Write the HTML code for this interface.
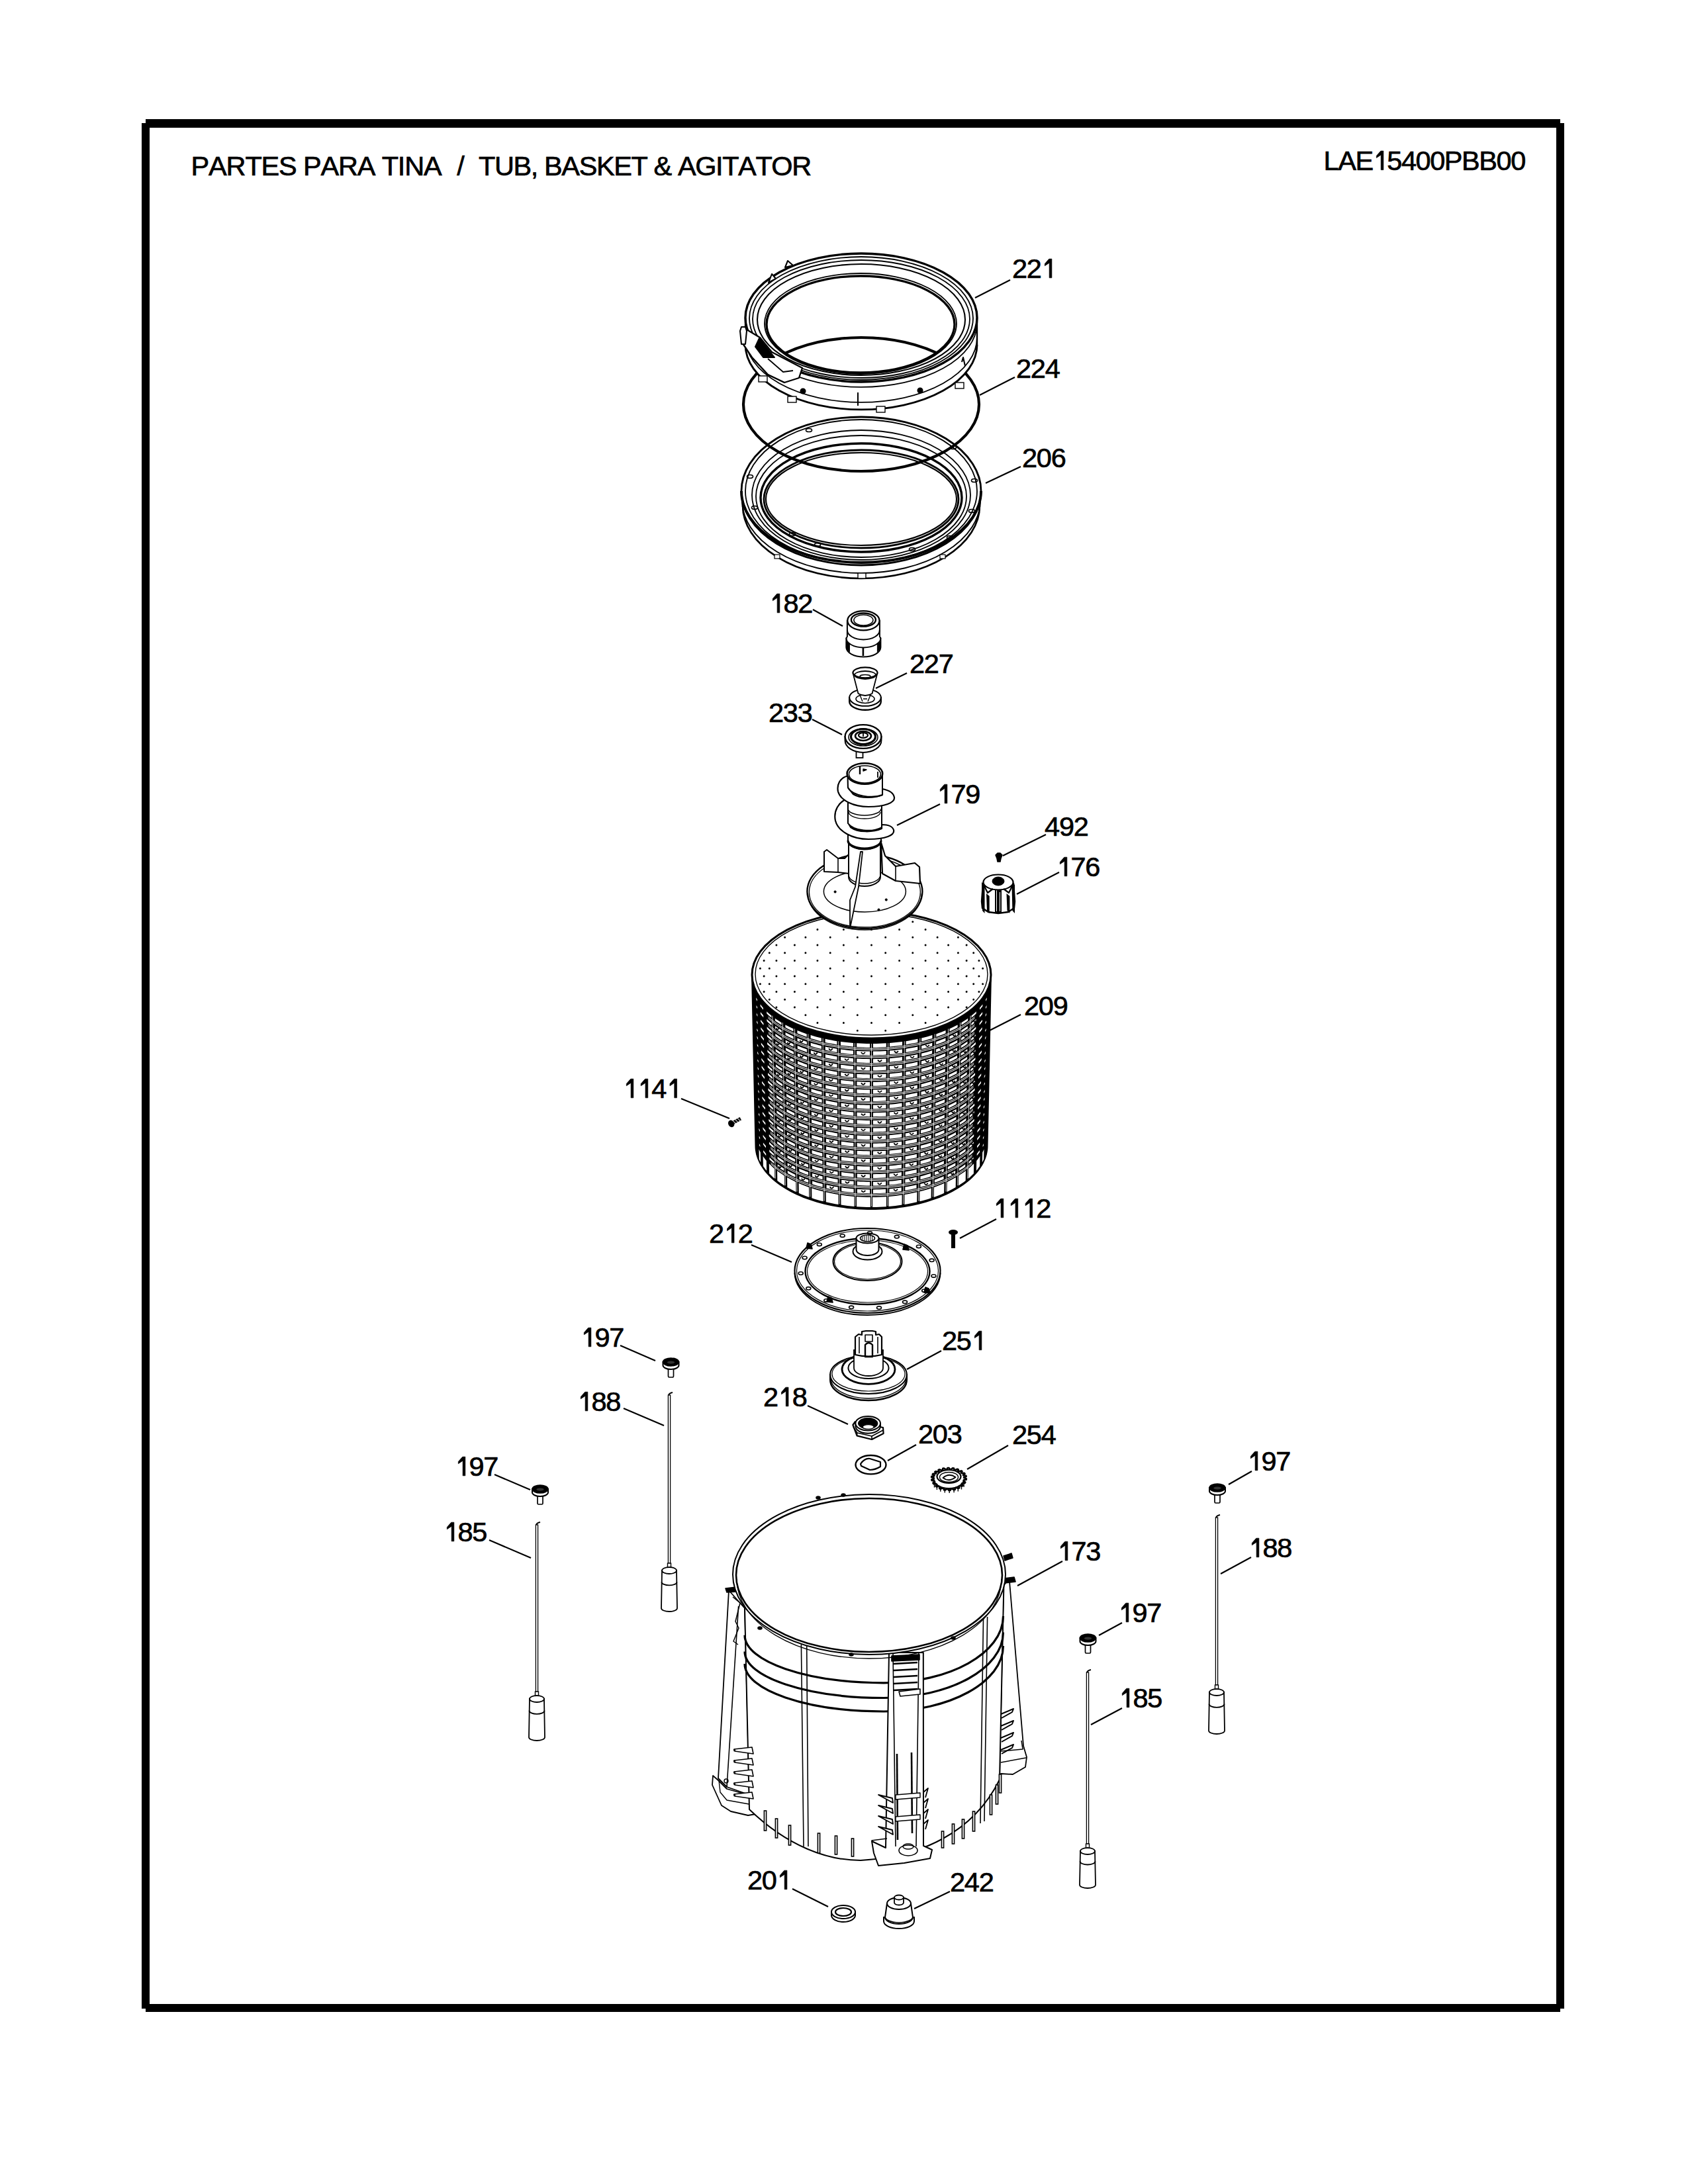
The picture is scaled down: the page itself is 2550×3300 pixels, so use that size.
<!DOCTYPE html>
<html><head><meta charset="utf-8"><style>
html,body{margin:0;padding:0;background:#fff;}
body{width:2550px;height:3300px;position:relative;overflow:hidden;}
svg{position:absolute;left:0;top:0;}
.lb{font-kerning:none;font-feature-settings:"kern" 0;font-family:"Liberation Sans",sans-serif;font-size:41.5px;letter-spacing:-1.2px;fill:#000;stroke:#000;stroke-width:0.7px;}
.tt{font-kerning:none;font-feature-settings:"kern" 0;font-family:"Liberation Sans",sans-serif;font-size:41.5px;fill:#000;stroke:#000;stroke-width:0.7px;white-space:pre;}
</style></head><body>
<svg width="2550" height="3300" viewBox="0 0 2550 3300">
<rect x="220" y="180" width="2137" height="13" fill="#000"/>
<rect x="220" y="3028" width="2137" height="12" fill="#000"/>
<rect x="214" y="186" width="12" height="2849" fill="#000"/>
<rect x="2351" y="186" width="12" height="2849" fill="#000"/>
<text x="288.6" y="264.8" class="tt" style="letter-spacing:-1.17px" xml:space="preserve">PARTES PARA TINA</text>
<text x="690.3" y="264.8" class="tt">/</text>
<text x="723.1" y="264.8" class="tt" style="letter-spacing:-1.41px" xml:space="preserve">TUB, BASKET &amp; AGITATOR</text>
<text x="1999.6" y="256.7" class="tt" style="letter-spacing:-1.45px" xml:space="preserve">LAE 5400PBB00</text>
<path d="M1120,742 A181,110 0 0 0 1482,742 L1482,764 A181,110 0 0 1 1120,764 Z" fill="#fff" stroke="none"/>
<path d="M1122.0,764.0 A179.0,110.0 0 0 0 1480.0,764.0" fill="none" stroke="#000" stroke-width="2.6"/>
<path d="M1121.0,756.0 A180.0,110.0 0 0 0 1481.0,756.0" fill="none" stroke="#000" stroke-width="1.9500000000000002"/>
<ellipse cx="1301.0" cy="742.0" rx="181.0" ry="112.0" fill="none" stroke="#000" stroke-width="2.8600000000000003" />
<ellipse cx="1301.0" cy="742.0" rx="175.0" ry="108.0" fill="none" stroke="#000" stroke-width="1.8199999999999998" />
<ellipse cx="1301.0" cy="748.0" rx="165.0" ry="98.0" fill="none" stroke="#000" stroke-width="1.8199999999999998" />
<ellipse cx="1301.0" cy="750.0" rx="159.0" ry="92.0" fill="none" stroke="#000" stroke-width="1.8199999999999998" />
<ellipse cx="1301.0" cy="752.0" rx="152.0" ry="82.0" fill="none" stroke="#000" stroke-width="3.3800000000000003" />
<ellipse cx="1301.0" cy="754.0" rx="147.0" ry="74.0" fill="none" stroke="#000" stroke-width="2.8600000000000003" />
<ellipse cx="1301.0" cy="754.0" rx="144.0" ry="70.0" fill="none" stroke="#000" stroke-width="2.08" />
<path d="M1120.0,742.0 A181.0,108.0 0 0 0 1482.0,742.0" fill="none" stroke="#000" stroke-width="3.9000000000000004"/>
<ellipse cx="1133.0" cy="720.0" rx="4.5" ry="2.5" fill="none" stroke="#000" stroke-width="1.6900000000000002" />
<ellipse cx="1140.0" cy="767.0" rx="4.5" ry="2.5" fill="none" stroke="#000" stroke-width="1.6900000000000002" />
<ellipse cx="1197.0" cy="807.0" rx="4.5" ry="2.5" fill="none" stroke="#000" stroke-width="1.6900000000000002" />
<ellipse cx="1235.0" cy="823.0" rx="4.5" ry="2.5" fill="none" stroke="#000" stroke-width="1.6900000000000002" />
<ellipse cx="1378.0" cy="830.0" rx="4.5" ry="2.5" fill="none" stroke="#000" stroke-width="1.6900000000000002" />
<ellipse cx="1435.0" cy="812.0" rx="4.5" ry="2.5" fill="none" stroke="#000" stroke-width="1.6900000000000002" />
<ellipse cx="1468.0" cy="772.0" rx="4.5" ry="2.5" fill="none" stroke="#000" stroke-width="1.6900000000000002" />
<ellipse cx="1472.0" cy="726.0" rx="4.5" ry="2.5" fill="none" stroke="#000" stroke-width="1.6900000000000002" />
<ellipse cx="1222.0" cy="650.0" rx="4.5" ry="2.5" fill="none" stroke="#000" stroke-width="1.6900000000000002" />
<ellipse cx="1440.0" cy="676.0" rx="4.5" ry="2.5" fill="none" stroke="#000" stroke-width="1.6900000000000002" />
<rect x="1296" y="866" width="12" height="8" fill="#fff" stroke="#000" stroke-width="1.4"/>
<rect x="1170" y="838" width="8" height="6" fill="#fff" stroke="#000" stroke-width="1.2"/>
<rect x="1420" y="838" width="8" height="6" fill="#fff" stroke="#000" stroke-width="1.2"/>
<ellipse cx="1301.0" cy="611.0" rx="178.0" ry="101.0" fill="none" stroke="#000" stroke-width="4.16" />
<path fill-rule="evenodd" fill="#fff" stroke="none" d="M1126,480 A175,97 0 0 1 1476,480 L1476,521 A175,98 0 0 1 1126,521 Z M1159,490 A142,73 0 0 0 1443,490 A142,73 0 0 0 1159,490 Z"/>
<path d="M1126.0,521.0 A175.0,98.0 0 0 0 1476.0,521.0" fill="none" stroke="#000" stroke-width="2.8600000000000003"/>
<path d="M1126.0,510.0 A175.0,98.0 0 0 0 1476.0,510.0" fill="none" stroke="#000" stroke-width="1.8199999999999998"/>
<path d="M1126.0,488.0 A175.0,97.0 0 0 0 1476.0,488.0" fill="none" stroke="#000" stroke-width="1.8199999999999998"/>
<line x1="1126.0" y1="480.0" x2="1126.0" y2="521.0" stroke="#000" stroke-width="2.3400000000000003"/>
<line x1="1476.0" y1="480.0" x2="1476.0" y2="521.0" stroke="#000" stroke-width="2.3400000000000003"/>
<ellipse cx="1301.0" cy="480.0" rx="175.0" ry="97.0" fill="none" stroke="#000" stroke-width="3.3800000000000003" />
<ellipse cx="1301.0" cy="481.0" rx="169.0" ry="93.0" fill="none" stroke="#000" stroke-width="1.8199999999999998" />
<ellipse cx="1301.0" cy="482.0" rx="164.0" ry="89.0" fill="none" stroke="#000" stroke-width="1.8199999999999998" />
<ellipse cx="1301.0" cy="483.0" rx="157.0" ry="84.0" fill="none" stroke="#000" stroke-width="2.08" />
<ellipse cx="1300.0" cy="489.0" rx="145.0" ry="76.0" fill="none" stroke="#000" stroke-width="1.8199999999999998" />
<ellipse cx="1300.0" cy="490.0" rx="142.0" ry="73.0" fill="none" stroke="#000" stroke-width="3.3800000000000003" />
<path d="M1120,516 L1128,498 L1148,510 L1166,532 L1212,556 L1207,571 L1185,578 L1160,566 L1136,540 Z" fill="#fff" stroke="#000" stroke-width="2.3400000000000003" stroke-linejoin="round"/>
<path d="M1147,511 L1141,524 L1153,540 L1170,540 Z" fill="#000" stroke="#000" stroke-width="1.9500000000000002" stroke-linejoin="round"/>
<path d="M1136,540 L1160,566 L1185,578 M1160,542 L1183,562 L1198,560" fill="none" stroke="#000" stroke-width="1.8199999999999998" stroke-linejoin="round"/>
<path d="M1118,500 L1120,494 L1126,494 L1128,500 L1126,520 L1120,520 Z" fill="#fff" stroke="#000" stroke-width="2.08" stroke-linejoin="round"/>
<path d="M1161,427 L1166,414 L1172,421 Z" fill="#fff" stroke="#000" stroke-width="2.08" stroke-linejoin="round"/>
<path d="M1186,404 L1190,394 L1198,401 Z" fill="#fff" stroke="#000" stroke-width="2.08" stroke-linejoin="round"/>
<rect x="1146" y="568" width="13" height="9" fill="#fff" stroke="#000" stroke-width="1.4"/>
<rect x="1190" y="599" width="13" height="9" fill="#fff" stroke="#000" stroke-width="1.4"/>
<rect x="1324" y="614" width="13" height="9" fill="#fff" stroke="#000" stroke-width="1.4"/>
<rect x="1443" y="578" width="13" height="9" fill="#fff" stroke="#000" stroke-width="1.4"/>
<ellipse cx="1213.0" cy="591.0" rx="3.5" ry="3.5" fill="#000" stroke="#000" stroke-width="2.08" />
<ellipse cx="1390.0" cy="590.0" rx="3.5" ry="3.5" fill="#000" stroke="#000" stroke-width="2.08" />
<line x1="1296.0" y1="593.0" x2="1296.0" y2="613.0" stroke="#000" stroke-width="2.08"/>
<path d="M1453,547 L1455,540 L1458,553" fill="none" stroke="#000" stroke-width="2.08" stroke-linejoin="round"/>
<path d="M1136.0,1473.0 L1136.1,1476.4 L1136.4,1479.7 L1137.0,1483.0 L1137.8,1486.4 L1138.7,1489.7 L1139.9,1493.0 L1141.4,1496.2 L1143.0,1499.5 L1144.8,1502.7 L1146.9,1505.8 L1149.1,1509.0 L1151.6,1512.0 L1154.3,1515.1 L1157.1,1518.1 L1160.2,1521.0 L1163.4,1523.9 L1166.9,1526.7 L1170.5,1529.4 L1174.3,1532.1 L1178.2,1534.7 L1182.4,1537.2 L1186.7,1539.7 L1191.1,1542.1 L1195.7,1544.3 L1200.5,1546.5 L1205.4,1548.6 L1210.4,1550.7 L1215.6,1552.6 L1220.8,1554.4 L1226.2,1556.1 L1231.8,1557.8 L1237.4,1559.3 L1243.1,1560.7 L1248.9,1562.0 L1254.8,1563.2 L1260.7,1564.3 L1266.7,1565.3 L1272.8,1566.1 L1279.0,1566.9 L1285.2,1567.5 L1291.4,1568.1 L1297.6,1568.5 L1303.9,1568.8 L1310.2,1568.9 L1316.5,1569.0 L1322.8,1568.9 L1329.1,1568.8 L1335.4,1568.5 L1341.6,1568.1 L1347.8,1567.5 L1354.0,1566.9 L1360.2,1566.1 L1366.3,1565.3 L1372.3,1564.3 L1378.2,1563.2 L1384.1,1562.0 L1389.9,1560.7 L1395.6,1559.3 L1401.2,1557.8 L1406.8,1556.1 L1412.2,1554.4 L1417.4,1552.6 L1422.6,1550.7 L1427.6,1548.6 L1432.5,1546.5 L1437.3,1544.3 L1441.9,1542.1 L1446.3,1539.7 L1450.6,1537.2 L1454.8,1534.7 L1458.7,1532.1 L1462.5,1529.4 L1466.1,1526.7 L1469.6,1523.9 L1472.8,1521.0 L1475.9,1518.1 L1478.7,1515.1 L1481.4,1512.0 L1483.9,1509.0 L1486.1,1505.8 L1488.2,1502.7 L1490.0,1499.5 L1491.6,1496.2 L1493.1,1493.0 L1494.3,1489.7 L1495.2,1486.4 L1496.0,1483.0 L1496.6,1479.7 L1496.9,1476.4 L1497.0,1473.0 L1491.5,1731.0 L1491.4,1734.4 L1491.1,1737.7 L1490.5,1741.0 L1489.8,1744.4 L1488.8,1747.7 L1487.7,1751.0 L1486.3,1754.2 L1484.7,1757.5 L1482.9,1760.7 L1480.9,1763.8 L1478.8,1767.0 L1476.4,1770.0 L1473.8,1773.1 L1471.0,1776.1 L1468.1,1779.0 L1464.9,1781.9 L1461.6,1784.7 L1458.1,1787.4 L1454.4,1790.1 L1450.6,1792.7 L1446.6,1795.2 L1442.4,1797.7 L1438.1,1800.1 L1433.6,1802.3 L1429.0,1804.5 L1424.2,1806.6 L1419.4,1808.7 L1414.4,1810.6 L1409.2,1812.4 L1404.0,1814.1 L1398.7,1815.8 L1393.2,1817.3 L1387.7,1818.7 L1382.1,1820.0 L1376.4,1821.2 L1370.6,1822.3 L1364.7,1823.3 L1358.8,1824.1 L1352.9,1824.9 L1346.9,1825.5 L1340.9,1826.1 L1334.8,1826.5 L1328.7,1826.8 L1322.6,1826.9 L1316.5,1827.0 L1310.4,1826.9 L1304.3,1826.8 L1298.2,1826.5 L1292.1,1826.1 L1286.1,1825.5 L1280.1,1824.9 L1274.2,1824.1 L1268.3,1823.3 L1262.4,1822.3 L1256.6,1821.2 L1250.9,1820.0 L1245.3,1818.7 L1239.8,1817.3 L1234.3,1815.8 L1229.0,1814.1 L1223.8,1812.4 L1218.6,1810.6 L1213.6,1808.7 L1208.8,1806.6 L1204.0,1804.5 L1199.4,1802.3 L1194.9,1800.1 L1190.6,1797.7 L1186.4,1795.2 L1182.4,1792.7 L1178.6,1790.1 L1174.9,1787.4 L1171.4,1784.7 L1168.1,1781.9 L1164.9,1779.0 L1162.0,1776.1 L1159.2,1773.1 L1156.6,1770.0 L1154.2,1767.0 L1152.1,1763.8 L1150.1,1760.7 L1148.3,1757.5 L1146.7,1754.2 L1145.3,1751.0 L1144.2,1747.7 L1143.2,1744.4 L1142.5,1741.0 L1141.9,1737.7 L1141.6,1734.4 L1141.5,1731.0 Z" fill="#000" stroke="#000" stroke-width="2"/>
<path d="M1142.3,1507.3 L1142.7,1508.0 L1143.1,1508.8 L1143.5,1509.5 L1143.9,1510.2 L1143.9,1513.0 L1143.5,1512.2 L1143.1,1511.5 L1142.7,1510.8 L1142.4,1510.1ZM1148.6,1517.4 L1149.7,1518.8 L1150.7,1520.2 L1151.8,1521.5 L1153.0,1522.9 L1153.0,1525.8 L1151.9,1524.5 L1150.8,1523.1 L1149.7,1521.8 L1148.7,1520.4ZM1158.2,1528.2 L1159.9,1529.9 L1161.6,1531.4 L1163.4,1533.0 L1165.3,1534.6 L1165.4,1537.8 L1163.5,1536.3 L1161.7,1534.7 L1159.9,1533.1 L1158.3,1531.5ZM1170.8,1538.7 L1173.2,1540.4 L1175.6,1542.0 L1178.0,1543.6 L1180.6,1545.2 L1180.6,1548.8 L1178.1,1547.2 L1175.6,1545.6 L1173.2,1543.9 L1170.9,1542.3ZM1186.3,1548.4 L1189.3,1549.9 L1192.3,1551.5 L1195.3,1553.0 L1198.5,1554.5 L1198.5,1558.5 L1195.4,1557.0 L1192.3,1555.5 L1189.3,1553.9 L1186.4,1552.3ZM1204.4,1556.9 L1207.8,1558.3 L1211.4,1559.7 L1215.0,1561.1 L1218.7,1562.4 L1218.7,1566.7 L1215.1,1565.4 L1211.4,1564.1 L1207.9,1562.7 L1204.4,1561.3ZM1224.6,1564.1 L1228.5,1565.3 L1232.6,1566.5 L1236.6,1567.6 L1240.8,1568.6 L1240.8,1573.4 L1236.7,1572.4 L1232.6,1571.3 L1228.6,1570.1 L1224.6,1568.9ZM1246.6,1569.8 L1251.0,1570.8 L1255.4,1571.6 L1259.9,1572.5 L1264.4,1573.2 L1264.4,1578.4 L1259.9,1577.6 L1255.4,1576.8 L1251.0,1575.9 L1246.6,1575.0ZM1269.9,1573.9 L1274.6,1574.5 L1279.4,1575.1 L1284.2,1575.6 L1289.0,1576.0 L1289.0,1581.5 L1284.2,1581.1 L1279.4,1580.6 L1274.7,1580.0 L1270.0,1579.4ZM1294.2,1576.3 L1299.2,1576.6 L1304.1,1576.8 L1309.1,1576.9 L1314.1,1577.0 L1314.1,1582.8 L1309.1,1582.7 L1304.1,1582.5 L1299.2,1582.3 L1294.2,1582.0ZM1318.9,1577.0 L1323.9,1576.9 L1328.9,1576.8 L1333.8,1576.6 L1338.8,1576.3 L1338.8,1582.0 L1333.8,1582.3 L1328.9,1582.5 L1323.9,1582.7 L1318.9,1582.8ZM1344.0,1576.0 L1348.8,1575.6 L1353.6,1575.1 L1358.4,1574.5 L1363.1,1573.9 L1363.0,1579.4 L1358.3,1580.0 L1353.6,1580.6 L1348.8,1581.1 L1344.0,1581.5ZM1368.6,1573.2 L1373.1,1572.5 L1377.6,1571.6 L1382.0,1570.8 L1386.4,1569.8 L1386.4,1575.0 L1382.0,1575.9 L1377.6,1576.8 L1373.1,1577.6 L1368.6,1578.4ZM1392.2,1568.6 L1396.4,1567.6 L1400.4,1566.5 L1404.5,1565.3 L1408.4,1564.1 L1408.4,1568.9 L1404.4,1570.1 L1400.4,1571.3 L1396.3,1572.4 L1392.2,1573.4ZM1414.3,1562.4 L1418.0,1561.1 L1421.6,1559.7 L1425.2,1558.3 L1428.6,1556.9 L1428.6,1561.3 L1425.1,1562.7 L1421.6,1564.1 L1417.9,1565.4 L1414.3,1566.7ZM1434.5,1554.5 L1437.7,1553.0 L1440.7,1551.5 L1443.7,1549.9 L1446.7,1548.4 L1446.6,1552.3 L1443.7,1553.9 L1440.7,1555.5 L1437.6,1557.0 L1434.5,1558.5ZM1452.4,1545.2 L1455.0,1543.6 L1457.4,1542.0 L1459.8,1540.4 L1462.2,1538.7 L1462.1,1542.3 L1459.8,1543.9 L1457.4,1545.6 L1454.9,1547.2 L1452.4,1548.8ZM1467.7,1534.6 L1469.6,1533.0 L1471.4,1531.4 L1473.1,1529.9 L1474.8,1528.2 L1474.7,1531.5 L1473.1,1533.1 L1471.3,1534.7 L1469.5,1536.3 L1467.6,1537.8ZM1480.0,1522.9 L1481.2,1521.5 L1482.3,1520.2 L1483.3,1518.8 L1484.4,1517.4 L1484.3,1520.4 L1483.3,1521.8 L1482.2,1523.1 L1481.1,1524.5 L1480.0,1525.8ZM1489.1,1510.2 L1489.5,1509.5 L1489.9,1508.8 L1490.3,1508.0 L1490.7,1507.3 L1490.6,1510.1 L1490.3,1510.8 L1489.9,1511.5 L1489.5,1512.2 L1489.1,1513.0ZM1142.6,1518.9 L1142.9,1519.6 L1143.3,1520.4 L1143.7,1521.1 L1144.1,1521.8 L1144.1,1524.5 L1143.7,1523.8 L1143.4,1523.1 L1143.0,1522.4 L1142.6,1521.7ZM1148.9,1529.0 L1149.9,1530.4 L1151.0,1531.8 L1152.1,1533.1 L1153.2,1534.5 L1153.3,1537.4 L1152.1,1536.1 L1151.0,1534.7 L1149.9,1533.4 L1148.9,1532.0ZM1158.4,1539.8 L1160.1,1541.5 L1161.8,1543.1 L1163.7,1544.6 L1165.5,1546.2 L1165.6,1549.4 L1163.7,1547.9 L1161.9,1546.3 L1160.2,1544.7 L1158.5,1543.1ZM1171.1,1550.3 L1173.4,1552.0 L1175.8,1553.6 L1178.2,1555.2 L1180.8,1556.8 L1180.8,1560.4 L1178.3,1558.8 L1175.8,1557.2 L1173.4,1555.5 L1171.1,1553.9ZM1186.5,1560.0 L1189.4,1561.6 L1192.4,1563.1 L1195.5,1564.6 L1198.6,1566.1 L1198.7,1570.0 L1195.6,1568.6 L1192.5,1567.1 L1189.5,1565.5 L1186.6,1563.9ZM1204.5,1568.5 L1208.0,1569.9 L1211.5,1571.3 L1215.1,1572.7 L1218.8,1574.0 L1218.9,1578.3 L1215.2,1577.0 L1211.6,1575.7 L1208.1,1574.3 L1204.6,1572.9ZM1224.7,1575.7 L1228.7,1576.9 L1232.7,1578.1 L1236.8,1579.2 L1240.9,1580.2 L1240.9,1585.0 L1236.8,1584.0 L1232.7,1582.9 L1228.7,1581.7 L1224.8,1580.5ZM1246.7,1581.4 L1251.0,1582.4 L1255.5,1583.2 L1259.9,1584.1 L1264.4,1584.8 L1264.5,1590.0 L1260.0,1589.2 L1255.5,1588.4 L1251.1,1587.5 L1246.7,1586.6ZM1270.0,1585.5 L1274.7,1586.1 L1279.4,1586.7 L1284.2,1587.2 L1289.0,1587.6 L1289.0,1593.1 L1284.2,1592.7 L1279.5,1592.2 L1274.7,1591.6 L1270.0,1591.0ZM1294.2,1587.9 L1299.2,1588.2 L1304.1,1588.4 L1309.1,1588.5 L1314.1,1588.6 L1314.1,1594.4 L1309.1,1594.3 L1304.2,1594.1 L1299.2,1593.9 L1294.2,1593.6ZM1318.9,1588.6 L1323.9,1588.5 L1328.9,1588.4 L1333.8,1588.2 L1338.8,1587.9 L1338.8,1593.6 L1333.8,1593.9 L1328.8,1594.1 L1323.9,1594.3 L1318.9,1594.4ZM1344.0,1587.6 L1348.8,1587.2 L1353.6,1586.7 L1358.3,1586.1 L1363.0,1585.5 L1363.0,1591.0 L1358.3,1591.6 L1353.5,1592.2 L1348.8,1592.7 L1344.0,1593.1ZM1368.6,1584.8 L1373.1,1584.1 L1377.5,1583.2 L1382.0,1582.4 L1386.3,1581.4 L1386.3,1586.6 L1381.9,1587.5 L1377.5,1588.4 L1373.0,1589.2 L1368.5,1590.0ZM1392.1,1580.2 L1396.2,1579.2 L1400.3,1578.1 L1404.3,1576.9 L1408.3,1575.7 L1408.2,1580.5 L1404.3,1581.7 L1400.3,1582.9 L1396.2,1584.0 L1392.1,1585.0ZM1414.2,1574.0 L1417.9,1572.7 L1421.5,1571.3 L1425.0,1569.9 L1428.5,1568.5 L1428.4,1572.9 L1424.9,1574.3 L1421.4,1575.7 L1417.8,1577.0 L1414.1,1578.3ZM1434.4,1566.1 L1437.5,1564.6 L1440.6,1563.1 L1443.6,1561.6 L1446.5,1560.0 L1446.4,1563.9 L1443.5,1565.5 L1440.5,1567.1 L1437.4,1568.6 L1434.3,1570.0ZM1452.2,1556.8 L1454.8,1555.2 L1457.2,1553.6 L1459.6,1552.0 L1461.9,1550.3 L1461.9,1553.9 L1459.6,1555.5 L1457.2,1557.2 L1454.7,1558.8 L1452.2,1560.4ZM1467.5,1546.2 L1469.3,1544.6 L1471.2,1543.1 L1472.9,1541.5 L1474.6,1539.8 L1474.5,1543.1 L1472.8,1544.7 L1471.1,1546.3 L1469.3,1547.9 L1467.4,1549.4ZM1479.8,1534.5 L1480.9,1533.1 L1482.0,1531.8 L1483.1,1530.4 L1484.1,1529.0 L1484.1,1532.0 L1483.1,1533.4 L1482.0,1534.7 L1480.9,1536.1 L1479.7,1537.4ZM1488.9,1521.8 L1489.3,1521.1 L1489.7,1520.4 L1490.1,1519.6 L1490.4,1518.9 L1490.4,1521.7 L1490.0,1522.4 L1489.6,1523.1 L1489.3,1523.8 L1488.9,1524.5ZM1142.8,1530.5 L1143.2,1531.2 L1143.5,1532.0 L1143.9,1532.7 L1144.3,1533.4 L1144.4,1536.1 L1144.0,1535.4 L1143.6,1534.7 L1143.2,1534.0 L1142.9,1533.3ZM1149.1,1540.7 L1150.1,1542.0 L1151.2,1543.4 L1152.3,1544.7 L1153.4,1546.1 L1153.5,1549.0 L1152.3,1547.7 L1151.2,1546.3 L1150.2,1545.0 L1149.1,1543.6ZM1158.6,1551.4 L1160.3,1553.1 L1162.1,1554.7 L1163.9,1556.2 L1165.7,1557.8 L1165.8,1561.0 L1163.9,1559.5 L1162.1,1557.9 L1160.4,1556.3 L1158.7,1554.7ZM1171.3,1561.9 L1173.6,1563.6 L1176.0,1565.2 L1178.4,1566.8 L1180.9,1568.4 L1181.0,1572.0 L1178.5,1570.4 L1176.0,1568.8 L1173.6,1567.1 L1171.3,1565.5ZM1186.7,1571.6 L1189.6,1573.2 L1192.6,1574.7 L1195.7,1576.2 L1198.8,1577.7 L1198.8,1581.6 L1195.7,1580.2 L1192.7,1578.7 L1189.7,1577.1 L1186.8,1575.5ZM1204.7,1580.1 L1208.2,1581.5 L1211.7,1582.9 L1215.3,1584.3 L1218.9,1585.6 L1219.0,1589.9 L1215.3,1588.6 L1211.7,1587.3 L1208.2,1585.9 L1204.7,1584.5ZM1224.8,1587.3 L1228.8,1588.5 L1232.8,1589.7 L1236.9,1590.8 L1241.0,1591.8 L1241.0,1596.6 L1236.9,1595.6 L1232.8,1594.5 L1228.8,1593.3 L1224.9,1592.1ZM1246.8,1593.0 L1251.1,1594.0 L1255.6,1594.8 L1260.0,1595.7 L1264.5,1596.4 L1264.5,1601.6 L1260.0,1600.8 L1255.6,1600.0 L1251.2,1599.1 L1246.8,1598.2ZM1270.1,1597.1 L1274.8,1597.7 L1279.5,1598.3 L1284.3,1598.8 L1289.0,1599.2 L1289.1,1604.7 L1284.3,1604.3 L1279.5,1603.8 L1274.8,1603.2 L1270.1,1602.6ZM1294.3,1599.5 L1299.2,1599.8 L1304.2,1600.0 L1309.1,1600.1 L1314.1,1600.2 L1314.1,1606.0 L1309.1,1605.9 L1304.2,1605.7 L1299.2,1605.5 L1294.3,1605.2ZM1318.9,1600.2 L1323.9,1600.1 L1328.8,1600.0 L1333.8,1599.8 L1338.7,1599.5 L1338.7,1605.2 L1333.8,1605.5 L1328.8,1605.7 L1323.9,1605.9 L1318.9,1606.0ZM1344.0,1599.2 L1348.7,1598.8 L1353.5,1598.3 L1358.2,1597.7 L1362.9,1597.1 L1362.9,1602.6 L1358.2,1603.2 L1353.5,1603.8 L1348.7,1604.3 L1343.9,1604.7ZM1368.5,1596.4 L1373.0,1595.7 L1377.4,1594.8 L1381.9,1594.0 L1386.2,1593.0 L1386.2,1598.2 L1381.8,1599.1 L1377.4,1600.0 L1373.0,1600.8 L1368.5,1601.6ZM1392.0,1591.8 L1396.1,1590.8 L1400.2,1589.7 L1404.2,1588.5 L1408.2,1587.3 L1408.1,1592.1 L1404.2,1593.3 L1400.2,1594.5 L1396.1,1595.6 L1392.0,1596.6ZM1414.1,1585.6 L1417.7,1584.3 L1421.3,1582.9 L1424.8,1581.5 L1428.3,1580.1 L1428.3,1584.5 L1424.8,1585.9 L1421.3,1587.3 L1417.7,1588.6 L1414.0,1589.9ZM1434.2,1577.7 L1437.3,1576.2 L1440.4,1574.7 L1443.4,1573.2 L1446.3,1571.6 L1446.2,1575.5 L1443.3,1577.1 L1440.3,1578.7 L1437.3,1580.2 L1434.2,1581.6ZM1452.1,1568.4 L1454.6,1566.8 L1457.0,1565.2 L1459.4,1563.6 L1461.7,1561.9 L1461.7,1565.5 L1459.4,1567.1 L1457.0,1568.8 L1454.5,1570.4 L1452.0,1572.0ZM1467.3,1557.8 L1469.1,1556.2 L1470.9,1554.7 L1472.7,1553.1 L1474.4,1551.4 L1474.3,1554.7 L1472.6,1556.3 L1470.9,1557.9 L1469.1,1559.5 L1467.2,1561.0ZM1479.6,1546.1 L1480.7,1544.7 L1481.8,1543.4 L1482.9,1542.0 L1483.9,1540.7 L1483.9,1543.6 L1482.8,1545.0 L1481.8,1546.3 L1480.7,1547.7 L1479.5,1549.0ZM1488.7,1533.4 L1489.1,1532.7 L1489.5,1532.0 L1489.8,1531.2 L1490.2,1530.5 L1490.1,1533.3 L1489.8,1534.0 L1489.4,1534.7 L1489.0,1535.4 L1488.6,1536.1ZM1143.0,1542.1 L1143.4,1542.8 L1143.8,1543.6 L1144.2,1544.3 L1144.6,1545.0 L1144.6,1547.7 L1144.2,1547.0 L1143.8,1546.3 L1143.5,1545.6 L1143.1,1544.9ZM1149.3,1552.3 L1150.4,1553.6 L1151.4,1555.0 L1152.5,1556.3 L1153.7,1557.7 L1153.7,1560.6 L1152.6,1559.3 L1151.5,1557.9 L1150.4,1556.6 L1149.4,1555.2ZM1158.9,1563.1 L1160.5,1564.7 L1162.3,1566.3 L1164.1,1567.8 L1165.9,1569.4 L1166.0,1572.6 L1164.1,1571.1 L1162.3,1569.5 L1160.6,1567.9 L1158.9,1566.3ZM1171.5,1573.5 L1173.8,1575.2 L1176.2,1576.8 L1178.6,1578.4 L1181.1,1580.0 L1181.2,1583.5 L1178.7,1582.0 L1176.2,1580.4 L1173.8,1578.7 L1171.5,1577.1ZM1186.9,1583.2 L1189.8,1584.8 L1192.8,1586.3 L1195.8,1587.8 L1198.9,1589.3 L1199.0,1593.2 L1195.9,1591.8 L1192.8,1590.3 L1189.9,1588.7 L1187.0,1587.1ZM1204.8,1591.7 L1208.3,1593.1 L1211.8,1594.5 L1215.4,1595.9 L1219.1,1597.2 L1219.1,1601.5 L1215.5,1600.2 L1211.9,1598.9 L1208.4,1597.5 L1204.9,1596.1ZM1225.0,1598.9 L1228.9,1600.1 L1232.9,1601.3 L1237.0,1602.4 L1241.1,1603.4 L1241.1,1608.2 L1237.0,1607.2 L1233.0,1606.1 L1229.0,1604.9 L1225.0,1603.7ZM1246.9,1604.6 L1251.2,1605.6 L1255.6,1606.4 L1260.1,1607.3 L1264.6,1608.0 L1264.6,1613.2 L1260.1,1612.4 L1255.7,1611.6 L1251.3,1610.7 L1246.9,1609.8ZM1270.1,1608.7 L1274.8,1609.3 L1279.5,1609.9 L1284.3,1610.4 L1289.1,1610.8 L1289.1,1616.3 L1284.3,1615.9 L1279.6,1615.4 L1274.9,1614.8 L1270.2,1614.2ZM1294.3,1611.1 L1299.2,1611.4 L1304.2,1611.6 L1309.1,1611.7 L1314.1,1611.8 L1314.1,1617.6 L1309.1,1617.5 L1304.2,1617.3 L1299.2,1617.1 L1294.3,1616.8ZM1318.9,1611.8 L1323.9,1611.7 L1328.8,1611.6 L1333.8,1611.4 L1338.7,1611.1 L1338.7,1616.8 L1333.8,1617.1 L1328.8,1617.3 L1323.9,1617.5 L1318.9,1617.6ZM1343.9,1610.8 L1348.7,1610.4 L1353.5,1609.9 L1358.2,1609.3 L1362.9,1608.7 L1362.8,1614.2 L1358.1,1614.8 L1353.4,1615.4 L1348.7,1615.9 L1343.9,1616.3ZM1368.4,1608.0 L1372.9,1607.3 L1377.4,1606.4 L1381.8,1605.6 L1386.1,1604.6 L1386.1,1609.8 L1381.7,1610.7 L1377.3,1611.6 L1372.9,1612.4 L1368.4,1613.2ZM1391.9,1603.4 L1396.0,1602.4 L1400.1,1601.3 L1404.1,1600.1 L1408.0,1598.9 L1408.0,1603.7 L1404.0,1604.9 L1400.0,1606.1 L1396.0,1607.2 L1391.9,1608.2ZM1413.9,1597.2 L1417.6,1595.9 L1421.2,1594.5 L1424.7,1593.1 L1428.2,1591.7 L1428.1,1596.1 L1424.6,1597.5 L1421.1,1598.9 L1417.5,1600.2 L1413.9,1601.5ZM1434.1,1589.3 L1437.2,1587.8 L1440.2,1586.3 L1443.2,1584.8 L1446.1,1583.2 L1446.0,1587.1 L1443.1,1588.7 L1440.2,1590.3 L1437.1,1591.8 L1434.0,1593.2ZM1451.9,1580.0 L1454.4,1578.4 L1456.8,1576.8 L1459.2,1575.2 L1461.5,1573.5 L1461.5,1577.1 L1459.2,1578.7 L1456.8,1580.4 L1454.3,1582.0 L1451.8,1583.5ZM1467.1,1569.4 L1468.9,1567.8 L1470.7,1566.3 L1472.5,1564.7 L1474.1,1563.1 L1474.1,1566.3 L1472.4,1567.9 L1470.7,1569.5 L1468.9,1571.1 L1467.0,1572.6ZM1479.3,1557.7 L1480.5,1556.3 L1481.6,1555.0 L1482.6,1553.6 L1483.7,1552.3 L1483.6,1555.2 L1482.6,1556.6 L1481.5,1557.9 L1480.4,1559.3 L1479.3,1560.6ZM1488.4,1545.0 L1488.8,1544.3 L1489.2,1543.6 L1489.6,1542.8 L1490.0,1542.1 L1489.9,1544.9 L1489.5,1545.6 L1489.2,1546.3 L1488.8,1547.0 L1488.4,1547.7ZM1143.3,1553.7 L1143.6,1554.5 L1144.0,1555.2 L1144.4,1555.9 L1144.8,1556.6 L1144.9,1559.3 L1144.5,1558.6 L1144.1,1557.9 L1143.7,1557.2 L1143.3,1556.5ZM1149.6,1563.9 L1150.6,1565.2 L1151.6,1566.6 L1152.7,1567.9 L1153.9,1569.3 L1153.9,1572.2 L1152.8,1570.9 L1151.7,1569.5 L1150.6,1568.2 L1149.6,1566.8ZM1159.1,1574.7 L1160.8,1576.3 L1162.5,1577.9 L1164.3,1579.4 L1166.1,1581.0 L1166.2,1584.2 L1164.3,1582.7 L1162.6,1581.1 L1160.8,1579.5 L1159.1,1577.9ZM1171.7,1585.1 L1174.0,1586.8 L1176.4,1588.4 L1178.8,1590.0 L1181.3,1591.6 L1181.4,1595.1 L1178.9,1593.6 L1176.4,1592.0 L1174.0,1590.3 L1171.7,1588.7ZM1187.1,1594.8 L1190.0,1596.4 L1193.0,1597.9 L1196.0,1599.4 L1199.1,1600.9 L1199.2,1604.8 L1196.1,1603.4 L1193.0,1601.9 L1190.0,1600.3 L1187.1,1598.7ZM1205.0,1603.3 L1208.5,1604.7 L1212.0,1606.1 L1215.6,1607.5 L1219.2,1608.8 L1219.2,1613.1 L1215.6,1611.8 L1212.0,1610.5 L1208.5,1609.1 L1205.1,1607.7ZM1225.1,1610.5 L1229.0,1611.7 L1233.0,1612.9 L1237.1,1614.0 L1241.2,1615.0 L1241.2,1619.8 L1237.1,1618.8 L1233.1,1617.7 L1229.1,1616.5 L1225.1,1615.3ZM1247.0,1616.2 L1251.3,1617.2 L1255.7,1618.0 L1260.2,1618.9 L1264.6,1619.6 L1264.7,1624.8 L1260.2,1624.0 L1255.8,1623.2 L1251.4,1622.3 L1247.0,1621.4ZM1270.2,1620.3 L1274.9,1620.9 L1279.6,1621.5 L1284.3,1622.0 L1289.1,1622.4 L1289.1,1627.9 L1284.4,1627.5 L1279.6,1627.0 L1274.9,1626.4 L1270.2,1625.8ZM1294.3,1622.7 L1299.3,1623.0 L1304.2,1623.2 L1309.1,1623.3 L1314.1,1623.4 L1314.1,1629.2 L1309.2,1629.1 L1304.2,1628.9 L1299.3,1628.7 L1294.4,1628.4ZM1318.9,1623.4 L1323.9,1623.3 L1328.8,1623.2 L1333.7,1623.0 L1338.7,1622.7 L1338.6,1628.4 L1333.7,1628.7 L1328.8,1628.9 L1323.8,1629.1 L1318.9,1629.2ZM1343.9,1622.4 L1348.7,1622.0 L1353.4,1621.5 L1358.1,1620.9 L1362.8,1620.3 L1362.8,1625.8 L1358.1,1626.4 L1353.4,1627.0 L1348.6,1627.5 L1343.9,1627.9ZM1368.4,1619.6 L1372.8,1618.9 L1377.3,1618.0 L1381.7,1617.2 L1386.0,1616.2 L1386.0,1621.4 L1381.6,1622.3 L1377.2,1623.2 L1372.8,1624.0 L1368.3,1624.8ZM1391.8,1615.0 L1395.9,1614.0 L1400.0,1612.9 L1404.0,1611.7 L1407.9,1610.5 L1407.9,1615.3 L1403.9,1616.5 L1399.9,1617.7 L1395.9,1618.8 L1391.8,1619.8ZM1413.8,1608.8 L1417.4,1607.5 L1421.0,1606.1 L1424.5,1604.7 L1428.0,1603.3 L1427.9,1607.7 L1424.5,1609.1 L1421.0,1610.5 L1417.4,1611.8 L1413.8,1613.1ZM1433.9,1600.9 L1437.0,1599.4 L1440.0,1597.9 L1443.0,1596.4 L1445.9,1594.8 L1445.9,1598.7 L1443.0,1600.3 L1440.0,1601.9 L1436.9,1603.4 L1433.8,1604.8ZM1451.7,1591.6 L1454.2,1590.0 L1456.6,1588.4 L1459.0,1586.8 L1461.3,1585.1 L1461.3,1588.7 L1459.0,1590.3 L1456.6,1592.0 L1454.1,1593.6 L1451.6,1595.1ZM1466.9,1581.0 L1468.7,1579.4 L1470.5,1577.9 L1472.2,1576.3 L1473.9,1574.7 L1473.9,1577.9 L1472.2,1579.5 L1470.4,1581.1 L1468.7,1582.7 L1466.8,1584.2ZM1479.1,1569.3 L1480.3,1567.9 L1481.4,1566.6 L1482.4,1565.2 L1483.4,1563.9 L1483.4,1566.8 L1482.4,1568.2 L1481.3,1569.5 L1480.2,1570.9 L1479.1,1572.2ZM1488.2,1556.6 L1488.6,1555.9 L1489.0,1555.2 L1489.4,1554.5 L1489.7,1553.7 L1489.7,1556.5 L1489.3,1557.2 L1488.9,1557.9 L1488.5,1558.6 L1488.1,1559.3ZM1143.5,1565.4 L1143.9,1566.1 L1144.3,1566.8 L1144.6,1567.5 L1145.0,1568.2 L1145.1,1570.9 L1144.7,1570.2 L1144.3,1569.5 L1143.9,1568.8 L1143.6,1568.1ZM1149.8,1575.5 L1150.8,1576.8 L1151.9,1578.2 L1153.0,1579.5 L1154.1,1580.9 L1154.2,1583.8 L1153.0,1582.5 L1151.9,1581.1 L1150.9,1579.8 L1149.9,1578.4ZM1159.3,1586.3 L1161.0,1587.9 L1162.7,1589.5 L1164.5,1591.0 L1166.3,1592.6 L1166.4,1595.8 L1164.5,1594.3 L1162.8,1592.7 L1161.0,1591.1 L1159.4,1589.5ZM1171.9,1596.7 L1174.2,1598.4 L1176.6,1600.0 L1179.0,1601.6 L1181.5,1603.2 L1181.5,1606.7 L1179.0,1605.2 L1176.6,1603.6 L1174.2,1601.9 L1171.9,1600.3ZM1187.3,1606.4 L1190.2,1608.0 L1193.1,1609.5 L1196.2,1611.0 L1199.3,1612.5 L1199.3,1616.4 L1196.2,1615.0 L1193.2,1613.5 L1190.2,1611.9 L1187.3,1610.3ZM1205.2,1614.9 L1208.6,1616.3 L1212.1,1617.7 L1215.7,1619.1 L1219.3,1620.4 L1219.4,1624.7 L1215.7,1623.4 L1212.2,1622.1 L1208.7,1620.7 L1205.2,1619.3ZM1225.2,1622.1 L1229.2,1623.3 L1233.1,1624.5 L1237.2,1625.6 L1241.3,1626.6 L1241.3,1631.4 L1237.2,1630.4 L1233.2,1629.3 L1229.2,1628.1 L1225.3,1626.9ZM1247.1,1627.8 L1251.4,1628.8 L1255.8,1629.6 L1260.2,1630.5 L1264.7,1631.2 L1264.7,1636.4 L1260.3,1635.6 L1255.8,1634.8 L1251.5,1633.9 L1247.1,1633.0ZM1270.3,1631.9 L1274.9,1632.5 L1279.6,1633.1 L1284.4,1633.6 L1289.1,1634.0 L1289.2,1639.5 L1284.4,1639.1 L1279.7,1638.6 L1275.0,1638.0 L1270.3,1637.4ZM1294.4,1634.3 L1299.3,1634.6 L1304.2,1634.8 L1309.2,1634.9 L1314.1,1635.0 L1314.1,1640.8 L1309.2,1640.7 L1304.2,1640.5 L1299.3,1640.3 L1294.4,1640.0ZM1318.9,1635.0 L1323.8,1634.9 L1328.8,1634.8 L1333.7,1634.6 L1338.6,1634.3 L1338.6,1640.0 L1333.7,1640.3 L1328.8,1640.5 L1323.8,1640.7 L1318.9,1640.8ZM1343.9,1634.0 L1348.6,1633.6 L1353.4,1633.1 L1358.1,1632.5 L1362.7,1631.9 L1362.7,1637.4 L1358.0,1638.0 L1353.3,1638.6 L1348.6,1639.1 L1343.8,1639.5ZM1368.3,1631.2 L1372.8,1630.5 L1377.2,1629.6 L1381.6,1628.8 L1385.9,1627.8 L1385.9,1633.0 L1381.5,1633.9 L1377.2,1634.8 L1372.7,1635.6 L1368.3,1636.4ZM1391.7,1626.6 L1395.8,1625.6 L1399.9,1624.5 L1403.8,1623.3 L1407.8,1622.1 L1407.7,1626.9 L1403.8,1628.1 L1399.8,1629.3 L1395.8,1630.4 L1391.7,1631.4ZM1413.7,1620.4 L1417.3,1619.1 L1420.9,1617.7 L1424.4,1616.3 L1427.8,1614.9 L1427.8,1619.3 L1424.3,1620.7 L1420.8,1622.1 L1417.3,1623.4 L1413.6,1624.7ZM1433.7,1612.5 L1436.8,1611.0 L1439.9,1609.5 L1442.8,1608.0 L1445.7,1606.4 L1445.7,1610.3 L1442.8,1611.9 L1439.8,1613.5 L1436.8,1615.0 L1433.7,1616.4ZM1451.5,1603.2 L1454.0,1601.6 L1456.4,1600.0 L1458.8,1598.4 L1461.1,1596.7 L1461.1,1600.3 L1458.8,1601.9 L1456.4,1603.6 L1454.0,1605.2 L1451.5,1606.7ZM1466.7,1592.6 L1468.5,1591.0 L1470.3,1589.5 L1472.0,1587.9 L1473.7,1586.3 L1473.6,1589.5 L1472.0,1591.1 L1470.2,1592.7 L1468.5,1594.3 L1466.6,1595.8ZM1478.9,1580.9 L1480.0,1579.5 L1481.1,1578.2 L1482.2,1576.8 L1483.2,1575.5 L1483.1,1578.4 L1482.1,1579.8 L1481.1,1581.1 L1480.0,1582.5 L1478.8,1583.8ZM1488.0,1568.2 L1488.4,1567.5 L1488.7,1566.8 L1489.1,1566.1 L1489.5,1565.4 L1489.4,1568.1 L1489.1,1568.8 L1488.7,1569.5 L1488.3,1570.2 L1487.9,1570.9ZM1143.8,1577.0 L1144.1,1577.7 L1144.5,1578.4 L1144.9,1579.1 L1145.3,1579.8 L1145.3,1582.5 L1144.9,1581.8 L1144.6,1581.1 L1144.2,1580.4 L1143.8,1579.7ZM1150.0,1587.1 L1151.0,1588.4 L1152.1,1589.8 L1153.2,1591.1 L1154.3,1592.5 L1154.4,1595.4 L1153.3,1594.1 L1152.2,1592.7 L1151.1,1591.4 L1150.1,1590.0ZM1159.5,1597.9 L1161.2,1599.5 L1162.9,1601.1 L1164.7,1602.6 L1166.5,1604.2 L1166.6,1607.4 L1164.8,1605.9 L1163.0,1604.3 L1161.3,1602.7 L1159.6,1601.1ZM1172.1,1608.3 L1174.4,1610.0 L1176.7,1611.6 L1179.2,1613.2 L1181.7,1614.8 L1181.7,1618.3 L1179.2,1616.8 L1176.8,1615.2 L1174.4,1613.5 L1172.1,1611.9ZM1187.4,1618.0 L1190.3,1619.6 L1193.3,1621.1 L1196.3,1622.6 L1199.4,1624.1 L1199.5,1628.0 L1196.4,1626.6 L1193.4,1625.1 L1190.4,1623.5 L1187.5,1621.9ZM1205.3,1626.5 L1208.8,1627.9 L1212.3,1629.3 L1215.8,1630.7 L1219.5,1632.0 L1219.5,1636.3 L1215.9,1635.0 L1212.3,1633.7 L1208.8,1632.3 L1205.4,1630.9ZM1225.4,1633.7 L1229.3,1634.9 L1233.3,1636.1 L1237.3,1637.2 L1241.4,1638.2 L1241.4,1643.0 L1237.3,1642.0 L1233.3,1640.9 L1229.3,1639.7 L1225.4,1638.5ZM1247.2,1639.4 L1251.5,1640.4 L1255.9,1641.2 L1260.3,1642.1 L1264.8,1642.8 L1264.8,1648.0 L1260.3,1647.2 L1255.9,1646.4 L1251.5,1645.5 L1247.2,1644.6ZM1270.3,1643.5 L1275.0,1644.1 L1279.7,1644.7 L1284.4,1645.2 L1289.2,1645.6 L1289.2,1651.1 L1284.4,1650.7 L1279.7,1650.2 L1275.0,1649.6 L1270.4,1649.0ZM1294.4,1645.9 L1299.3,1646.2 L1304.2,1646.4 L1309.2,1646.5 L1314.1,1646.6 L1314.1,1652.4 L1309.2,1652.3 L1304.2,1652.1 L1299.3,1651.9 L1294.4,1651.6ZM1318.9,1646.6 L1323.8,1646.5 L1328.8,1646.4 L1333.7,1646.2 L1338.6,1645.9 L1338.6,1651.6 L1333.7,1651.9 L1328.8,1652.1 L1323.8,1652.3 L1318.9,1652.4ZM1343.8,1645.6 L1348.6,1645.2 L1353.3,1644.7 L1358.0,1644.1 L1362.7,1643.5 L1362.6,1649.0 L1358.0,1649.6 L1353.3,1650.2 L1348.6,1650.7 L1343.8,1651.1ZM1368.2,1642.8 L1372.7,1642.1 L1377.1,1641.2 L1381.5,1640.4 L1385.8,1639.4 L1385.8,1644.6 L1381.5,1645.5 L1377.1,1646.4 L1372.7,1647.2 L1368.2,1648.0ZM1391.6,1638.2 L1395.7,1637.2 L1399.7,1636.1 L1403.7,1634.9 L1407.6,1633.7 L1407.6,1638.5 L1403.7,1639.7 L1399.7,1640.9 L1395.7,1642.0 L1391.6,1643.0ZM1413.5,1632.0 L1417.2,1630.7 L1420.7,1629.3 L1424.2,1627.9 L1427.7,1626.5 L1427.6,1630.9 L1424.2,1632.3 L1420.7,1633.7 L1417.1,1635.0 L1413.5,1636.3ZM1433.6,1624.1 L1436.7,1622.6 L1439.7,1621.1 L1442.7,1619.6 L1445.6,1618.0 L1445.5,1621.9 L1442.6,1623.5 L1439.6,1625.1 L1436.6,1626.6 L1433.5,1628.0ZM1451.3,1614.8 L1453.8,1613.2 L1456.3,1611.6 L1458.6,1610.0 L1460.9,1608.3 L1460.9,1611.9 L1458.6,1613.5 L1456.2,1615.2 L1453.8,1616.8 L1451.3,1618.3ZM1466.5,1604.2 L1468.3,1602.6 L1470.1,1601.1 L1471.8,1599.5 L1473.5,1597.9 L1473.4,1601.1 L1471.7,1602.7 L1470.0,1604.3 L1468.2,1605.9 L1466.4,1607.4ZM1478.7,1592.5 L1479.8,1591.1 L1480.9,1589.8 L1482.0,1588.4 L1483.0,1587.1 L1482.9,1590.0 L1481.9,1591.4 L1480.8,1592.7 L1479.7,1594.1 L1478.6,1595.4ZM1487.7,1579.8 L1488.1,1579.1 L1488.5,1578.4 L1488.9,1577.7 L1489.2,1577.0 L1489.2,1579.7 L1488.8,1580.4 L1488.4,1581.1 L1488.1,1581.8 L1487.7,1582.5ZM1144.0,1588.6 L1144.4,1589.3 L1144.7,1590.0 L1145.1,1590.7 L1145.5,1591.4 L1145.6,1594.1 L1145.2,1593.4 L1144.8,1592.7 L1144.4,1592.0 L1144.1,1591.3ZM1150.3,1598.7 L1151.3,1600.0 L1152.3,1601.4 L1153.4,1602.7 L1154.5,1604.1 L1154.6,1607.0 L1153.5,1605.7 L1152.4,1604.3 L1151.3,1603.0 L1150.3,1601.6ZM1159.7,1609.5 L1161.4,1611.1 L1163.1,1612.7 L1164.9,1614.2 L1166.7,1615.8 L1166.8,1619.0 L1165.0,1617.5 L1163.2,1615.9 L1161.5,1614.3 L1159.8,1612.7ZM1172.3,1619.9 L1174.6,1621.6 L1176.9,1623.2 L1179.4,1624.8 L1181.9,1626.4 L1181.9,1629.9 L1179.4,1628.4 L1177.0,1626.8 L1174.6,1625.2 L1172.3,1623.5ZM1187.6,1629.6 L1190.5,1631.2 L1193.5,1632.7 L1196.5,1634.2 L1199.6,1635.7 L1199.6,1639.6 L1196.6,1638.2 L1193.5,1636.7 L1190.6,1635.1 L1187.7,1633.5ZM1205.5,1638.1 L1208.9,1639.5 L1212.4,1640.9 L1216.0,1642.3 L1219.6,1643.6 L1219.6,1647.9 L1216.0,1646.6 L1212.5,1645.3 L1209.0,1643.9 L1205.5,1642.5ZM1225.5,1645.3 L1229.4,1646.5 L1233.4,1647.7 L1237.4,1648.8 L1241.5,1649.8 L1241.5,1654.6 L1237.5,1653.6 L1233.4,1652.5 L1229.5,1651.3 L1225.5,1650.1ZM1247.3,1651.0 L1251.6,1652.0 L1256.0,1652.8 L1260.4,1653.7 L1264.8,1654.4 L1264.9,1659.6 L1260.4,1658.8 L1256.0,1658.0 L1251.6,1657.1 L1247.3,1656.2ZM1270.4,1655.1 L1275.1,1655.7 L1279.8,1656.3 L1284.5,1656.8 L1289.2,1657.2 L1289.2,1662.7 L1284.5,1662.3 L1279.8,1661.8 L1275.1,1661.2 L1270.4,1660.6ZM1294.4,1657.5 L1299.3,1657.8 L1304.3,1658.0 L1309.2,1658.1 L1314.1,1658.2 L1314.1,1664.0 L1309.2,1663.9 L1304.3,1663.7 L1299.3,1663.5 L1294.5,1663.2ZM1318.9,1658.2 L1323.8,1658.1 L1328.7,1658.0 L1333.7,1657.8 L1338.6,1657.5 L1338.5,1663.2 L1333.7,1663.5 L1328.7,1663.7 L1323.8,1663.9 L1318.9,1664.0ZM1343.8,1657.2 L1348.5,1656.8 L1353.2,1656.3 L1357.9,1655.7 L1362.6,1655.1 L1362.6,1660.6 L1357.9,1661.2 L1353.2,1661.8 L1348.5,1662.3 L1343.8,1662.7ZM1368.2,1654.4 L1372.6,1653.7 L1377.0,1652.8 L1381.4,1652.0 L1385.7,1651.0 L1385.7,1656.2 L1381.4,1657.1 L1377.0,1658.0 L1372.6,1658.8 L1368.1,1659.6ZM1391.5,1649.8 L1395.6,1648.8 L1399.6,1647.7 L1403.6,1646.5 L1407.5,1645.3 L1407.5,1650.1 L1403.5,1651.3 L1399.6,1652.5 L1395.5,1653.6 L1391.5,1654.6ZM1413.4,1643.6 L1417.0,1642.3 L1420.6,1640.9 L1424.1,1639.5 L1427.5,1638.1 L1427.5,1642.5 L1424.0,1643.9 L1420.5,1645.3 L1417.0,1646.6 L1413.4,1647.9ZM1433.4,1635.7 L1436.5,1634.2 L1439.5,1632.7 L1442.5,1631.2 L1445.4,1629.6 L1445.3,1633.5 L1442.4,1635.1 L1439.5,1636.7 L1436.4,1638.2 L1433.4,1639.6ZM1451.1,1626.4 L1453.6,1624.8 L1456.1,1623.2 L1458.4,1621.6 L1460.7,1619.9 L1460.7,1623.5 L1458.4,1625.2 L1456.0,1626.8 L1453.6,1628.4 L1451.1,1629.9ZM1466.3,1615.8 L1468.1,1614.2 L1469.9,1612.7 L1471.6,1611.1 L1473.3,1609.5 L1473.2,1612.7 L1471.5,1614.3 L1469.8,1615.9 L1468.0,1617.5 L1466.2,1619.0ZM1478.5,1604.1 L1479.6,1602.7 L1480.7,1601.4 L1481.7,1600.0 L1482.7,1598.7 L1482.7,1601.6 L1481.7,1603.0 L1480.6,1604.3 L1479.5,1605.7 L1478.4,1607.0ZM1487.5,1591.4 L1487.9,1590.7 L1488.3,1590.0 L1488.6,1589.3 L1489.0,1588.6 L1488.9,1591.3 L1488.6,1592.0 L1488.2,1592.7 L1487.8,1593.4 L1487.4,1594.1ZM1144.3,1600.2 L1144.6,1600.9 L1145.0,1601.6 L1145.4,1602.3 L1145.7,1603.0 L1145.8,1605.7 L1145.4,1605.0 L1145.0,1604.3 L1144.7,1603.6 L1144.3,1602.9ZM1150.5,1610.3 L1151.5,1611.6 L1152.6,1613.0 L1153.6,1614.3 L1154.8,1615.7 L1154.8,1618.6 L1153.7,1617.3 L1152.6,1615.9 L1151.6,1614.6 L1150.6,1613.2ZM1160.0,1621.1 L1161.6,1622.7 L1163.3,1624.3 L1165.1,1625.8 L1166.9,1627.4 L1167.0,1630.6 L1165.2,1629.1 L1163.4,1627.5 L1161.7,1625.9 L1160.0,1624.3ZM1172.5,1631.5 L1174.8,1633.2 L1177.1,1634.8 L1179.6,1636.4 L1182.0,1638.0 L1182.1,1641.5 L1179.6,1640.0 L1177.2,1638.4 L1174.8,1636.8 L1172.6,1635.1ZM1187.8,1641.2 L1190.7,1642.8 L1193.6,1644.3 L1196.7,1645.8 L1199.7,1647.3 L1199.8,1651.2 L1196.7,1649.8 L1193.7,1648.3 L1190.8,1646.7 L1187.9,1645.1ZM1205.6,1649.7 L1209.1,1651.1 L1212.6,1652.5 L1216.1,1653.9 L1219.7,1655.2 L1219.8,1659.5 L1216.2,1658.2 L1212.6,1656.9 L1209.1,1655.5 L1205.7,1654.1ZM1225.6,1656.9 L1229.5,1658.1 L1233.5,1659.3 L1237.5,1660.4 L1241.6,1661.4 L1241.6,1666.2 L1237.6,1665.2 L1233.5,1664.1 L1229.6,1662.9 L1225.7,1661.7ZM1247.4,1662.6 L1251.7,1663.6 L1256.1,1664.4 L1260.5,1665.3 L1264.9,1666.0 L1264.9,1671.2 L1260.5,1670.4 L1256.1,1669.6 L1251.7,1668.7 L1247.4,1667.8ZM1270.5,1666.7 L1275.1,1667.3 L1279.8,1667.9 L1284.5,1668.4 L1289.2,1668.8 L1289.3,1674.3 L1284.5,1673.9 L1279.8,1673.4 L1275.2,1672.8 L1270.5,1672.2ZM1294.5,1669.1 L1299.4,1669.4 L1304.3,1669.6 L1309.2,1669.7 L1314.1,1669.8 L1314.1,1675.6 L1309.2,1675.5 L1304.3,1675.3 L1299.4,1675.1 L1294.5,1674.8ZM1318.9,1669.8 L1323.8,1669.7 L1328.7,1669.6 L1333.6,1669.4 L1338.5,1669.1 L1338.5,1674.8 L1333.6,1675.1 L1328.7,1675.3 L1323.8,1675.5 L1318.9,1675.6ZM1343.8,1668.8 L1348.5,1668.4 L1353.2,1667.9 L1357.9,1667.3 L1362.5,1666.7 L1362.5,1672.2 L1357.8,1672.8 L1353.2,1673.4 L1348.5,1673.9 L1343.7,1674.3ZM1368.1,1666.0 L1372.5,1665.3 L1376.9,1664.4 L1381.3,1663.6 L1385.6,1662.6 L1385.6,1667.8 L1381.3,1668.7 L1376.9,1669.6 L1372.5,1670.4 L1368.1,1671.2ZM1391.4,1661.4 L1395.5,1660.4 L1399.5,1659.3 L1403.5,1658.1 L1407.4,1656.9 L1407.3,1661.7 L1403.4,1662.9 L1399.5,1664.1 L1395.4,1665.2 L1391.4,1666.2ZM1413.3,1655.2 L1416.9,1653.9 L1420.4,1652.5 L1423.9,1651.1 L1427.4,1649.7 L1427.3,1654.1 L1423.9,1655.5 L1420.4,1656.9 L1416.8,1658.2 L1413.2,1659.5ZM1433.3,1647.3 L1436.3,1645.8 L1439.4,1644.3 L1442.3,1642.8 L1445.2,1641.2 L1445.1,1645.1 L1442.2,1646.7 L1439.3,1648.3 L1436.3,1649.8 L1433.2,1651.2ZM1451.0,1638.0 L1453.4,1636.4 L1455.9,1634.8 L1458.2,1633.2 L1460.5,1631.5 L1460.4,1635.1 L1458.2,1636.8 L1455.8,1638.4 L1453.4,1640.0 L1450.9,1641.5ZM1466.1,1627.4 L1467.9,1625.8 L1469.7,1624.3 L1471.4,1622.7 L1473.0,1621.1 L1473.0,1624.3 L1471.3,1625.9 L1469.6,1627.5 L1467.8,1629.1 L1466.0,1630.6ZM1478.2,1615.7 L1479.4,1614.3 L1480.4,1613.0 L1481.5,1611.6 L1482.5,1610.3 L1482.4,1613.2 L1481.4,1614.6 L1480.4,1615.9 L1479.3,1617.3 L1478.2,1618.6ZM1487.3,1603.0 L1487.6,1602.3 L1488.0,1601.6 L1488.4,1600.9 L1488.7,1600.2 L1488.7,1602.9 L1488.3,1603.6 L1488.0,1604.3 L1487.6,1605.0 L1487.2,1605.7ZM1144.5,1611.8 L1144.9,1612.5 L1145.2,1613.2 L1145.6,1613.9 L1146.0,1614.6 L1146.0,1617.3 L1145.6,1616.6 L1145.3,1615.9 L1144.9,1615.2 L1144.6,1614.5ZM1150.7,1621.9 L1151.7,1623.3 L1152.8,1624.6 L1153.9,1625.9 L1155.0,1627.3 L1155.0,1630.2 L1153.9,1628.9 L1152.8,1627.5 L1151.8,1626.2 L1150.8,1624.8ZM1160.2,1632.7 L1161.9,1634.3 L1163.6,1635.9 L1165.3,1637.4 L1167.2,1639.0 L1167.2,1642.2 L1165.4,1640.7 L1163.6,1639.1 L1161.9,1637.5 L1160.3,1635.9ZM1172.7,1643.1 L1175.0,1644.8 L1177.3,1646.4 L1179.7,1648.0 L1182.2,1649.6 L1182.3,1653.1 L1179.8,1651.6 L1177.4,1650.0 L1175.0,1648.4 L1172.8,1646.7ZM1188.0,1652.8 L1190.9,1654.4 L1193.8,1655.9 L1196.8,1657.4 L1199.9,1658.9 L1200.0,1662.8 L1196.9,1661.4 L1193.9,1659.9 L1190.9,1658.3 L1188.1,1656.7ZM1205.8,1661.3 L1209.2,1662.7 L1212.7,1664.1 L1216.2,1665.5 L1219.9,1666.8 L1219.9,1671.1 L1216.3,1669.8 L1212.8,1668.5 L1209.3,1667.1 L1205.9,1665.7ZM1225.8,1668.5 L1229.7,1669.7 L1233.6,1670.9 L1237.6,1672.0 L1241.7,1673.0 L1241.7,1677.8 L1237.7,1676.8 L1233.7,1675.7 L1229.7,1674.5 L1225.8,1673.3ZM1247.5,1674.2 L1251.8,1675.2 L1256.1,1676.0 L1260.5,1676.9 L1265.0,1677.6 L1265.0,1682.8 L1260.6,1682.0 L1256.2,1681.2 L1251.8,1680.3 L1247.5,1679.4ZM1270.5,1678.3 L1275.2,1678.9 L1279.9,1679.5 L1284.6,1680.0 L1289.3,1680.4 L1289.3,1685.9 L1284.6,1685.5 L1279.9,1685.0 L1275.2,1684.4 L1270.6,1683.8ZM1294.5,1680.7 L1299.4,1681.0 L1304.3,1681.2 L1309.2,1681.3 L1314.1,1681.4 L1314.1,1687.2 L1309.2,1687.1 L1304.3,1686.9 L1299.4,1686.7 L1294.5,1686.4ZM1318.9,1681.4 L1323.8,1681.3 L1328.7,1681.2 L1333.6,1681.0 L1338.5,1680.7 L1338.5,1686.4 L1333.6,1686.7 L1328.7,1686.9 L1323.8,1687.1 L1318.9,1687.2ZM1343.7,1680.4 L1348.4,1680.0 L1353.1,1679.5 L1357.8,1678.9 L1362.5,1678.3 L1362.4,1683.8 L1357.8,1684.4 L1353.1,1685.0 L1348.4,1685.5 L1343.7,1685.9ZM1368.0,1677.6 L1372.5,1676.9 L1376.9,1676.0 L1381.2,1675.2 L1385.5,1674.2 L1385.5,1679.4 L1381.2,1680.3 L1376.8,1681.2 L1372.4,1682.0 L1368.0,1682.8ZM1391.3,1673.0 L1395.4,1672.0 L1399.4,1670.9 L1403.3,1669.7 L1407.2,1668.5 L1407.2,1673.3 L1403.3,1674.5 L1399.3,1675.7 L1395.3,1676.8 L1391.3,1677.8ZM1413.1,1666.8 L1416.8,1665.5 L1420.3,1664.1 L1423.8,1662.7 L1427.2,1661.3 L1427.1,1665.7 L1423.7,1667.1 L1420.2,1668.5 L1416.7,1669.8 L1413.1,1671.1ZM1433.1,1658.9 L1436.2,1657.4 L1439.2,1655.9 L1442.1,1654.4 L1445.0,1652.8 L1444.9,1656.7 L1442.1,1658.3 L1439.1,1659.9 L1436.1,1661.4 L1433.0,1662.8ZM1450.8,1649.6 L1453.3,1648.0 L1455.7,1646.4 L1458.0,1644.8 L1460.3,1643.1 L1460.2,1646.7 L1458.0,1648.4 L1455.6,1650.0 L1453.2,1651.6 L1450.7,1653.1ZM1465.8,1639.0 L1467.7,1637.4 L1469.4,1635.9 L1471.1,1634.3 L1472.8,1632.7 L1472.7,1635.9 L1471.1,1637.5 L1469.4,1639.1 L1467.6,1640.7 L1465.8,1642.2ZM1478.0,1627.3 L1479.1,1625.9 L1480.2,1624.6 L1481.3,1623.3 L1482.3,1621.9 L1482.2,1624.8 L1481.2,1626.2 L1480.2,1627.5 L1479.1,1628.9 L1478.0,1630.2ZM1487.0,1614.6 L1487.4,1613.9 L1487.8,1613.2 L1488.1,1612.5 L1488.5,1611.8 L1488.4,1614.5 L1488.1,1615.2 L1487.7,1615.9 L1487.4,1616.6 L1487.0,1617.3ZM1144.7,1623.4 L1145.1,1624.1 L1145.5,1624.8 L1145.8,1625.5 L1146.2,1626.2 L1146.3,1628.9 L1145.9,1628.2 L1145.5,1627.5 L1145.2,1626.8 L1144.8,1626.1ZM1151.0,1633.5 L1152.0,1634.9 L1153.0,1636.2 L1154.1,1637.5 L1155.2,1638.9 L1155.3,1641.8 L1154.2,1640.5 L1153.1,1639.1 L1152.0,1637.8 L1151.0,1636.5ZM1160.4,1644.3 L1162.1,1645.9 L1163.8,1647.5 L1165.5,1649.0 L1167.4,1650.6 L1167.4,1653.8 L1165.6,1652.3 L1163.8,1650.7 L1162.1,1649.1 L1160.5,1647.5ZM1172.9,1654.7 L1175.2,1656.4 L1177.5,1658.0 L1179.9,1659.6 L1182.4,1661.2 L1182.5,1664.7 L1180.0,1663.2 L1177.6,1661.6 L1175.2,1660.0 L1173.0,1658.3ZM1188.2,1664.4 L1191.0,1666.0 L1194.0,1667.5 L1197.0,1669.0 L1200.1,1670.5 L1200.1,1674.4 L1197.0,1673.0 L1194.0,1671.5 L1191.1,1669.9 L1188.2,1668.3ZM1206.0,1672.9 L1209.4,1674.3 L1212.8,1675.7 L1216.4,1677.1 L1220.0,1678.4 L1220.0,1682.7 L1216.4,1681.4 L1212.9,1680.1 L1209.4,1678.7 L1206.0,1677.3ZM1225.9,1680.1 L1229.8,1681.3 L1233.7,1682.5 L1237.7,1683.6 L1241.8,1684.6 L1241.8,1689.4 L1237.8,1688.4 L1233.8,1687.3 L1229.8,1686.1 L1225.9,1684.9ZM1247.6,1685.8 L1251.9,1686.8 L1256.2,1687.6 L1260.6,1688.5 L1265.0,1689.2 L1265.1,1694.4 L1260.7,1693.6 L1256.3,1692.8 L1251.9,1691.9 L1247.6,1691.0ZM1270.6,1689.9 L1275.2,1690.5 L1279.9,1691.1 L1284.6,1691.6 L1289.3,1692.0 L1289.3,1697.5 L1284.6,1697.1 L1279.9,1696.6 L1275.3,1696.0 L1270.6,1695.4ZM1294.5,1692.3 L1299.4,1692.6 L1304.3,1692.8 L1309.2,1692.9 L1314.1,1693.0 L1314.1,1698.8 L1309.2,1698.7 L1304.3,1698.5 L1299.4,1698.3 L1294.6,1698.0ZM1318.9,1693.0 L1323.8,1692.9 L1328.7,1692.8 L1333.6,1692.6 L1338.5,1692.3 L1338.4,1698.0 L1333.6,1698.3 L1328.7,1698.5 L1323.8,1698.7 L1318.9,1698.8ZM1343.7,1692.0 L1348.4,1691.6 L1353.1,1691.1 L1357.8,1690.5 L1362.4,1689.9 L1362.4,1695.4 L1357.7,1696.0 L1353.1,1696.6 L1348.4,1697.1 L1343.7,1697.5ZM1368.0,1689.2 L1372.4,1688.5 L1376.8,1687.6 L1381.1,1686.8 L1385.4,1685.8 L1385.4,1691.0 L1381.1,1691.9 L1376.7,1692.8 L1372.3,1693.6 L1367.9,1694.4ZM1391.2,1684.6 L1395.3,1683.6 L1399.3,1682.5 L1403.2,1681.3 L1407.1,1680.1 L1407.1,1684.9 L1403.2,1686.1 L1399.2,1687.3 L1395.2,1688.4 L1391.2,1689.4ZM1413.0,1678.4 L1416.6,1677.1 L1420.2,1675.7 L1423.6,1674.3 L1427.0,1672.9 L1427.0,1677.3 L1423.6,1678.7 L1420.1,1680.1 L1416.6,1681.4 L1413.0,1682.7ZM1432.9,1670.5 L1436.0,1669.0 L1439.0,1667.5 L1442.0,1666.0 L1444.8,1664.4 L1444.8,1668.3 L1441.9,1669.9 L1439.0,1671.5 L1436.0,1673.0 L1432.9,1674.4ZM1450.6,1661.2 L1453.1,1659.6 L1455.5,1658.0 L1457.8,1656.4 L1460.1,1654.7 L1460.0,1658.3 L1457.8,1660.0 L1455.4,1661.6 L1453.0,1663.2 L1450.5,1664.7ZM1465.6,1650.6 L1467.5,1649.0 L1469.2,1647.5 L1470.9,1645.9 L1472.6,1644.3 L1472.5,1647.5 L1470.9,1649.1 L1469.2,1650.7 L1467.4,1652.3 L1465.6,1653.8ZM1477.8,1638.9 L1478.9,1637.5 L1480.0,1636.2 L1481.0,1634.9 L1482.0,1633.5 L1482.0,1636.5 L1481.0,1637.8 L1479.9,1639.1 L1478.8,1640.5 L1477.7,1641.8ZM1486.8,1626.2 L1487.2,1625.5 L1487.5,1624.8 L1487.9,1624.1 L1488.3,1623.4 L1488.2,1626.1 L1487.8,1626.8 L1487.5,1627.5 L1487.1,1628.2 L1486.7,1628.9ZM1145.0,1635.0 L1145.3,1635.7 L1145.7,1636.4 L1146.1,1637.1 L1146.4,1637.8 L1146.5,1640.5 L1146.1,1639.8 L1145.8,1639.1 L1145.4,1638.5 L1145.0,1637.8ZM1151.2,1645.1 L1152.2,1646.5 L1153.2,1647.8 L1154.3,1649.1 L1155.4,1650.5 L1155.5,1653.4 L1154.4,1652.1 L1153.3,1650.8 L1152.3,1649.4 L1151.3,1648.1ZM1160.6,1655.9 L1162.3,1657.5 L1164.0,1659.1 L1165.7,1660.6 L1167.6,1662.2 L1167.6,1665.4 L1165.8,1663.9 L1164.0,1662.3 L1162.3,1660.7 L1160.7,1659.1ZM1173.1,1666.3 L1175.4,1668.0 L1177.7,1669.6 L1180.1,1671.2 L1182.6,1672.8 L1182.6,1676.3 L1180.2,1674.8 L1177.8,1673.2 L1175.4,1671.6 L1173.2,1669.9ZM1188.4,1676.0 L1191.2,1677.6 L1194.2,1679.1 L1197.2,1680.6 L1200.2,1682.1 L1200.3,1686.0 L1197.2,1684.6 L1194.2,1683.1 L1191.3,1681.5 L1188.4,1679.9ZM1206.1,1684.5 L1209.5,1685.9 L1213.0,1687.3 L1216.5,1688.7 L1220.1,1690.0 L1220.2,1694.3 L1216.6,1693.0 L1213.0,1691.7 L1209.6,1690.3 L1206.2,1688.9ZM1226.0,1691.7 L1229.9,1692.9 L1233.8,1694.1 L1237.8,1695.2 L1241.9,1696.2 L1241.9,1701.0 L1237.9,1700.0 L1233.9,1698.9 L1230.0,1697.7 L1226.1,1696.5ZM1247.7,1697.4 L1252.0,1698.4 L1256.3,1699.2 L1260.7,1700.1 L1265.1,1700.8 L1265.1,1706.0 L1260.7,1705.2 L1256.4,1704.4 L1252.0,1703.5 L1247.7,1702.6ZM1270.7,1701.5 L1275.3,1702.1 L1280.0,1702.7 L1284.6,1703.2 L1289.3,1703.6 L1289.4,1709.1 L1284.7,1708.7 L1280.0,1708.2 L1275.3,1707.6 L1270.7,1707.0ZM1294.6,1703.9 L1299.4,1704.2 L1304.3,1704.4 L1309.2,1704.5 L1314.1,1704.6 L1314.1,1710.4 L1309.2,1710.3 L1304.3,1710.1 L1299.5,1709.9 L1294.6,1709.6ZM1318.9,1704.6 L1323.8,1704.5 L1328.7,1704.4 L1333.6,1704.2 L1338.4,1703.9 L1338.4,1709.6 L1333.5,1709.9 L1328.7,1710.1 L1323.8,1710.3 L1318.9,1710.4ZM1343.7,1703.6 L1348.4,1703.2 L1353.0,1702.7 L1357.7,1702.1 L1362.3,1701.5 L1362.3,1707.0 L1357.7,1707.6 L1353.0,1708.2 L1348.3,1708.7 L1343.6,1709.1ZM1367.9,1700.8 L1372.3,1700.1 L1376.7,1699.2 L1381.0,1698.4 L1385.3,1697.4 L1385.3,1702.6 L1381.0,1703.5 L1376.6,1704.4 L1372.3,1705.2 L1367.9,1706.0ZM1391.1,1696.2 L1395.2,1695.2 L1399.2,1694.1 L1403.1,1692.9 L1407.0,1691.7 L1406.9,1696.5 L1403.0,1697.7 L1399.1,1698.9 L1395.1,1700.0 L1391.1,1701.0ZM1412.9,1690.0 L1416.5,1688.7 L1420.0,1687.3 L1423.5,1685.9 L1426.9,1684.5 L1426.8,1688.9 L1423.4,1690.3 L1420.0,1691.7 L1416.4,1693.0 L1412.8,1694.3ZM1432.8,1682.1 L1435.8,1680.6 L1438.8,1679.1 L1441.8,1677.6 L1444.6,1676.0 L1444.6,1679.9 L1441.7,1681.5 L1438.8,1683.1 L1435.8,1684.6 L1432.7,1686.0ZM1450.4,1672.8 L1452.9,1671.2 L1455.3,1669.6 L1457.6,1668.0 L1459.9,1666.3 L1459.8,1669.9 L1457.6,1671.6 L1455.2,1673.2 L1452.8,1674.8 L1450.4,1676.3ZM1465.4,1662.2 L1467.3,1660.6 L1469.0,1659.1 L1470.7,1657.5 L1472.4,1655.9 L1472.3,1659.1 L1470.7,1660.7 L1469.0,1662.3 L1467.2,1663.9 L1465.4,1665.4ZM1477.6,1650.5 L1478.7,1649.1 L1479.8,1647.8 L1480.8,1646.5 L1481.8,1645.1 L1481.7,1648.1 L1480.7,1649.4 L1479.7,1650.8 L1478.6,1652.1 L1477.5,1653.4ZM1486.6,1637.8 L1486.9,1637.1 L1487.3,1636.4 L1487.7,1635.7 L1488.0,1635.0 L1488.0,1637.8 L1487.6,1638.5 L1487.2,1639.1 L1486.9,1639.8 L1486.5,1640.5ZM1145.2,1646.6 L1145.6,1647.3 L1145.9,1648.0 L1146.3,1648.7 L1146.7,1649.4 L1146.7,1652.1 L1146.4,1651.4 L1146.0,1650.7 L1145.6,1650.1 L1145.3,1649.4ZM1151.4,1656.7 L1152.4,1658.1 L1153.5,1659.4 L1154.5,1660.7 L1155.7,1662.1 L1155.7,1665.0 L1154.6,1663.7 L1153.5,1662.4 L1152.5,1661.0 L1151.5,1659.7ZM1160.9,1667.5 L1162.5,1669.1 L1164.2,1670.7 L1166.0,1672.2 L1167.8,1673.8 L1167.8,1677.0 L1166.0,1675.5 L1164.3,1673.9 L1162.6,1672.3 L1160.9,1670.7ZM1173.3,1678.0 L1175.6,1679.6 L1177.9,1681.2 L1180.3,1682.8 L1182.8,1684.4 L1182.8,1687.9 L1180.4,1686.4 L1178.0,1684.8 L1175.6,1683.2 L1173.4,1681.5ZM1188.5,1687.6 L1191.4,1689.2 L1194.3,1690.7 L1197.3,1692.2 L1200.4,1693.7 L1200.4,1697.6 L1197.4,1696.2 L1194.4,1694.7 L1191.5,1693.1 L1188.6,1691.5ZM1206.3,1696.1 L1209.7,1697.5 L1213.1,1698.9 L1216.7,1700.3 L1220.2,1701.5 L1220.3,1705.9 L1216.7,1704.6 L1213.2,1703.3 L1209.7,1701.9 L1206.3,1700.5ZM1226.1,1703.3 L1230.0,1704.5 L1234.0,1705.7 L1238.0,1706.8 L1242.0,1707.8 L1242.0,1712.6 L1238.0,1711.6 L1234.0,1710.5 L1230.1,1709.3 L1226.2,1708.1ZM1247.8,1709.0 L1252.1,1710.0 L1256.4,1710.8 L1260.8,1711.7 L1265.2,1712.4 L1265.2,1717.6 L1260.8,1716.8 L1256.4,1716.0 L1252.1,1715.1 L1247.8,1714.2ZM1270.7,1713.1 L1275.4,1713.7 L1280.0,1714.3 L1284.7,1714.8 L1289.4,1715.2 L1289.4,1720.7 L1284.7,1720.3 L1280.0,1719.8 L1275.4,1719.2 L1270.8,1718.6ZM1294.6,1715.5 L1299.5,1715.8 L1304.3,1716.0 L1309.2,1716.1 L1314.1,1716.2 L1314.1,1722.0 L1309.2,1721.9 L1304.3,1721.7 L1299.5,1721.5 L1294.6,1721.2ZM1318.9,1716.2 L1323.8,1716.1 L1328.7,1716.0 L1333.5,1715.8 L1338.4,1715.5 L1338.4,1721.2 L1333.5,1721.5 L1328.7,1721.7 L1323.8,1721.9 L1318.9,1722.0ZM1343.6,1715.2 L1348.3,1714.8 L1353.0,1714.3 L1357.6,1713.7 L1362.3,1713.1 L1362.2,1718.6 L1357.6,1719.2 L1353.0,1719.8 L1348.3,1720.3 L1343.6,1720.7ZM1367.8,1712.4 L1372.2,1711.7 L1376.6,1710.8 L1380.9,1710.0 L1385.2,1709.0 L1385.2,1714.2 L1380.9,1715.1 L1376.6,1716.0 L1372.2,1716.8 L1367.8,1717.6ZM1391.0,1707.8 L1395.0,1706.8 L1399.0,1705.7 L1403.0,1704.5 L1406.9,1703.3 L1406.8,1708.1 L1402.9,1709.3 L1399.0,1710.5 L1395.0,1711.6 L1391.0,1712.6ZM1412.8,1701.5 L1416.3,1700.3 L1419.9,1698.9 L1423.3,1697.5 L1426.7,1696.1 L1426.7,1700.5 L1423.3,1701.9 L1419.8,1703.3 L1416.3,1704.6 L1412.7,1705.9ZM1432.6,1693.7 L1435.7,1692.2 L1438.7,1690.7 L1441.6,1689.2 L1444.5,1687.6 L1444.4,1691.5 L1441.5,1693.1 L1438.6,1694.7 L1435.6,1696.2 L1432.6,1697.6ZM1450.2,1684.4 L1452.7,1682.8 L1455.1,1681.2 L1457.4,1679.6 L1459.7,1678.0 L1459.6,1681.5 L1457.4,1683.2 L1455.0,1684.8 L1452.6,1686.4 L1450.2,1687.9ZM1465.2,1673.8 L1467.0,1672.2 L1468.8,1670.7 L1470.5,1669.1 L1472.1,1667.5 L1472.1,1670.7 L1470.4,1672.3 L1468.7,1673.9 L1467.0,1675.5 L1465.2,1677.0ZM1477.3,1662.1 L1478.5,1660.7 L1479.5,1659.4 L1480.6,1658.1 L1481.6,1656.7 L1481.5,1659.7 L1480.5,1661.0 L1479.5,1662.4 L1478.4,1663.7 L1477.3,1665.0ZM1486.3,1649.4 L1486.7,1648.7 L1487.1,1648.0 L1487.4,1647.3 L1487.8,1646.6 L1487.7,1649.4 L1487.4,1650.1 L1487.0,1650.7 L1486.6,1651.4 L1486.3,1652.1ZM1145.5,1658.2 L1145.8,1658.9 L1146.2,1659.6 L1146.5,1660.3 L1146.9,1661.0 L1147.0,1663.7 L1146.6,1663.0 L1146.2,1662.3 L1145.9,1661.7 L1145.5,1661.0ZM1151.7,1668.3 L1152.7,1669.7 L1153.7,1671.0 L1154.8,1672.3 L1155.9,1673.6 L1155.9,1676.6 L1154.8,1675.3 L1153.8,1674.0 L1152.7,1672.6 L1151.7,1671.3ZM1161.1,1679.1 L1162.7,1680.7 L1164.4,1682.3 L1166.2,1683.8 L1168.0,1685.4 L1168.0,1688.6 L1166.2,1687.1 L1164.5,1685.5 L1162.8,1683.9 L1161.1,1682.3ZM1173.5,1689.6 L1175.8,1691.2 L1178.1,1692.8 L1180.5,1694.4 L1183.0,1696.0 L1183.0,1699.5 L1180.6,1698.0 L1178.2,1696.4 L1175.8,1694.8 L1173.6,1693.1ZM1188.7,1699.2 L1191.6,1700.8 L1194.5,1702.3 L1197.5,1703.8 L1200.5,1705.3 L1200.6,1709.2 L1197.5,1707.8 L1194.6,1706.3 L1191.6,1704.7 L1188.8,1703.1ZM1206.4,1707.7 L1209.8,1709.1 L1213.3,1710.5 L1216.8,1711.9 L1220.4,1713.1 L1220.4,1717.5 L1216.9,1716.2 L1213.3,1714.9 L1209.9,1713.5 L1206.5,1712.1ZM1226.3,1714.9 L1230.1,1716.1 L1234.1,1717.3 L1238.1,1718.4 L1242.1,1719.4 L1242.1,1724.2 L1238.1,1723.2 L1234.1,1722.1 L1230.2,1720.9 L1226.3,1719.7ZM1247.9,1720.6 L1252.2,1721.6 L1256.5,1722.4 L1260.8,1723.3 L1265.3,1724.0 L1265.3,1729.2 L1260.9,1728.4 L1256.5,1727.6 L1252.2,1726.7 L1247.9,1725.8ZM1270.8,1724.7 L1275.4,1725.3 L1280.1,1725.9 L1284.7,1726.4 L1289.4,1726.8 L1289.4,1732.3 L1284.7,1731.9 L1280.1,1731.4 L1275.5,1730.8 L1270.8,1730.2ZM1294.6,1727.1 L1299.5,1727.4 L1304.4,1727.6 L1309.2,1727.7 L1314.1,1727.8 L1314.1,1733.6 L1309.2,1733.5 L1304.4,1733.3 L1299.5,1733.1 L1294.7,1732.8ZM1318.9,1727.8 L1323.8,1727.7 L1328.6,1727.6 L1333.5,1727.4 L1338.4,1727.1 L1338.3,1732.8 L1333.5,1733.1 L1328.6,1733.3 L1323.8,1733.5 L1318.9,1733.6ZM1343.6,1726.8 L1348.3,1726.4 L1352.9,1725.9 L1357.6,1725.3 L1362.2,1724.7 L1362.2,1730.2 L1357.5,1730.8 L1352.9,1731.4 L1348.3,1731.9 L1343.6,1732.3ZM1367.7,1724.0 L1372.2,1723.3 L1376.5,1722.4 L1380.8,1721.6 L1385.1,1720.6 L1385.1,1725.8 L1380.8,1726.7 L1376.5,1727.6 L1372.1,1728.4 L1367.7,1729.2ZM1390.9,1719.4 L1394.9,1718.4 L1398.9,1717.3 L1402.9,1716.1 L1406.7,1714.9 L1406.7,1719.7 L1402.8,1720.9 L1398.9,1722.1 L1394.9,1723.2 L1390.9,1724.2ZM1412.6,1713.1 L1416.2,1711.9 L1419.7,1710.5 L1423.2,1709.1 L1426.6,1707.7 L1426.5,1712.1 L1423.1,1713.5 L1419.7,1714.9 L1416.1,1716.2 L1412.6,1717.5ZM1432.5,1705.3 L1435.5,1703.8 L1438.5,1702.3 L1441.4,1700.8 L1444.3,1699.2 L1444.2,1703.1 L1441.4,1704.7 L1438.4,1706.3 L1435.5,1707.8 L1432.4,1709.2ZM1450.0,1696.0 L1452.5,1694.4 L1454.9,1692.8 L1457.2,1691.2 L1459.5,1689.6 L1459.4,1693.1 L1457.2,1694.8 L1454.8,1696.4 L1452.4,1698.0 L1450.0,1699.5ZM1465.0,1685.4 L1466.8,1683.8 L1468.6,1682.3 L1470.3,1680.7 L1471.9,1679.1 L1471.9,1682.3 L1470.2,1683.9 L1468.5,1685.5 L1466.8,1687.1 L1465.0,1688.6ZM1477.1,1673.6 L1478.2,1672.3 L1479.3,1671.0 L1480.3,1669.7 L1481.3,1668.3 L1481.3,1671.3 L1480.3,1672.6 L1479.2,1674.0 L1478.2,1675.3 L1477.1,1676.6ZM1486.1,1661.0 L1486.5,1660.3 L1486.8,1659.6 L1487.2,1658.9 L1487.5,1658.2 L1487.5,1661.0 L1487.1,1661.7 L1486.8,1662.3 L1486.4,1663.0 L1486.0,1663.7ZM1145.7,1669.8 L1146.1,1670.5 L1146.4,1671.2 L1146.8,1671.9 L1147.2,1672.6 L1147.2,1675.3 L1146.8,1674.6 L1146.5,1674.0 L1146.1,1673.3 L1145.8,1672.6ZM1151.9,1679.9 L1152.9,1681.3 L1153.9,1682.6 L1155.0,1683.9 L1156.1,1685.2 L1156.2,1688.2 L1155.1,1686.9 L1154.0,1685.6 L1153.0,1684.2 L1152.0,1682.9ZM1161.3,1690.7 L1162.9,1692.3 L1164.6,1693.9 L1166.4,1695.4 L1168.2,1697.0 L1168.2,1700.2 L1166.4,1698.7 L1164.7,1697.1 L1163.0,1695.5 L1161.4,1693.9ZM1173.7,1701.2 L1176.0,1702.8 L1178.3,1704.4 L1180.7,1706.0 L1183.1,1707.6 L1183.2,1711.1 L1180.7,1709.6 L1178.4,1708.0 L1176.0,1706.4 L1173.8,1704.7ZM1188.9,1710.8 L1191.8,1712.4 L1194.7,1713.9 L1197.7,1715.4 L1200.7,1716.9 L1200.8,1720.8 L1197.7,1719.4 L1194.7,1717.9 L1191.8,1716.3 L1189.0,1714.8ZM1206.6,1719.3 L1210.0,1720.8 L1213.4,1722.1 L1216.9,1723.5 L1220.5,1724.7 L1220.6,1729.1 L1217.0,1727.8 L1213.5,1726.5 L1210.0,1725.1 L1206.6,1723.7ZM1226.4,1726.5 L1230.3,1727.7 L1234.2,1728.9 L1238.2,1730.0 L1242.2,1731.0 L1242.2,1735.8 L1238.2,1734.8 L1234.2,1733.7 L1230.3,1732.5 L1226.5,1731.3ZM1248.0,1732.2 L1252.3,1733.2 L1256.6,1734.0 L1260.9,1734.9 L1265.3,1735.6 L1265.4,1740.8 L1261.0,1740.0 L1256.6,1739.2 L1252.3,1738.3 L1248.0,1737.4ZM1270.9,1736.3 L1275.5,1736.9 L1280.1,1737.5 L1284.8,1738.0 L1289.4,1738.4 L1289.5,1743.9 L1284.8,1743.5 L1280.1,1743.0 L1275.5,1742.4 L1270.9,1741.8ZM1294.7,1738.7 L1299.5,1739.0 L1304.4,1739.2 L1309.2,1739.3 L1314.1,1739.4 L1314.1,1745.2 L1309.2,1745.1 L1304.4,1744.9 L1299.5,1744.7 L1294.7,1744.4ZM1318.9,1739.4 L1323.8,1739.3 L1328.6,1739.2 L1333.5,1739.0 L1338.3,1738.7 L1338.3,1744.4 L1333.5,1744.7 L1328.6,1744.9 L1323.8,1745.1 L1318.9,1745.2ZM1343.6,1738.4 L1348.2,1738.0 L1352.9,1737.5 L1357.5,1736.9 L1362.1,1736.3 L1362.1,1741.8 L1357.5,1742.4 L1352.9,1743.0 L1348.2,1743.5 L1343.5,1743.9ZM1367.7,1735.6 L1372.1,1734.9 L1376.4,1734.0 L1380.7,1733.2 L1385.0,1732.2 L1385.0,1737.4 L1380.7,1738.3 L1376.4,1739.2 L1372.0,1740.0 L1367.6,1740.8ZM1390.8,1731.0 L1394.8,1730.0 L1398.8,1728.9 L1402.7,1727.7 L1406.6,1726.5 L1406.5,1731.3 L1402.7,1732.5 L1398.8,1733.7 L1394.8,1734.8 L1390.8,1735.8ZM1412.5,1724.7 L1416.1,1723.5 L1419.6,1722.1 L1423.0,1720.8 L1426.4,1719.3 L1426.4,1723.7 L1423.0,1725.1 L1419.5,1726.5 L1416.0,1727.8 L1412.4,1729.1ZM1432.3,1716.9 L1435.3,1715.4 L1438.3,1713.9 L1441.2,1712.4 L1444.1,1710.8 L1444.0,1714.8 L1441.2,1716.3 L1438.3,1717.9 L1435.3,1719.4 L1432.2,1720.8ZM1449.9,1707.6 L1452.3,1706.0 L1454.7,1704.4 L1457.0,1702.8 L1459.3,1701.2 L1459.2,1704.7 L1457.0,1706.4 L1454.6,1708.0 L1452.3,1709.6 L1449.8,1711.1ZM1464.8,1697.0 L1466.6,1695.4 L1468.4,1693.9 L1470.1,1692.3 L1471.7,1690.7 L1471.6,1693.9 L1470.0,1695.5 L1468.3,1697.1 L1466.6,1698.7 L1464.8,1700.2ZM1476.9,1685.2 L1478.0,1683.9 L1479.1,1682.6 L1480.1,1681.3 L1481.1,1679.9 L1481.0,1682.9 L1480.0,1684.2 L1479.0,1685.6 L1477.9,1686.9 L1476.8,1688.2ZM1485.8,1672.6 L1486.2,1671.9 L1486.6,1671.2 L1486.9,1670.5 L1487.3,1669.8 L1487.2,1672.6 L1486.9,1673.3 L1486.5,1674.0 L1486.2,1674.6 L1485.8,1675.3ZM1146.0,1681.4 L1146.3,1682.1 L1146.7,1682.8 L1147.0,1683.5 L1147.4,1684.2 L1147.4,1686.9 L1147.1,1686.2 L1146.7,1685.6 L1146.4,1684.9 L1146.0,1684.2ZM1152.1,1691.5 L1153.1,1692.9 L1154.2,1694.2 L1155.2,1695.5 L1156.3,1696.8 L1156.4,1699.8 L1155.3,1698.5 L1154.2,1697.2 L1153.2,1695.8 L1152.2,1694.5ZM1161.5,1702.3 L1163.2,1703.9 L1164.8,1705.5 L1166.6,1707.0 L1168.4,1708.6 L1168.4,1711.8 L1166.6,1710.3 L1164.9,1708.7 L1163.2,1707.1 L1161.6,1705.5ZM1173.9,1712.8 L1176.2,1714.4 L1178.5,1716.0 L1180.9,1717.6 L1183.3,1719.2 L1183.4,1722.7 L1180.9,1721.2 L1178.6,1719.6 L1176.2,1718.0 L1174.0,1716.3ZM1189.1,1722.4 L1191.9,1724.0 L1194.8,1725.5 L1197.8,1727.0 L1200.9,1728.5 L1200.9,1732.4 L1197.9,1731.0 L1194.9,1729.5 L1192.0,1727.9 L1189.2,1726.4ZM1206.7,1730.9 L1210.1,1732.4 L1213.6,1733.7 L1217.1,1735.1 L1220.6,1736.3 L1220.7,1740.7 L1217.1,1739.4 L1213.6,1738.1 L1210.2,1736.7 L1206.8,1735.3ZM1226.5,1738.1 L1230.4,1739.3 L1234.3,1740.5 L1238.3,1741.6 L1242.3,1742.6 L1242.3,1747.4 L1238.3,1746.4 L1234.4,1745.3 L1230.4,1744.1 L1226.6,1742.9ZM1248.1,1743.8 L1252.3,1744.8 L1256.7,1745.6 L1261.0,1746.5 L1265.4,1747.2 L1265.4,1752.4 L1261.0,1751.6 L1256.7,1750.8 L1252.4,1749.9 L1248.1,1749.0ZM1271.0,1747.9 L1275.5,1748.5 L1280.2,1749.1 L1284.8,1749.6 L1289.5,1750.0 L1289.5,1755.5 L1284.8,1755.1 L1280.2,1754.6 L1275.6,1754.0 L1271.0,1753.4ZM1294.7,1750.3 L1299.5,1750.6 L1304.4,1750.8 L1309.2,1750.9 L1314.1,1751.0 L1314.1,1756.8 L1309.2,1756.7 L1304.4,1756.5 L1299.6,1756.3 L1294.7,1756.0ZM1318.9,1751.0 L1323.8,1750.9 L1328.6,1750.8 L1333.5,1750.6 L1338.3,1750.3 L1338.3,1756.0 L1333.4,1756.3 L1328.6,1756.5 L1323.8,1756.7 L1318.9,1756.8ZM1343.5,1750.0 L1348.2,1749.6 L1352.8,1749.1 L1357.5,1748.5 L1362.0,1747.9 L1362.0,1753.4 L1357.4,1754.0 L1352.8,1754.6 L1348.2,1755.1 L1343.5,1755.5ZM1367.6,1747.2 L1372.0,1746.5 L1376.3,1745.6 L1380.7,1744.8 L1384.9,1743.8 L1384.9,1749.0 L1380.6,1749.9 L1376.3,1750.8 L1372.0,1751.6 L1367.6,1752.4ZM1390.7,1742.6 L1394.7,1741.6 L1398.7,1740.5 L1402.6,1739.3 L1406.5,1738.1 L1406.4,1742.9 L1402.6,1744.1 L1398.6,1745.3 L1394.7,1746.4 L1390.7,1747.4ZM1412.4,1736.3 L1415.9,1735.1 L1419.4,1733.7 L1422.9,1732.4 L1426.3,1730.9 L1426.2,1735.3 L1422.8,1736.7 L1419.4,1738.1 L1415.9,1739.4 L1412.3,1740.7ZM1432.1,1728.5 L1435.2,1727.0 L1438.2,1725.5 L1441.1,1724.0 L1443.9,1722.4 L1443.8,1726.4 L1441.0,1727.9 L1438.1,1729.5 L1435.1,1731.0 L1432.1,1732.4ZM1449.7,1719.2 L1452.1,1717.6 L1454.5,1716.0 L1456.8,1714.4 L1459.1,1712.8 L1459.0,1716.3 L1456.8,1718.0 L1454.4,1719.6 L1452.1,1721.2 L1449.6,1722.7ZM1464.6,1708.6 L1466.4,1707.0 L1468.2,1705.5 L1469.8,1703.9 L1471.5,1702.3 L1471.4,1705.5 L1469.8,1707.1 L1468.1,1708.7 L1466.4,1710.3 L1464.6,1711.8ZM1476.7,1696.8 L1477.8,1695.5 L1478.8,1694.2 L1479.9,1692.9 L1480.9,1691.5 L1480.8,1694.5 L1479.8,1695.8 L1478.8,1697.2 L1477.7,1698.5 L1476.6,1699.8ZM1485.6,1684.2 L1486.0,1683.5 L1486.3,1682.8 L1486.7,1682.1 L1487.0,1681.4 L1487.0,1684.2 L1486.6,1684.9 L1486.3,1685.6 L1485.9,1686.2 L1485.6,1686.9ZM1146.2,1693.1 L1146.5,1693.7 L1146.9,1694.4 L1147.3,1695.1 L1147.6,1695.8 L1147.7,1698.5 L1147.3,1697.8 L1147.0,1697.2 L1146.6,1696.5 L1146.3,1695.8ZM1152.4,1703.1 L1153.4,1704.5 L1154.4,1705.8 L1155.5,1707.1 L1156.5,1708.4 L1156.6,1711.4 L1155.5,1710.1 L1154.5,1708.8 L1153.4,1707.4 L1152.4,1706.1ZM1161.8,1713.9 L1163.4,1715.5 L1165.1,1717.1 L1166.8,1718.6 L1168.6,1720.2 L1168.6,1723.4 L1166.9,1721.9 L1165.1,1720.3 L1163.4,1718.7 L1161.8,1717.1ZM1174.1,1724.4 L1176.4,1726.0 L1178.7,1727.6 L1181.1,1729.2 L1183.5,1730.8 L1183.6,1734.3 L1181.1,1732.8 L1178.8,1731.2 L1176.4,1729.6 L1174.2,1727.9ZM1189.3,1734.0 L1192.1,1735.6 L1195.0,1737.1 L1198.0,1738.6 L1201.0,1740.1 L1201.1,1744.0 L1198.0,1742.6 L1195.1,1741.1 L1192.2,1739.5 L1189.3,1738.0ZM1206.9,1742.5 L1210.3,1744.0 L1213.7,1745.3 L1217.2,1746.7 L1220.8,1747.9 L1220.8,1752.3 L1217.3,1751.0 L1213.8,1749.7 L1210.3,1748.3 L1207.0,1746.9ZM1226.7,1749.7 L1230.5,1750.9 L1234.4,1752.1 L1238.4,1753.2 L1242.4,1754.2 L1242.4,1759.0 L1238.4,1758.0 L1234.5,1756.9 L1230.6,1755.7 L1226.7,1754.5ZM1248.2,1755.4 L1252.4,1756.4 L1256.7,1757.2 L1261.1,1758.1 L1265.5,1758.8 L1265.5,1764.0 L1261.1,1763.2 L1256.8,1762.4 L1252.5,1761.5 L1248.2,1760.6ZM1271.0,1759.5 L1275.6,1760.1 L1280.2,1760.7 L1284.9,1761.2 L1289.5,1761.6 L1289.5,1767.1 L1284.9,1766.7 L1280.2,1766.2 L1275.6,1765.6 L1271.1,1765.0ZM1294.7,1761.9 L1299.6,1762.2 L1304.4,1762.4 L1309.3,1762.5 L1314.1,1762.6 L1314.1,1768.4 L1309.3,1768.3 L1304.4,1768.1 L1299.6,1767.9 L1294.8,1767.6ZM1318.9,1762.6 L1323.7,1762.5 L1328.6,1762.4 L1333.4,1762.2 L1338.3,1761.9 L1338.2,1767.6 L1333.4,1767.9 L1328.6,1768.1 L1323.7,1768.3 L1318.9,1768.4ZM1343.5,1761.6 L1348.1,1761.2 L1352.8,1760.7 L1357.4,1760.1 L1362.0,1759.5 L1361.9,1765.0 L1357.4,1765.6 L1352.8,1766.2 L1348.1,1766.7 L1343.5,1767.1ZM1367.5,1758.8 L1371.9,1758.1 L1376.3,1757.2 L1380.6,1756.4 L1384.8,1755.4 L1384.8,1760.6 L1380.5,1761.5 L1376.2,1762.4 L1371.9,1763.2 L1367.5,1764.0ZM1390.6,1754.2 L1394.6,1753.2 L1398.6,1752.1 L1402.5,1750.9 L1406.3,1749.7 L1406.3,1754.5 L1402.4,1755.7 L1398.5,1756.9 L1394.6,1758.0 L1390.6,1759.0ZM1412.2,1747.9 L1415.8,1746.7 L1419.3,1745.3 L1422.7,1744.0 L1426.1,1742.5 L1426.0,1746.9 L1422.7,1748.3 L1419.2,1749.7 L1415.7,1751.0 L1412.2,1752.3ZM1432.0,1740.1 L1435.0,1738.6 L1438.0,1737.1 L1440.9,1735.6 L1443.7,1734.0 L1443.7,1738.0 L1440.8,1739.5 L1437.9,1741.1 L1435.0,1742.6 L1431.9,1744.0ZM1449.5,1730.8 L1451.9,1729.2 L1454.3,1727.6 L1456.6,1726.0 L1458.9,1724.4 L1458.8,1727.9 L1456.6,1729.6 L1454.2,1731.2 L1451.9,1732.8 L1449.4,1734.3ZM1464.4,1720.2 L1466.2,1718.6 L1467.9,1717.1 L1469.6,1715.5 L1471.2,1713.9 L1471.2,1717.1 L1469.6,1718.7 L1467.9,1720.3 L1466.1,1721.9 L1464.4,1723.4ZM1476.5,1708.4 L1477.5,1707.1 L1478.6,1705.8 L1479.6,1704.5 L1480.6,1703.1 L1480.6,1706.1 L1479.6,1707.4 L1478.5,1708.8 L1477.5,1710.1 L1476.4,1711.4ZM1485.4,1695.8 L1485.7,1695.1 L1486.1,1694.4 L1486.5,1693.7 L1486.8,1693.1 L1486.7,1695.8 L1486.4,1696.5 L1486.0,1697.2 L1485.7,1697.8 L1485.3,1698.5ZM1146.5,1704.7 L1146.8,1705.3 L1147.1,1706.0 L1147.5,1706.7 L1147.9,1707.4 L1147.9,1710.1 L1147.5,1709.4 L1147.2,1708.8 L1146.8,1708.1 L1146.5,1707.4ZM1152.6,1714.8 L1153.6,1716.1 L1154.6,1717.4 L1155.7,1718.7 L1156.8,1720.0 L1156.8,1723.0 L1155.7,1721.7 L1154.7,1720.4 L1153.7,1719.0 L1152.7,1717.7ZM1162.0,1725.5 L1163.6,1727.1 L1165.3,1728.7 L1167.0,1730.2 L1168.8,1731.8 L1168.9,1735.0 L1167.1,1733.5 L1165.3,1731.9 L1163.7,1730.3 L1162.0,1728.8ZM1174.3,1736.0 L1176.6,1737.6 L1178.9,1739.2 L1181.3,1740.8 L1183.7,1742.4 L1183.7,1745.9 L1181.3,1744.4 L1178.9,1742.8 L1176.6,1741.2 L1174.4,1739.5ZM1189.5,1745.6 L1192.3,1747.2 L1195.2,1748.7 L1198.2,1750.2 L1201.2,1751.7 L1201.2,1755.6 L1198.2,1754.2 L1195.2,1752.7 L1192.4,1751.1 L1189.5,1749.6ZM1207.1,1754.1 L1210.4,1755.6 L1213.9,1756.9 L1217.4,1758.3 L1220.9,1759.5 L1221.0,1763.9 L1217.4,1762.6 L1213.9,1761.3 L1210.5,1759.9 L1207.1,1758.5ZM1226.8,1761.3 L1230.6,1762.5 L1234.5,1763.7 L1238.5,1764.8 L1242.5,1765.8 L1242.5,1770.6 L1238.5,1769.6 L1234.6,1768.5 L1230.7,1767.3 L1226.9,1766.1ZM1248.3,1767.0 L1252.5,1768.0 L1256.8,1768.8 L1261.2,1769.7 L1265.5,1770.4 L1265.6,1775.6 L1261.2,1774.8 L1256.9,1774.0 L1252.6,1773.1 L1248.3,1772.2ZM1271.1,1771.1 L1275.7,1771.7 L1280.3,1772.3 L1284.9,1772.8 L1289.5,1773.2 L1289.6,1778.7 L1284.9,1778.3 L1280.3,1777.8 L1275.7,1777.2 L1271.1,1776.6ZM1294.8,1773.5 L1299.6,1773.8 L1304.4,1774.0 L1309.3,1774.1 L1314.1,1774.2 L1314.1,1780.0 L1309.3,1779.9 L1304.4,1779.7 L1299.6,1779.5 L1294.8,1779.2ZM1318.9,1774.2 L1323.7,1774.1 L1328.6,1774.0 L1333.4,1773.8 L1338.2,1773.5 L1338.2,1779.2 L1333.4,1779.5 L1328.6,1779.7 L1323.7,1779.9 L1318.9,1780.0ZM1343.5,1773.2 L1348.1,1772.8 L1352.7,1772.3 L1357.3,1771.7 L1361.9,1771.1 L1361.9,1776.6 L1357.3,1777.2 L1352.7,1777.8 L1348.1,1778.3 L1343.4,1778.7ZM1367.5,1770.4 L1371.8,1769.7 L1376.2,1768.8 L1380.5,1768.0 L1384.7,1767.0 L1384.7,1772.2 L1380.4,1773.1 L1376.1,1774.0 L1371.8,1774.8 L1367.4,1775.6ZM1390.5,1765.8 L1394.5,1764.8 L1398.5,1763.7 L1402.4,1762.5 L1406.2,1761.3 L1406.1,1766.1 L1402.3,1767.3 L1398.4,1768.5 L1394.5,1769.6 L1390.5,1770.6ZM1412.1,1759.5 L1415.6,1758.3 L1419.1,1756.9 L1422.6,1755.6 L1425.9,1754.1 L1425.9,1758.5 L1422.5,1759.9 L1419.1,1761.3 L1415.6,1762.6 L1412.0,1763.9ZM1431.8,1751.7 L1434.8,1750.2 L1437.8,1748.7 L1440.7,1747.2 L1443.5,1745.6 L1443.5,1749.6 L1440.6,1751.1 L1437.8,1752.7 L1434.8,1754.2 L1431.8,1755.6ZM1449.3,1742.4 L1451.7,1740.8 L1454.1,1739.2 L1456.4,1737.6 L1458.7,1736.0 L1458.6,1739.5 L1456.4,1741.2 L1454.1,1742.8 L1451.7,1744.4 L1449.3,1745.9ZM1464.2,1731.8 L1466.0,1730.2 L1467.7,1728.7 L1469.4,1727.1 L1471.0,1725.5 L1471.0,1728.8 L1469.3,1730.3 L1467.7,1731.9 L1465.9,1733.5 L1464.1,1735.0ZM1476.2,1720.0 L1477.3,1718.7 L1478.4,1717.4 L1479.4,1716.1 L1480.4,1714.8 L1480.3,1717.7 L1479.3,1719.0 L1478.3,1720.4 L1477.3,1721.7 L1476.2,1723.0ZM1485.1,1707.4 L1485.5,1706.7 L1485.9,1706.0 L1486.2,1705.3 L1486.5,1704.7 L1486.5,1707.4 L1486.2,1708.1 L1485.8,1708.8 L1485.5,1709.4 L1485.1,1710.1ZM1146.7,1716.3 L1147.0,1716.9 L1147.4,1717.6 L1147.7,1718.3 L1148.1,1718.9 L1148.1,1721.7 L1147.8,1721.0 L1147.4,1720.4 L1147.1,1719.7 L1146.8,1719.0ZM1152.9,1726.4 L1153.8,1727.7 L1154.9,1729.0 L1155.9,1730.3 L1157.0,1731.6 L1157.0,1734.6 L1156.0,1733.3 L1154.9,1732.0 L1153.9,1730.6 L1152.9,1729.3ZM1162.2,1737.1 L1163.8,1738.7 L1165.5,1740.3 L1167.2,1741.8 L1169.0,1743.4 L1169.1,1746.6 L1167.3,1745.1 L1165.5,1743.5 L1163.9,1741.9 L1162.3,1740.4ZM1174.5,1747.6 L1176.8,1749.2 L1179.1,1750.8 L1181.4,1752.4 L1183.9,1754.0 L1183.9,1757.5 L1181.5,1756.0 L1179.1,1754.4 L1176.8,1752.8 L1174.6,1751.1ZM1189.6,1757.2 L1192.5,1758.8 L1195.4,1760.3 L1198.3,1761.8 L1201.3,1763.3 L1201.4,1767.2 L1198.4,1765.8 L1195.4,1764.3 L1192.5,1762.7 L1189.7,1761.2ZM1207.2,1765.7 L1210.6,1767.2 L1214.0,1768.5 L1217.5,1769.9 L1221.0,1771.1 L1221.1,1775.5 L1217.5,1774.2 L1214.1,1772.9 L1210.6,1771.5 L1207.3,1770.1ZM1226.9,1772.9 L1230.8,1774.1 L1234.7,1775.3 L1238.6,1776.4 L1242.6,1777.4 L1242.6,1782.2 L1238.6,1781.2 L1234.7,1780.1 L1230.8,1778.9 L1227.0,1777.7ZM1248.4,1778.6 L1252.6,1779.6 L1256.9,1780.4 L1261.2,1781.3 L1265.6,1782.0 L1265.6,1787.2 L1261.3,1786.4 L1256.9,1785.6 L1252.7,1784.7 L1248.4,1783.8ZM1271.2,1782.7 L1275.7,1783.3 L1280.3,1783.9 L1284.9,1784.4 L1289.6,1784.8 L1289.6,1790.3 L1285.0,1789.9 L1280.3,1789.4 L1275.7,1788.8 L1271.2,1788.2ZM1294.8,1785.1 L1299.6,1785.4 L1304.4,1785.6 L1309.3,1785.7 L1314.1,1785.8 L1314.1,1791.6 L1309.3,1791.5 L1304.4,1791.3 L1299.6,1791.1 L1294.8,1790.8ZM1318.9,1785.8 L1323.7,1785.7 L1328.6,1785.6 L1333.4,1785.4 L1338.2,1785.1 L1338.2,1790.8 L1333.4,1791.1 L1328.6,1791.3 L1323.7,1791.5 L1318.9,1791.6ZM1343.4,1784.8 L1348.1,1784.4 L1352.7,1783.9 L1357.3,1783.3 L1361.8,1782.7 L1361.8,1788.2 L1357.3,1788.8 L1352.7,1789.4 L1348.0,1789.9 L1343.4,1790.3ZM1367.4,1782.0 L1371.8,1781.3 L1376.1,1780.4 L1380.4,1779.6 L1384.6,1778.6 L1384.6,1783.8 L1380.3,1784.7 L1376.1,1785.6 L1371.7,1786.4 L1367.4,1787.2ZM1390.4,1777.4 L1394.4,1776.4 L1398.3,1775.3 L1402.2,1774.1 L1406.1,1772.9 L1406.0,1777.7 L1402.2,1778.9 L1398.3,1780.1 L1394.4,1781.2 L1390.4,1782.2ZM1412.0,1771.1 L1415.5,1769.9 L1419.0,1768.5 L1422.4,1767.2 L1425.8,1765.7 L1425.7,1770.1 L1422.4,1771.5 L1418.9,1772.9 L1415.5,1774.2 L1411.9,1775.5ZM1431.7,1763.3 L1434.7,1761.8 L1437.6,1760.3 L1440.5,1758.8 L1443.4,1757.2 L1443.3,1761.2 L1440.5,1762.7 L1437.6,1764.3 L1434.6,1765.8 L1431.6,1767.2ZM1449.1,1754.0 L1451.6,1752.4 L1453.9,1750.8 L1456.2,1749.2 L1458.5,1747.6 L1458.4,1751.1 L1456.2,1752.8 L1453.9,1754.4 L1451.5,1756.0 L1449.1,1757.5ZM1464.0,1743.4 L1465.8,1741.8 L1467.5,1740.3 L1469.2,1738.7 L1470.8,1737.1 L1470.7,1740.4 L1469.1,1741.9 L1467.5,1743.5 L1465.7,1745.1 L1463.9,1746.6ZM1476.0,1731.6 L1477.1,1730.3 L1478.1,1729.0 L1479.2,1727.7 L1480.1,1726.4 L1480.1,1729.3 L1479.1,1730.6 L1478.1,1732.0 L1477.0,1733.3 L1476.0,1734.6ZM1484.9,1718.9 L1485.3,1718.3 L1485.6,1717.6 L1486.0,1716.9 L1486.3,1716.3 L1486.2,1719.0 L1485.9,1719.7 L1485.6,1720.4 L1485.2,1721.0 L1484.9,1721.7ZM1146.9,1727.9 L1147.3,1728.6 L1147.6,1729.2 L1148.0,1729.9 L1148.3,1730.5 L1148.4,1733.3 L1148.0,1732.6 L1147.7,1732.0 L1147.3,1731.3 L1147.0,1730.6ZM1153.1,1738.0 L1154.1,1739.3 L1155.1,1740.6 L1156.1,1741.9 L1157.2,1743.2 L1157.3,1746.2 L1156.2,1744.9 L1155.1,1743.6 L1154.1,1742.2 L1153.1,1740.9ZM1162.4,1748.7 L1164.0,1750.3 L1165.7,1751.9 L1167.4,1753.4 L1169.2,1755.0 L1169.3,1758.2 L1167.5,1756.7 L1165.8,1755.1 L1164.1,1753.5 L1162.5,1752.0ZM1174.7,1759.2 L1177.0,1760.8 L1179.3,1762.4 L1181.6,1764.0 L1184.1,1765.6 L1184.1,1769.1 L1181.7,1767.6 L1179.3,1766.0 L1177.0,1764.4 L1174.8,1762.7ZM1189.8,1768.8 L1192.6,1770.4 L1195.5,1771.9 L1198.5,1773.4 L1201.5,1774.9 L1201.5,1778.8 L1198.5,1777.4 L1195.6,1775.9 L1192.7,1774.3 L1189.9,1772.8ZM1207.4,1777.3 L1210.7,1778.8 L1214.2,1780.1 L1217.6,1781.5 L1221.2,1782.7 L1221.2,1787.1 L1217.7,1785.8 L1214.2,1784.5 L1210.8,1783.1 L1207.4,1781.7ZM1227.1,1784.5 L1230.9,1785.7 L1234.8,1786.9 L1238.7,1788.0 L1242.7,1789.0 L1242.7,1793.8 L1238.8,1792.8 L1234.8,1791.7 L1230.9,1790.5 L1227.1,1789.3ZM1248.5,1790.2 L1252.7,1791.2 L1257.0,1792.0 L1261.3,1792.9 L1265.7,1793.6 L1265.7,1798.8 L1261.3,1798.0 L1257.0,1797.2 L1252.8,1796.3 L1248.5,1795.4ZM1271.2,1794.3 L1275.8,1794.9 L1280.4,1795.5 L1285.0,1796.0 L1289.6,1796.4 L1289.6,1801.9 L1285.0,1801.5 L1280.4,1801.0 L1275.8,1800.4 L1271.3,1799.8ZM1294.9,1796.7 L1299.6,1797.0 L1304.5,1797.2 L1309.3,1797.3 L1314.1,1797.4 L1314.1,1803.2 L1309.3,1803.1 L1304.5,1802.9 L1299.7,1802.7 L1294.9,1802.4ZM1318.9,1797.4 L1323.7,1797.3 L1328.5,1797.2 L1333.4,1797.0 L1338.1,1796.7 L1338.1,1802.4 L1333.3,1802.7 L1328.5,1802.9 L1323.7,1803.1 L1318.9,1803.2ZM1343.4,1796.4 L1348.0,1796.0 L1352.6,1795.5 L1357.2,1794.9 L1361.8,1794.3 L1361.7,1799.8 L1357.2,1800.4 L1352.6,1801.0 L1348.0,1801.5 L1343.4,1801.9ZM1367.3,1793.6 L1371.7,1792.9 L1376.0,1792.0 L1380.3,1791.2 L1384.5,1790.2 L1384.5,1795.4 L1380.2,1796.3 L1376.0,1797.2 L1371.7,1798.0 L1367.3,1798.8ZM1390.3,1789.0 L1394.3,1788.0 L1398.2,1786.9 L1402.1,1785.7 L1405.9,1784.5 L1405.9,1789.3 L1402.1,1790.5 L1398.2,1791.7 L1394.2,1792.8 L1390.3,1793.8ZM1411.8,1782.7 L1415.4,1781.5 L1418.8,1780.1 L1422.3,1778.8 L1425.6,1777.3 L1425.6,1781.7 L1422.2,1783.1 L1418.8,1784.5 L1415.3,1785.8 L1411.8,1787.1ZM1431.5,1774.9 L1434.5,1773.4 L1437.5,1771.9 L1440.4,1770.4 L1443.2,1768.8 L1443.1,1772.8 L1440.3,1774.3 L1437.4,1775.9 L1434.5,1777.4 L1431.5,1778.8ZM1448.9,1765.6 L1451.4,1764.0 L1453.7,1762.4 L1456.0,1760.8 L1458.3,1759.2 L1458.2,1762.7 L1456.0,1764.4 L1453.7,1766.0 L1451.3,1767.6 L1448.9,1769.1ZM1463.8,1755.0 L1465.6,1753.4 L1467.3,1751.9 L1469.0,1750.3 L1470.6,1748.7 L1470.5,1752.0 L1468.9,1753.5 L1467.2,1755.1 L1465.5,1756.7 L1463.7,1758.2ZM1475.8,1743.2 L1476.9,1741.9 L1477.9,1740.6 L1478.9,1739.3 L1479.9,1738.0 L1479.9,1740.9 L1478.9,1742.2 L1477.9,1743.6 L1476.8,1744.9 L1475.7,1746.2ZM1484.7,1730.5 L1485.0,1729.9 L1485.4,1729.2 L1485.7,1728.6 L1486.1,1727.9 L1486.0,1730.6 L1485.7,1731.3 L1485.3,1732.0 L1485.0,1732.6 L1484.6,1733.3Z" fill="#fff" stroke="none"/>
<path d="M1160.5,1536.3 A180.2,96 0 0 0 1472.5,1536.3M1160.5,1538.4 A180.1,96 0 0 0 1472.5,1538.4M1160.7,1547.9 A179.9,96 0 0 0 1472.3,1547.9M1160.7,1550.0 A179.9,96 0 0 0 1472.3,1550.0M1160.9,1559.5 A179.7,96 0 0 0 1472.1,1559.5M1160.9,1561.6 A179.6,96 0 0 0 1472.1,1561.6M1161.1,1571.1 A179.4,96 0 0 0 1471.9,1571.1M1161.2,1573.2 A179.4,96 0 0 0 1471.8,1573.2M1161.3,1582.7 A179.2,96 0 0 0 1471.7,1582.7M1161.4,1584.8 A179.1,96 0 0 0 1471.6,1584.8M1161.5,1594.3 A178.9,96 0 0 0 1471.5,1594.3M1161.6,1596.4 A178.9,96 0 0 0 1471.4,1596.4M1161.8,1605.9 A178.7,96 0 0 0 1471.2,1605.9M1161.8,1608.0 A178.6,96 0 0 0 1471.2,1608.0M1162.0,1617.5 A178.4,96 0 0 0 1471.0,1617.5M1162.0,1619.6 A178.4,96 0 0 0 1471.0,1619.6M1162.2,1629.1 A178.2,96 0 0 0 1470.8,1629.1M1162.2,1631.2 A178.2,96 0 0 0 1470.8,1631.2M1162.4,1640.7 A177.9,96 0 0 0 1470.6,1640.7M1162.4,1642.8 A177.9,96 0 0 0 1470.6,1642.8M1162.6,1652.3 A177.7,96 0 0 0 1470.4,1652.3M1162.6,1654.4 A177.7,96 0 0 0 1470.4,1654.4M1162.8,1663.9 A177.5,96 0 0 0 1470.2,1663.9M1162.9,1666.0 A177.4,96 0 0 0 1470.1,1666.0M1163.0,1675.5 A177.2,96 0 0 0 1470.0,1675.5M1163.1,1677.6 A177.2,96 0 0 0 1469.9,1677.6M1163.3,1687.1 A177.0,96 0 0 0 1469.7,1687.1M1163.3,1689.2 A176.9,96 0 0 0 1469.7,1689.2M1163.5,1698.7 A176.7,96 0 0 0 1469.5,1698.7M1163.5,1700.8 A176.7,96 0 0 0 1469.5,1700.8M1163.7,1710.3 A176.5,96 0 0 0 1469.3,1710.3M1163.7,1712.4 A176.4,96 0 0 0 1469.3,1712.4M1163.9,1721.9 A176.2,96 0 0 0 1469.1,1721.9M1163.9,1724.0 A176.2,96 0 0 0 1469.1,1724.0M1164.1,1733.5 A176.0,96 0 0 0 1468.9,1733.5M1164.1,1735.6 A175.9,96 0 0 0 1468.9,1735.6M1164.3,1745.1 A175.7,96 0 0 0 1468.7,1745.1M1164.4,1747.2 A175.7,96 0 0 0 1468.6,1747.2M1164.5,1756.7 A175.5,96 0 0 0 1468.5,1756.7M1164.6,1758.8 A175.4,96 0 0 0 1468.4,1758.8" fill="none" stroke="#fff" stroke-width="1.0"/>
<path d="M1166.9,1534.7 L1171.4,1780.7M1182.4,1545.2 L1186.4,1791.2M1200.5,1554.5 L1204.0,1800.5M1220.8,1562.4 L1223.8,1808.4M1243.1,1568.7 L1245.3,1814.7M1266.7,1573.3 L1268.3,1819.3M1291.4,1576.1 L1292.1,1822.1M1316.5,1577.0 L1316.5,1823.0M1341.6,1576.1 L1340.9,1822.1M1366.3,1573.3 L1364.7,1819.3M1389.9,1568.7 L1387.7,1814.7M1412.2,1562.4 L1409.2,1808.4M1432.5,1554.5 L1429.0,1800.5M1450.6,1545.2 L1446.6,1791.2M1466.1,1534.7 L1461.6,1780.7" fill="none" stroke="#fff" stroke-width="0.8"/>
<path d="M1172.8,1553.2 Q1174.6,1558.2 1176.5,1553.2M1208.3,1571.8 Q1210.7,1576.8 1213.1,1571.8M1252.1,1584.3 Q1254.9,1589.3 1257.7,1584.3M1300.9,1589.9 Q1303.9,1594.9 1306.9,1589.9M1351.0,1588.0 Q1353.9,1593.0 1356.9,1588.0M1398.4,1578.9 Q1401.0,1583.9 1403.7,1578.9M1439.4,1563.2 Q1441.6,1568.2 1443.7,1563.2M1470.9,1542.1 Q1472.4,1547.1 1473.9,1542.1M1189.5,1574.8 Q1191.6,1579.8 1193.8,1574.8M1229.4,1590.5 Q1232.1,1595.5 1234.7,1590.5M1276.2,1599.6 Q1279.1,1604.6 1282.1,1599.6M1326.0,1601.5 Q1329.0,1606.5 1332.0,1601.5M1375.2,1595.9 Q1378.0,1600.9 1380.8,1595.9M1419.7,1583.4 Q1422.2,1588.4 1424.6,1583.4M1456.3,1564.8 Q1458.2,1569.8 1460.0,1564.8M1173.2,1576.4 Q1175.0,1581.4 1176.9,1576.4M1208.5,1595.0 Q1211.0,1600.0 1213.4,1595.0M1252.3,1607.5 Q1255.1,1612.5 1257.9,1607.5M1301.0,1613.1 Q1304.0,1618.1 1307.0,1613.1M1350.9,1611.2 Q1353.8,1616.2 1356.8,1611.2M1398.1,1602.1 Q1400.8,1607.1 1403.4,1602.1M1439.1,1586.4 Q1441.2,1591.4 1443.4,1586.4M1470.5,1565.3 Q1472.0,1570.3 1473.5,1565.3M1189.8,1598.0 Q1192.0,1603.0 1194.1,1598.0M1229.7,1613.7 Q1232.3,1618.7 1235.0,1613.7M1276.3,1622.8 Q1279.2,1627.8 1282.2,1622.8M1326.0,1624.7 Q1329.0,1629.7 1332.0,1624.7M1375.0,1619.1 Q1377.8,1624.1 1380.6,1619.1M1419.5,1606.6 Q1421.9,1611.6 1424.3,1606.6M1455.9,1588.0 Q1457.8,1593.0 1459.6,1588.0M1173.6,1599.6 Q1175.4,1604.6 1177.3,1599.6M1208.8,1618.2 Q1211.3,1623.2 1213.7,1618.2M1252.4,1630.7 Q1255.3,1635.7 1258.1,1630.7M1301.0,1636.3 Q1304.0,1641.3 1307.0,1636.3M1350.8,1634.4 Q1353.7,1639.4 1356.7,1634.4M1397.9,1625.3 Q1400.6,1630.3 1403.2,1625.3M1438.7,1609.6 Q1440.9,1614.6 1443.0,1609.6M1470.1,1588.5 Q1471.6,1593.5 1473.1,1588.5M1190.1,1621.2 Q1192.3,1626.2 1194.5,1621.2M1229.9,1636.9 Q1232.6,1641.9 1235.2,1636.9M1276.4,1646.0 Q1279.3,1651.0 1282.3,1646.0M1326.0,1647.9 Q1329.0,1652.9 1332.0,1647.9M1374.8,1642.3 Q1377.7,1647.3 1380.5,1642.3M1419.2,1629.8 Q1421.6,1634.8 1424.0,1629.8M1455.5,1611.2 Q1457.4,1616.2 1459.2,1611.2M1174.0,1622.8 Q1175.8,1627.8 1177.7,1622.8M1209.1,1641.4 Q1211.6,1646.4 1214.0,1641.4M1252.6,1653.9 Q1255.4,1658.9 1258.3,1653.9M1301.1,1659.5 Q1304.0,1664.5 1307.0,1659.5M1350.7,1657.6 Q1353.6,1662.6 1356.6,1657.6M1397.7,1648.5 Q1400.3,1653.5 1403.0,1648.5M1438.4,1632.8 Q1440.5,1637.8 1442.7,1632.8M1469.6,1611.7 Q1471.1,1616.7 1472.6,1611.7M1190.5,1644.4 Q1192.6,1649.4 1194.8,1644.4M1230.1,1660.1 Q1232.8,1665.1 1235.4,1660.1M1276.5,1669.2 Q1279.4,1674.2 1282.4,1669.2M1325.9,1671.1 Q1328.9,1676.1 1331.9,1671.1M1374.7,1665.5 Q1377.5,1670.5 1380.3,1665.5M1418.9,1653.0 Q1421.3,1658.0 1423.7,1653.0M1455.2,1634.4 Q1457.0,1639.4 1458.8,1634.4M1174.3,1646.0 Q1176.2,1651.0 1178.0,1646.0M1209.4,1664.6 Q1211.8,1669.6 1214.3,1664.6M1252.8,1677.1 Q1255.6,1682.1 1258.4,1677.1M1301.1,1682.7 Q1304.1,1687.7 1307.1,1682.7M1350.6,1680.8 Q1353.5,1685.8 1356.5,1680.8M1397.4,1671.7 Q1400.1,1676.7 1402.7,1671.7M1438.0,1656.0 Q1440.2,1661.0 1442.3,1656.0M1469.2,1634.9 Q1470.7,1639.9 1472.2,1634.9M1190.8,1667.6 Q1193.0,1672.6 1195.1,1667.6M1230.4,1683.3 Q1233.0,1688.3 1235.7,1683.3M1276.6,1692.4 Q1279.5,1697.4 1282.5,1692.4M1325.9,1694.3 Q1328.9,1699.3 1331.9,1694.3M1374.5,1688.7 Q1377.3,1693.7 1380.1,1688.7M1418.6,1676.2 Q1421.0,1681.2 1423.4,1676.2M1454.8,1657.6 Q1456.6,1662.6 1458.5,1657.6M1174.7,1669.2 Q1176.6,1674.2 1178.4,1669.2M1209.7,1687.8 Q1212.1,1692.8 1214.6,1687.8M1253.0,1700.3 Q1255.8,1705.3 1258.6,1700.3M1301.1,1705.9 Q1304.1,1710.9 1307.1,1705.9M1350.5,1704.0 Q1353.4,1709.0 1356.4,1704.0M1397.2,1694.9 Q1399.9,1699.9 1402.5,1694.9M1437.7,1679.2 Q1439.8,1684.2 1442.0,1679.2M1468.8,1658.1 Q1470.3,1663.1 1471.8,1658.1M1191.2,1690.8 Q1193.3,1695.8 1195.5,1690.8M1230.6,1706.5 Q1233.3,1711.5 1235.9,1706.5M1276.7,1715.6 Q1279.6,1720.6 1282.6,1715.6M1325.9,1717.5 Q1328.9,1722.5 1331.9,1717.5M1374.3,1711.9 Q1377.1,1716.9 1380.0,1711.9M1418.3,1699.4 Q1420.7,1704.4 1423.1,1699.4M1454.4,1680.8 Q1456.2,1685.8 1458.1,1680.8M1175.1,1692.4 Q1177.0,1697.4 1178.8,1692.4M1210.0,1711.0 Q1212.4,1716.0 1214.9,1711.0M1253.1,1723.5 Q1255.9,1728.5 1258.8,1723.5M1301.2,1729.1 Q1304.1,1734.1 1307.1,1729.1M1350.4,1727.2 Q1353.3,1732.2 1356.2,1727.2M1397.0,1718.1 Q1399.6,1723.1 1402.3,1718.1M1437.3,1702.4 Q1439.5,1707.4 1441.7,1702.4M1468.3,1681.3 Q1469.8,1686.3 1471.3,1681.3M1191.5,1714.0 Q1193.7,1719.0 1195.8,1714.0M1230.8,1729.7 Q1233.5,1734.7 1236.1,1729.7M1276.8,1738.8 Q1279.7,1743.8 1282.7,1738.8M1325.8,1740.7 Q1328.8,1745.7 1331.8,1740.7M1374.2,1735.1 Q1377.0,1740.1 1379.8,1735.1M1418.0,1722.6 Q1420.4,1727.6 1422.9,1722.6M1454.0,1704.0 Q1455.8,1709.0 1457.7,1704.0M1175.5,1715.6 Q1177.4,1720.6 1179.2,1715.6M1210.3,1734.2 Q1212.7,1739.2 1215.1,1734.2M1253.3,1746.7 Q1256.1,1751.7 1258.9,1746.7M1301.2,1752.3 Q1304.2,1757.3 1307.2,1752.3M1350.3,1750.4 Q1353.2,1755.4 1356.1,1750.4M1396.7,1741.3 Q1399.4,1746.3 1402.0,1741.3M1437.0,1725.6 Q1439.2,1730.6 1441.3,1725.6M1467.9,1704.5 Q1469.4,1709.5 1470.9,1704.5M1191.9,1737.2 Q1194.0,1742.2 1196.2,1737.2M1231.1,1752.9 Q1233.7,1757.9 1236.4,1752.9M1276.9,1762.0 Q1279.8,1767.0 1282.8,1762.0M1325.8,1763.9 Q1328.8,1768.9 1331.8,1763.9M1374.0,1758.3 Q1376.8,1763.3 1379.6,1758.3M1417.7,1745.8 Q1420.1,1750.8 1422.6,1745.8M1453.6,1727.2 Q1455.4,1732.2 1457.3,1727.2M1175.9,1738.8 Q1177.8,1743.8 1179.6,1738.8M1210.6,1757.4 Q1213.0,1762.4 1215.4,1757.4M1253.5,1769.9 Q1256.3,1774.9 1259.1,1769.9M1301.2,1775.5 Q1304.2,1780.5 1307.2,1775.5M1350.2,1773.6 Q1353.1,1778.6 1356.0,1773.6M1396.5,1764.5 Q1399.2,1769.5 1401.8,1764.5M1436.7,1748.8 Q1438.8,1753.8 1441.0,1748.8M1467.5,1727.7 Q1469.0,1732.7 1470.5,1727.7M1192.2,1760.4 Q1194.4,1765.4 1196.5,1760.4M1231.3,1776.1 Q1234.0,1781.1 1236.6,1776.1M1277.0,1785.2 Q1279.9,1790.2 1282.9,1785.2M1325.8,1787.1 Q1328.8,1792.1 1331.8,1787.1M1373.8,1781.5 Q1376.6,1786.5 1379.5,1781.5M1417.4,1769.0 Q1419.8,1774.0 1422.3,1769.0M1453.2,1750.4 Q1455.1,1755.4 1456.9,1750.4M1176.3,1762.0 Q1178.1,1767.0 1180.0,1762.0M1210.9,1780.6 Q1213.3,1785.6 1215.7,1780.6M1253.6,1793.1 Q1256.4,1798.1 1259.3,1793.1M1301.3,1798.7 Q1304.3,1803.7 1307.2,1798.7M1350.1,1796.8 Q1353.0,1801.8 1355.9,1796.8M1396.3,1787.7 Q1398.9,1792.7 1401.6,1787.7M1436.3,1772.0 Q1438.5,1777.0 1440.6,1772.0M1467.1,1750.9 Q1468.6,1755.9 1470.1,1750.9" fill="none" stroke="#000" stroke-width="1.8"/>
<path d="M1146.5,1736.6 L1147.1,1737.8 L1147.6,1738.9 L1148.2,1740.1 L1148.8,1741.2 L1149.2,1756.2 L1148.5,1755.1 L1147.9,1753.9 L1147.4,1752.8 L1146.8,1751.6ZM1152.6,1747.1 L1153.8,1748.8 L1155.1,1750.5 L1156.4,1752.2 L1157.8,1753.9 L1158.1,1768.9 L1156.7,1767.2 L1155.4,1765.5 L1154.1,1763.8 L1152.9,1762.1ZM1161.8,1758.2 L1163.7,1760.1 L1165.7,1762.0 L1167.8,1763.9 L1169.9,1765.7 L1170.2,1780.7 L1168.0,1778.9 L1166.0,1777.0 L1164.0,1775.1 L1162.1,1773.2ZM1174.1,1769.0 L1176.6,1770.9 L1179.3,1772.8 L1182.0,1774.6 L1184.8,1776.4 L1185.1,1791.4 L1182.2,1789.6 L1179.5,1787.8 L1176.9,1785.9 L1174.3,1784.0ZM1189.1,1779.0 L1192.3,1780.8 L1195.5,1782.5 L1198.9,1784.2 L1202.3,1785.9 L1202.5,1800.9 L1199.1,1799.2 L1195.8,1797.5 L1192.5,1795.8 L1189.3,1794.0ZM1206.6,1787.8 L1210.3,1789.4 L1214.2,1791.0 L1218.0,1792.4 L1222.0,1793.9 L1222.2,1808.9 L1218.2,1807.4 L1214.3,1806.0 L1210.5,1804.4 L1206.8,1802.8ZM1226.2,1795.3 L1230.5,1796.7 L1234.8,1797.9 L1239.1,1799.2 L1243.6,1800.3 L1243.7,1815.3 L1239.3,1814.2 L1234.9,1812.9 L1230.6,1811.7 L1226.4,1810.3ZM1247.6,1801.3 L1252.3,1802.3 L1257.0,1803.3 L1261.7,1804.2 L1266.5,1805.0 L1266.6,1820.0 L1261.8,1819.2 L1257.1,1818.3 L1252.4,1817.3 L1247.8,1816.3ZM1270.4,1805.6 L1275.4,1806.3 L1280.4,1806.9 L1285.4,1807.5 L1290.5,1807.9 L1290.5,1822.9 L1285.4,1822.5 L1280.4,1821.9 L1275.4,1821.3 L1270.5,1820.6ZM1294.0,1808.2 L1299.2,1808.5 L1304.4,1808.8 L1309.7,1808.9 L1314.9,1809.0 L1314.9,1824.0 L1309.7,1823.9 L1304.5,1823.8 L1299.3,1823.5 L1294.1,1823.2ZM1318.1,1809.0 L1323.3,1808.9 L1328.6,1808.8 L1333.8,1808.5 L1339.0,1808.2 L1338.9,1823.2 L1333.7,1823.5 L1328.5,1823.8 L1323.3,1823.9 L1318.1,1824.0ZM1342.5,1807.9 L1347.6,1807.5 L1352.6,1806.9 L1357.6,1806.3 L1362.6,1805.6 L1362.5,1820.6 L1357.6,1821.3 L1352.6,1821.9 L1347.6,1822.5 L1342.5,1822.9ZM1366.5,1805.0 L1371.3,1804.2 L1376.0,1803.3 L1380.7,1802.3 L1385.4,1801.3 L1385.2,1816.3 L1380.6,1817.3 L1375.9,1818.3 L1371.2,1819.2 L1366.4,1820.0ZM1389.4,1800.3 L1393.9,1799.2 L1398.2,1797.9 L1402.5,1796.7 L1406.8,1795.3 L1406.6,1810.3 L1402.4,1811.7 L1398.1,1812.9 L1393.7,1814.2 L1389.3,1815.3ZM1411.0,1793.9 L1415.0,1792.4 L1418.8,1791.0 L1422.7,1789.4 L1426.4,1787.8 L1426.2,1802.8 L1422.5,1804.4 L1418.7,1806.0 L1414.8,1807.4 L1410.8,1808.9ZM1430.7,1785.9 L1434.1,1784.2 L1437.5,1782.5 L1440.7,1780.8 L1443.9,1779.0 L1443.7,1794.0 L1440.5,1795.8 L1437.2,1797.5 L1433.9,1799.2 L1430.5,1800.9ZM1448.2,1776.4 L1451.0,1774.6 L1453.7,1772.8 L1456.4,1770.9 L1458.9,1769.0 L1458.7,1784.0 L1456.1,1785.9 L1453.5,1787.8 L1450.8,1789.6 L1447.9,1791.4ZM1463.1,1765.7 L1465.2,1763.9 L1467.3,1762.0 L1469.3,1760.1 L1471.2,1758.2 L1470.9,1773.2 L1469.0,1775.1 L1467.0,1777.0 L1465.0,1778.9 L1462.8,1780.7ZM1475.2,1753.9 L1476.6,1752.2 L1477.9,1750.5 L1479.2,1748.8 L1480.4,1747.1 L1480.1,1762.1 L1478.9,1763.8 L1477.6,1765.5 L1476.3,1767.2 L1474.9,1768.9ZM1484.2,1741.2 L1484.8,1740.1 L1485.4,1738.9 L1485.9,1737.8 L1486.5,1736.6 L1486.2,1751.6 L1485.6,1752.8 L1485.1,1753.9 L1484.5,1755.1 L1483.8,1756.2Z" fill="#fff" stroke="none"/>
<ellipse cx="1316.5" cy="1473.0" rx="180.5" ry="96.0" fill="#fff" stroke="#000" stroke-width="3" />
<ellipse cx="1316.5" cy="1472.0" rx="175.5" ry="92.0" fill="none" stroke="#000" stroke-width="1.4" />
<path d="M1146.9,1463.2a1.5,1.5 0 1,0 3,0a1.5,1.5 0 1,0 -3,0M1146.9,1486.8a1.5,1.5 0 1,0 3,0a1.5,1.5 0 1,0 -3,0M1152.6,1451.5a1.5,1.5 0 1,0 3,0a1.5,1.5 0 1,0 -3,0M1152.6,1475.0a1.5,1.5 0 1,0 3,0a1.5,1.5 0 1,0 -3,0M1152.6,1498.5a1.5,1.5 0 1,0 3,0a1.5,1.5 0 1,0 -3,0M1160.8,1439.8a1.5,1.5 0 1,0 3,0a1.5,1.5 0 1,0 -3,0M1160.8,1463.2a1.5,1.5 0 1,0 3,0a1.5,1.5 0 1,0 -3,0M1160.8,1486.8a1.5,1.5 0 1,0 3,0a1.5,1.5 0 1,0 -3,0M1160.8,1510.2a1.5,1.5 0 1,0 3,0a1.5,1.5 0 1,0 -3,0M1171.4,1428.0a1.5,1.5 0 1,0 3,0a1.5,1.5 0 1,0 -3,0M1171.4,1451.5a1.5,1.5 0 1,0 3,0a1.5,1.5 0 1,0 -3,0M1171.4,1475.0a1.5,1.5 0 1,0 3,0a1.5,1.5 0 1,0 -3,0M1171.4,1498.5a1.5,1.5 0 1,0 3,0a1.5,1.5 0 1,0 -3,0M1171.4,1522.0a1.5,1.5 0 1,0 3,0a1.5,1.5 0 1,0 -3,0M1184.1,1416.2a1.5,1.5 0 1,0 3,0a1.5,1.5 0 1,0 -3,0M1184.1,1439.8a1.5,1.5 0 1,0 3,0a1.5,1.5 0 1,0 -3,0M1184.1,1463.2a1.5,1.5 0 1,0 3,0a1.5,1.5 0 1,0 -3,0M1184.1,1486.8a1.5,1.5 0 1,0 3,0a1.5,1.5 0 1,0 -3,0M1184.1,1510.2a1.5,1.5 0 1,0 3,0a1.5,1.5 0 1,0 -3,0M1198.9,1428.0a1.5,1.5 0 1,0 3,0a1.5,1.5 0 1,0 -3,0M1198.9,1451.5a1.5,1.5 0 1,0 3,0a1.5,1.5 0 1,0 -3,0M1198.9,1475.0a1.5,1.5 0 1,0 3,0a1.5,1.5 0 1,0 -3,0M1198.9,1498.5a1.5,1.5 0 1,0 3,0a1.5,1.5 0 1,0 -3,0M1198.9,1522.0a1.5,1.5 0 1,0 3,0a1.5,1.5 0 1,0 -3,0M1215.4,1416.2a1.5,1.5 0 1,0 3,0a1.5,1.5 0 1,0 -3,0M1215.4,1439.8a1.5,1.5 0 1,0 3,0a1.5,1.5 0 1,0 -3,0M1215.4,1463.2a1.5,1.5 0 1,0 3,0a1.5,1.5 0 1,0 -3,0M1215.4,1486.8a1.5,1.5 0 1,0 3,0a1.5,1.5 0 1,0 -3,0M1215.4,1510.2a1.5,1.5 0 1,0 3,0a1.5,1.5 0 1,0 -3,0M1215.4,1533.8a1.5,1.5 0 1,0 3,0a1.5,1.5 0 1,0 -3,0M1233.4,1404.5a1.5,1.5 0 1,0 3,0a1.5,1.5 0 1,0 -3,0M1233.4,1428.0a1.5,1.5 0 1,0 3,0a1.5,1.5 0 1,0 -3,0M1233.4,1451.5a1.5,1.5 0 1,0 3,0a1.5,1.5 0 1,0 -3,0M1233.4,1475.0a1.5,1.5 0 1,0 3,0a1.5,1.5 0 1,0 -3,0M1233.4,1498.5a1.5,1.5 0 1,0 3,0a1.5,1.5 0 1,0 -3,0M1233.4,1522.0a1.5,1.5 0 1,0 3,0a1.5,1.5 0 1,0 -3,0M1233.4,1545.5a1.5,1.5 0 1,0 3,0a1.5,1.5 0 1,0 -3,0M1252.7,1392.8a1.5,1.5 0 1,0 3,0a1.5,1.5 0 1,0 -3,0M1252.7,1416.2a1.5,1.5 0 1,0 3,0a1.5,1.5 0 1,0 -3,0M1252.7,1439.8a1.5,1.5 0 1,0 3,0a1.5,1.5 0 1,0 -3,0M1252.7,1463.2a1.5,1.5 0 1,0 3,0a1.5,1.5 0 1,0 -3,0M1252.7,1486.8a1.5,1.5 0 1,0 3,0a1.5,1.5 0 1,0 -3,0M1252.7,1510.2a1.5,1.5 0 1,0 3,0a1.5,1.5 0 1,0 -3,0M1252.7,1533.8a1.5,1.5 0 1,0 3,0a1.5,1.5 0 1,0 -3,0M1272.9,1404.5a1.5,1.5 0 1,0 3,0a1.5,1.5 0 1,0 -3,0M1272.9,1428.0a1.5,1.5 0 1,0 3,0a1.5,1.5 0 1,0 -3,0M1272.9,1451.5a1.5,1.5 0 1,0 3,0a1.5,1.5 0 1,0 -3,0M1272.9,1475.0a1.5,1.5 0 1,0 3,0a1.5,1.5 0 1,0 -3,0M1272.9,1498.5a1.5,1.5 0 1,0 3,0a1.5,1.5 0 1,0 -3,0M1272.9,1522.0a1.5,1.5 0 1,0 3,0a1.5,1.5 0 1,0 -3,0M1272.9,1545.5a1.5,1.5 0 1,0 3,0a1.5,1.5 0 1,0 -3,0M1293.8,1392.8a1.5,1.5 0 1,0 3,0a1.5,1.5 0 1,0 -3,0M1293.8,1416.2a1.5,1.5 0 1,0 3,0a1.5,1.5 0 1,0 -3,0M1293.8,1439.8a1.5,1.5 0 1,0 3,0a1.5,1.5 0 1,0 -3,0M1293.8,1463.2a1.5,1.5 0 1,0 3,0a1.5,1.5 0 1,0 -3,0M1293.8,1486.8a1.5,1.5 0 1,0 3,0a1.5,1.5 0 1,0 -3,0M1293.8,1510.2a1.5,1.5 0 1,0 3,0a1.5,1.5 0 1,0 -3,0M1293.8,1533.8a1.5,1.5 0 1,0 3,0a1.5,1.5 0 1,0 -3,0M1293.8,1557.2a1.5,1.5 0 1,0 3,0a1.5,1.5 0 1,0 -3,0M1315.0,1404.5a1.5,1.5 0 1,0 3,0a1.5,1.5 0 1,0 -3,0M1315.0,1428.0a1.5,1.5 0 1,0 3,0a1.5,1.5 0 1,0 -3,0M1315.0,1451.5a1.5,1.5 0 1,0 3,0a1.5,1.5 0 1,0 -3,0M1315.0,1475.0a1.5,1.5 0 1,0 3,0a1.5,1.5 0 1,0 -3,0M1315.0,1498.5a1.5,1.5 0 1,0 3,0a1.5,1.5 0 1,0 -3,0M1315.0,1522.0a1.5,1.5 0 1,0 3,0a1.5,1.5 0 1,0 -3,0M1315.0,1545.5a1.5,1.5 0 1,0 3,0a1.5,1.5 0 1,0 -3,0M1336.2,1392.8a1.5,1.5 0 1,0 3,0a1.5,1.5 0 1,0 -3,0M1336.2,1416.2a1.5,1.5 0 1,0 3,0a1.5,1.5 0 1,0 -3,0M1336.2,1439.8a1.5,1.5 0 1,0 3,0a1.5,1.5 0 1,0 -3,0M1336.2,1463.2a1.5,1.5 0 1,0 3,0a1.5,1.5 0 1,0 -3,0M1336.2,1486.8a1.5,1.5 0 1,0 3,0a1.5,1.5 0 1,0 -3,0M1336.2,1510.2a1.5,1.5 0 1,0 3,0a1.5,1.5 0 1,0 -3,0M1336.2,1533.8a1.5,1.5 0 1,0 3,0a1.5,1.5 0 1,0 -3,0M1336.2,1557.2a1.5,1.5 0 1,0 3,0a1.5,1.5 0 1,0 -3,0M1357.1,1404.5a1.5,1.5 0 1,0 3,0a1.5,1.5 0 1,0 -3,0M1357.1,1428.0a1.5,1.5 0 1,0 3,0a1.5,1.5 0 1,0 -3,0M1357.1,1451.5a1.5,1.5 0 1,0 3,0a1.5,1.5 0 1,0 -3,0M1357.1,1475.0a1.5,1.5 0 1,0 3,0a1.5,1.5 0 1,0 -3,0M1357.1,1498.5a1.5,1.5 0 1,0 3,0a1.5,1.5 0 1,0 -3,0M1357.1,1522.0a1.5,1.5 0 1,0 3,0a1.5,1.5 0 1,0 -3,0M1357.1,1545.5a1.5,1.5 0 1,0 3,0a1.5,1.5 0 1,0 -3,0M1377.3,1392.8a1.5,1.5 0 1,0 3,0a1.5,1.5 0 1,0 -3,0M1377.3,1416.2a1.5,1.5 0 1,0 3,0a1.5,1.5 0 1,0 -3,0M1377.3,1439.8a1.5,1.5 0 1,0 3,0a1.5,1.5 0 1,0 -3,0M1377.3,1463.2a1.5,1.5 0 1,0 3,0a1.5,1.5 0 1,0 -3,0M1377.3,1486.8a1.5,1.5 0 1,0 3,0a1.5,1.5 0 1,0 -3,0M1377.3,1510.2a1.5,1.5 0 1,0 3,0a1.5,1.5 0 1,0 -3,0M1377.3,1533.8a1.5,1.5 0 1,0 3,0a1.5,1.5 0 1,0 -3,0M1396.6,1404.5a1.5,1.5 0 1,0 3,0a1.5,1.5 0 1,0 -3,0M1396.6,1428.0a1.5,1.5 0 1,0 3,0a1.5,1.5 0 1,0 -3,0M1396.6,1451.5a1.5,1.5 0 1,0 3,0a1.5,1.5 0 1,0 -3,0M1396.6,1475.0a1.5,1.5 0 1,0 3,0a1.5,1.5 0 1,0 -3,0M1396.6,1498.5a1.5,1.5 0 1,0 3,0a1.5,1.5 0 1,0 -3,0M1396.6,1522.0a1.5,1.5 0 1,0 3,0a1.5,1.5 0 1,0 -3,0M1396.6,1545.5a1.5,1.5 0 1,0 3,0a1.5,1.5 0 1,0 -3,0M1414.6,1416.2a1.5,1.5 0 1,0 3,0a1.5,1.5 0 1,0 -3,0M1414.6,1439.8a1.5,1.5 0 1,0 3,0a1.5,1.5 0 1,0 -3,0M1414.6,1463.2a1.5,1.5 0 1,0 3,0a1.5,1.5 0 1,0 -3,0M1414.6,1486.8a1.5,1.5 0 1,0 3,0a1.5,1.5 0 1,0 -3,0M1414.6,1510.2a1.5,1.5 0 1,0 3,0a1.5,1.5 0 1,0 -3,0M1414.6,1533.8a1.5,1.5 0 1,0 3,0a1.5,1.5 0 1,0 -3,0M1431.1,1428.0a1.5,1.5 0 1,0 3,0a1.5,1.5 0 1,0 -3,0M1431.1,1451.5a1.5,1.5 0 1,0 3,0a1.5,1.5 0 1,0 -3,0M1431.1,1475.0a1.5,1.5 0 1,0 3,0a1.5,1.5 0 1,0 -3,0M1431.1,1498.5a1.5,1.5 0 1,0 3,0a1.5,1.5 0 1,0 -3,0M1431.1,1522.0a1.5,1.5 0 1,0 3,0a1.5,1.5 0 1,0 -3,0M1445.9,1416.2a1.5,1.5 0 1,0 3,0a1.5,1.5 0 1,0 -3,0M1445.9,1439.8a1.5,1.5 0 1,0 3,0a1.5,1.5 0 1,0 -3,0M1445.9,1463.2a1.5,1.5 0 1,0 3,0a1.5,1.5 0 1,0 -3,0M1445.9,1486.8a1.5,1.5 0 1,0 3,0a1.5,1.5 0 1,0 -3,0M1445.9,1510.2a1.5,1.5 0 1,0 3,0a1.5,1.5 0 1,0 -3,0M1458.6,1428.0a1.5,1.5 0 1,0 3,0a1.5,1.5 0 1,0 -3,0M1458.6,1451.5a1.5,1.5 0 1,0 3,0a1.5,1.5 0 1,0 -3,0M1458.6,1475.0a1.5,1.5 0 1,0 3,0a1.5,1.5 0 1,0 -3,0M1458.6,1498.5a1.5,1.5 0 1,0 3,0a1.5,1.5 0 1,0 -3,0M1458.6,1522.0a1.5,1.5 0 1,0 3,0a1.5,1.5 0 1,0 -3,0M1469.2,1439.8a1.5,1.5 0 1,0 3,0a1.5,1.5 0 1,0 -3,0M1469.2,1463.2a1.5,1.5 0 1,0 3,0a1.5,1.5 0 1,0 -3,0M1469.2,1486.8a1.5,1.5 0 1,0 3,0a1.5,1.5 0 1,0 -3,0M1469.2,1510.2a1.5,1.5 0 1,0 3,0a1.5,1.5 0 1,0 -3,0M1477.4,1451.5a1.5,1.5 0 1,0 3,0a1.5,1.5 0 1,0 -3,0M1477.4,1475.0a1.5,1.5 0 1,0 3,0a1.5,1.5 0 1,0 -3,0M1477.4,1498.5a1.5,1.5 0 1,0 3,0a1.5,1.5 0 1,0 -3,0M1483.1,1463.2a1.5,1.5 0 1,0 3,0a1.5,1.5 0 1,0 -3,0M1483.1,1486.8a1.5,1.5 0 1,0 3,0a1.5,1.5 0 1,0 -3,0" fill="#000"/>
<path d="M1279.9,938 L1279.9,962 L1278.4,964 L1278.4,978 A26,14.5 0 0 0 1330.4,978 L1330.4,964 L1328.9,962 L1328.9,938 Z" fill="#fff" stroke="#000" stroke-width="2"/>
<ellipse cx="1304.4" cy="937.8" rx="24.1" ry="14.6" fill="#fff" stroke="#000" stroke-width="2.2" />
<ellipse cx="1304.4" cy="936.5" rx="18.5" ry="10.0" fill="none" stroke="#000" stroke-width="2.4" />
<ellipse cx="1304.4" cy="937.0" rx="14.5" ry="8.0" fill="none" stroke="#000" stroke-width="1.6" />
<path d="M1279.9,952.0 A24.5,14.5 0 0 0 1328.9,952.0" fill="none" stroke="#000" stroke-width="2"/>
<path d="M1278.4,964.0 A26.0,14.5 0 0 0 1330.4,964.0" fill="none" stroke="#000" stroke-width="1.8"/>
<path d="M1278.4,970 L1278.4,980 L1283.4,985 L1283.4,972 Z" fill="#000" stroke="#000" stroke-width="1" stroke-linejoin="round"/>
<path d="M1330.4,970 L1330.4,980 L1325.4,985 L1325.4,972 Z" fill="#000" stroke="#000" stroke-width="1" stroke-linejoin="round"/>
<line x1="1303.9" y1="979.0" x2="1303.9" y2="991.0" stroke="#000" stroke-width="2.6"/>
<path d="M1283.2,1054 L1283.2,1060 A23.8,12.8 0 0 0 1330.8,1060 L1330.8,1054 Z" fill="#fff" stroke="#000" stroke-width="2.4"/>
<ellipse cx="1307.0" cy="1054.0" rx="23.8" ry="12.8" fill="#fff" stroke="#000" stroke-width="2" />
<ellipse cx="1307.0" cy="1056.0" rx="14.0" ry="6.5" fill="none" stroke="#000" stroke-width="1.6" />
<path d="M1288.5,1017 L1296.5,1048 Q1307,1054 1317.5,1048 L1325.5,1017 Z" fill="#fff" stroke="#000" stroke-width="1.8" stroke-linejoin="round"/>
<ellipse cx="1307.0" cy="1016.3" rx="18.5" ry="8.0" fill="#fff" stroke="#000" stroke-width="2.2" />
<ellipse cx="1307.0" cy="1020.0" rx="16.0" ry="6.0" fill="none" stroke="#000" stroke-width="1.8" />
<ellipse cx="1307.0" cy="1022.0" rx="8.0" ry="2.5" fill="none" stroke="#000" stroke-width="1.4" />
<path d="M1299,1050 L1303,1060 M1315,1050 L1311,1060 M1304,1056 L1310,1056" fill="none" stroke="#000" stroke-width="1.4" stroke-linejoin="round"/>
<rect x="1293.5" y="1131" width="10" height="14" fill="#fff" stroke="#000" stroke-width="1.8"/>
<path d="M1276.6,1113 L1276.6,1119 A27.4,17.9 0 0 0 1331.4,1119 L1331.4,1113 Z" fill="#fff" stroke="#000" stroke-width="2"/>
<ellipse cx="1304.0" cy="1113.0" rx="27.4" ry="17.9" fill="#fff" stroke="#000" stroke-width="2.4" />
<ellipse cx="1304.0" cy="1114.0" rx="22.0" ry="13.0" fill="none" stroke="#000" stroke-width="1.6" />
<ellipse cx="1304.0" cy="1113.0" rx="18.5" ry="11.5" fill="none" stroke="#000" stroke-width="3.2" />
<ellipse cx="1304.0" cy="1112.0" rx="12.0" ry="7.0" fill="none" stroke="#000" stroke-width="2.6" />
<ellipse cx="1304.0" cy="1111.0" rx="7.0" ry="3.8" fill="none" stroke="#000" stroke-width="2.2" />
<line x1="1304.0" y1="1106.0" x2="1304.0" y2="1113.0" stroke="#000" stroke-width="1.8"/>
<path d="M1219.4,1347 A87,56 0 0 0 1393.4,1347 L1393.4,1345 A87,56 0 0 0 1219.4,1345 Z" fill="#fff" stroke="none"/>
<ellipse cx="1306.4" cy="1347.0" rx="87.0" ry="56.0" fill="#fff" stroke="#000" stroke-width="2.4" />
<ellipse cx="1306.4" cy="1348.0" rx="84.0" ry="53.0" fill="none" stroke="#000" stroke-width="1.4" />
<path d="M1220.4,1350.0 A86.0,55.0 0 0 0 1392.4,1350.0" fill="none" stroke="#000" stroke-width="1.5"/>
<ellipse cx="1306.4" cy="1347.0" rx="62.0" ry="31.0" fill="none" stroke="#000" stroke-width="1.5" />
<ellipse cx="1261.6" cy="1347.5" rx="1.6" ry="1.6" fill="#000" stroke="#000" stroke-width="1" />
<ellipse cx="1338.8" cy="1359.5" rx="1.6" ry="1.6" fill="#000" stroke="#000" stroke-width="1" />
<ellipse cx="1327.5" cy="1374.6" rx="1.6" ry="1.6" fill="#000" stroke="#000" stroke-width="1" />
<path d="M1245,1317 L1245,1287 L1249,1284 L1266,1297 L1276,1297 L1283,1290 L1283,1320 L1266,1318 Z" fill="#fff" stroke="#000" stroke-width="2" stroke-linejoin="round"/>
<line x1="1266.0" y1="1297.0" x2="1266.0" y2="1318.0" stroke="#000" stroke-width="1.6"/>
<path d="M1331,1273 L1337,1293 L1353,1309 L1382,1304 L1389,1310 L1390,1335 L1353,1331 L1333,1320 Z" fill="#fff" stroke="#000" stroke-width="2.2" stroke-linejoin="round"/>
<line x1="1353.0" y1="1309.0" x2="1353.0" y2="1331.0" stroke="#000" stroke-width="1.6"/>
<path d="M1282,1273 L1282,1325 A24,14 0 0 0 1330,1325 L1330,1273 Z" fill="#fff" stroke="#000" stroke-width="2"/>
<path d="M1282.0,1322.0 A24.0,13.0 0 0 0 1330.0,1322.0" fill="none" stroke="#000" stroke-width="1.5"/>
<path d="M1282.0,1271.0 A24.0,12.0 0 0 0 1330.0,1271.0" fill="none" stroke="#000" stroke-width="3"/>
<path d="M1300,1287 L1303,1287 L1297,1340 L1285,1398 L1284,1398 L1284,1360 L1292,1340 Z" fill="#fff" stroke="#000" stroke-width="1.8" stroke-linejoin="round"/>
<path d="M1281,1255 L1281,1271 A25,12 0 0 0 1331,1271 L1331,1255 Z" fill="#fff" stroke="#000" stroke-width="2"/>
<path d="M1281.0,1270.0 A25.0,12.0 0 0 0 1331.0,1270.0" fill="none" stroke="#000" stroke-width="3.2"/>
<path d="M1281,1206 C1266,1212 1259,1226 1262,1240 C1266,1256 1287,1268 1312,1268 C1338,1268 1352,1262 1350,1254 C1348,1248 1340,1246 1332,1246 L1332,1252 C1318,1258 1296,1258 1285,1250 L1281,1243 Z" fill="#fff" stroke="#000" stroke-width="2.2" stroke-linejoin="round"/>
<path d="M1281,1213 L1281,1244 C1290,1256 1318,1258 1332,1250 L1332,1213 Z" fill="#fff" stroke="#000" stroke-width="2"/>
<path d="M1281.0,1222.0 A25.0,10.0 0 0 0 1331.0,1222.0" fill="none" stroke="#000" stroke-width="1.6"/>
<path d="M1282.0,1227.0 A24.0,10.0 0 0 0 1330.0,1227.0" fill="none" stroke="#000" stroke-width="1.4"/>
<path d="M1281,1172 C1268,1176 1264,1186 1266,1196 C1270,1210 1290,1219 1312,1219 C1336,1219 1352,1213 1351,1205 C1350,1198 1343,1194 1333,1192 L1333,1201 C1322,1206 1300,1207 1289,1200 L1281,1190 Z" fill="#fff" stroke="#000" stroke-width="2.2" stroke-linejoin="round"/>
<path d="M1280.5,1169 L1281,1190 C1288,1203 1318,1207 1333,1201 L1333,1169 Z" fill="#fff" stroke="#000" stroke-width="2"/>
<ellipse cx="1306.4" cy="1169.0" rx="26.8" ry="15.8" fill="#fff" stroke="#000" stroke-width="2.6" />
<ellipse cx="1306.4" cy="1170.0" rx="24.0" ry="13.0" fill="none" stroke="#000" stroke-width="1.6" />
<line x1="1299.0" y1="1157.0" x2="1299.0" y2="1170.0" stroke="#000" stroke-width="2.4"/>
<path d="M1304,1162 L1309,1163 L1304,1165 Z" fill="#000" stroke="#000" stroke-width="1.4" stroke-linejoin="round"/>
<line x1="1326.0" y1="1166.0" x2="1326.0" y2="1175.0" stroke="#000" stroke-width="1.8"/>
<path d="M1504,1292 L1507,1289 L1511,1289 L1514,1292 L1512,1297 L1511,1302 L1507,1302 L1506,1297 Z" fill="#000" stroke="#000" stroke-width="1.5" stroke-linejoin="round"/>
<path d="M1485,1335 L1483,1362 L1484,1372 L1493,1378 L1508,1380 L1523,1378 L1532,1372 L1533,1362 L1531,1335 Z" fill="#fff" stroke="#000" stroke-width="2.4"/>
<path d="M1483,1333 L1487.5,1337 L1487.5,1380 L1484,1376 Z" fill="#000"/>
<path d="M1490,1350 L1494.7,1354 L1494.7,1380 L1491,1376 Z" fill="#000"/>
<path d="M1520.5,1350 L1525.4,1354 L1525.4,1380 L1521.5,1376 Z" fill="#000"/>
<path d="M1528.4,1333 L1533,1337 L1533,1380 L1529.4,1376 Z" fill="#000"/>
<rect x="1503" y="1341" width="10" height="39" fill="#000"/>
<path d="M1505.5,1343 L1505.5,1377 M1510.5,1348 L1510.5,1377" stroke="#fff" stroke-width="1"/>
<ellipse cx="1508.0" cy="1333.0" rx="22.5" ry="11.5" fill="#fff" stroke="#000" stroke-width="2.2" />
<ellipse cx="1508.0" cy="1331.5" rx="9.0" ry="6.5" fill="#000" stroke="#000" stroke-width="1" />
<path d="M1486,1337 L1492,1349 L1500,1343 M1530,1337 L1524,1349 L1516,1343" fill="none" stroke="#000" stroke-width="2.2" stroke-linejoin="round"/>
<g transform="rotate(-28 1110 1695)"><ellipse cx="1104" cy="1695" rx="4.5" ry="5.5" fill="#000"/><rect x="1104" y="1692.5" width="16" height="5" fill="#000"/><path d="M1108,1692 L1110,1698 M1112,1692 L1114,1698 M1116,1692 L1118,1698" stroke="#fff" stroke-width="0.9"/></g>
<ellipse cx="1440.0" cy="1862.0" rx="6.0" ry="3.0" fill="#000" stroke="#000" stroke-width="2" />
<rect x="1437" y="1864" width="6" height="22" fill="#000"/>
<line x1="1437.0" y1="1867.0" x2="1443.0" y2="1869.0" stroke="#000" stroke-width="1"/>
<line x1="1437.0" y1="1871.0" x2="1443.0" y2="1873.0" stroke="#000" stroke-width="1"/>
<line x1="1437.0" y1="1875.0" x2="1443.0" y2="1877.0" stroke="#000" stroke-width="1"/>
<line x1="1437.0" y1="1879.0" x2="1443.0" y2="1881.0" stroke="#000" stroke-width="1"/>
<line x1="1437.0" y1="1883.0" x2="1443.0" y2="1885.0" stroke="#000" stroke-width="1"/>
<path d="M1200.5,1920 A110,64 0 0 0 1420.5,1920 L1420.5,1923 A110,64 0 0 1 1200.5,1923Z" fill="#fff"/>
<path d="M1200.5,1923.0 A110.0,64.0 0 0 0 1420.5,1923.0" fill="none" stroke="#000" stroke-width="2"/>
<ellipse cx="1310.5" cy="1920.0" rx="110.0" ry="64.0" fill="#fff" stroke="#000" stroke-width="2.2" />
<ellipse cx="1310.5" cy="1920.0" rx="107.0" ry="61.0" fill="none" stroke="#000" stroke-width="1.2" />
<ellipse cx="1310.5" cy="1921.0" rx="94.0" ry="50.0" fill="none" stroke="#000" stroke-width="2.4" />
<ellipse cx="1310.5" cy="1921.0" rx="91.0" ry="47.0" fill="none" stroke="#000" stroke-width="1.2" />
<ellipse cx="1310.5" cy="1906.0" rx="52.0" ry="29.0" fill="none" stroke="#000" stroke-width="2" />
<ellipse cx="1310.5" cy="1906.0" rx="50.0" ry="27.0" fill="none" stroke="#000" stroke-width="1.2" />
<ellipse cx="1310.5" cy="1891.0" rx="22.0" ry="12.5" fill="#fff" stroke="#000" stroke-width="2" />
<path d="M1293.5,1871 L1293.5,1888 A17,9 0 0 0 1327.5,1888 L1327.5,1871 Z" fill="#fff" stroke="#000" stroke-width="2"/>
<ellipse cx="1310.5" cy="1871.0" rx="17.0" ry="7.5" fill="#fff" stroke="#000" stroke-width="2" />
<ellipse cx="1310.5" cy="1871.0" rx="11.0" ry="5.0" fill="none" stroke="#000" stroke-width="1.6" />
<line x1="1302.5" y1="1867.0" x2="1302.5" y2="1875.0" stroke="#000" stroke-width="1"/>
<line x1="1305.5" y1="1867.0" x2="1305.5" y2="1875.0" stroke="#000" stroke-width="1"/>
<line x1="1308.5" y1="1867.0" x2="1308.5" y2="1875.0" stroke="#000" stroke-width="1"/>
<line x1="1311.5" y1="1867.0" x2="1311.5" y2="1875.0" stroke="#000" stroke-width="1"/>
<line x1="1314.5" y1="1867.0" x2="1314.5" y2="1875.0" stroke="#000" stroke-width="1"/>
<line x1="1317.5" y1="1867.0" x2="1317.5" y2="1875.0" stroke="#000" stroke-width="1"/>
<ellipse cx="1410.5" cy="1927.9" rx="3.5" ry="2.2" fill="none" stroke="#000" stroke-width="1.6" />
<ellipse cx="1396.2" cy="1950.2" rx="3.5" ry="2.2" fill="none" stroke="#000" stroke-width="1.6" />
<ellipse cx="1367.0" cy="1967.3" rx="3.5" ry="2.2" fill="none" stroke="#000" stroke-width="1.6" />
<ellipse cx="1328.0" cy="1976.1" rx="3.5" ry="2.2" fill="none" stroke="#000" stroke-width="1.6" />
<ellipse cx="1286.1" cy="1975.3" rx="3.5" ry="2.2" fill="none" stroke="#000" stroke-width="1.6" />
<ellipse cx="1248.3" cy="1964.9" rx="3.5" ry="2.2" fill="none" stroke="#000" stroke-width="1.6" />
<ellipse cx="1221.3" cy="1946.8" rx="3.5" ry="2.2" fill="none" stroke="#000" stroke-width="1.6" />
<ellipse cx="1209.7" cy="1924.0" rx="3.5" ry="2.2" fill="none" stroke="#000" stroke-width="1.6" />
<ellipse cx="1215.6" cy="1900.5" rx="3.5" ry="2.2" fill="none" stroke="#000" stroke-width="1.6" />
<ellipse cx="1237.8" cy="1880.4" rx="3.5" ry="2.2" fill="none" stroke="#000" stroke-width="1.6" />
<ellipse cx="1272.7" cy="1867.2" rx="3.5" ry="2.2" fill="none" stroke="#000" stroke-width="1.6" />
<ellipse cx="1314.0" cy="1863.0" rx="3.5" ry="2.2" fill="none" stroke="#000" stroke-width="1.6" />
<ellipse cx="1354.8" cy="1868.8" rx="3.5" ry="2.2" fill="none" stroke="#000" stroke-width="1.6" />
<ellipse cx="1387.9" cy="1883.4" rx="3.5" ry="2.2" fill="none" stroke="#000" stroke-width="1.6" />
<ellipse cx="1407.6" cy="1904.3" rx="3.5" ry="2.2" fill="none" stroke="#000" stroke-width="1.6" />
<path d="M1218,1886 L1220,1878 L1225,1880 L1227,1887 Z" fill="#000" stroke="#000" stroke-width="1.6" stroke-linejoin="round"/>
<path d="M1364,1888 L1366,1880 L1371,1882 L1373,1889 Z" fill="#000" stroke="#000" stroke-width="1.6" stroke-linejoin="round"/>
<path d="M1396,1953 L1398,1945 L1403,1947 L1405,1954 Z" fill="#000" stroke="#000" stroke-width="1.6" stroke-linejoin="round"/>
<path d="M1249,1967 L1251,1959 L1256,1961 L1258,1968 Z" fill="#000" stroke="#000" stroke-width="1.6" stroke-linejoin="round"/>
<path d="M1254.2,2077 L1254.2,2085 A57.8,31 0 0 0 1369.8,2085 L1369.8,2077 Z" fill="#fff" stroke="#000" stroke-width="2.4"/>
<path d="M1255.0,2082.0 A57.0,31.0 0 0 0 1369.0,2082.0" fill="none" stroke="#000" stroke-width="1.4"/>
<ellipse cx="1312.0" cy="2077.0" rx="57.8" ry="29.0" fill="#fff" stroke="#000" stroke-width="2" />
<ellipse cx="1312.0" cy="2076.0" rx="55.0" ry="26.0" fill="none" stroke="#000" stroke-width="1.2" />
<ellipse cx="1312.0" cy="2069.0" rx="40.0" ry="22.3" fill="none" stroke="#000" stroke-width="2.8" />
<ellipse cx="1312.0" cy="2067.0" rx="30.6" ry="16.0" fill="none" stroke="#000" stroke-width="2" />
<path d="M1290,2040 L1290,2067 A22,12 0 0 0 1334,2067 L1334,2040 Z" fill="#fff" stroke="#000" stroke-width="1.8"/>
<path d="M1292,2047 L1292,2020 L1297,2016 L1302,2017 L1302,2012 L1308,2011 L1318,2011 L1323,2012 L1323,2017 L1328,2016 L1332,2020 L1332,2047 Q1312,2052 1292,2047 Z" fill="#fff" stroke="#000" stroke-width="2.2" stroke-linejoin="round"/>
<path d="M1307,2050 L1307,2032 Q1312,2026 1318,2032 L1318,2050 Z" fill="none" stroke="#000" stroke-width="2.4" stroke-linejoin="round"/>
<path d="M1307,2017 L1318,2017 L1318,2027 L1307,2027 Z" fill="none" stroke="#000" stroke-width="1.6" stroke-linejoin="round"/>
<line x1="1298.0" y1="2020.0" x2="1298.0" y2="2045.0" stroke="#000" stroke-width="1.6"/>
<line x1="1326.0" y1="2020.0" x2="1326.0" y2="2045.0" stroke="#000" stroke-width="1.6"/>
<path d="M1288.4,2153 L1292,2148 L1334,2157 L1334.6,2166 L1317,2175 L1294.6,2169.4 Z" fill="#fff" stroke="#000" stroke-width="2.2" stroke-linejoin="round"/>
<path d="M1289,2156 L1295,2165 L1317,2170 L1334,2161" fill="none" stroke="#000" stroke-width="1.6" stroke-linejoin="round"/>
<line x1="1317.0" y1="2170.0" x2="1317.0" y2="2175.0" stroke="#000" stroke-width="1.6"/>
<line x1="1295.0" y1="2165.0" x2="1294.6" y2="2169.0" stroke="#000" stroke-width="1.4"/>
<path d="M1292.4,2150.7 L1292.4,2155 A18.8,10.7 0 0 0 1330,2155 L1330,2150.7 Z" fill="#fff" stroke="#000" stroke-width="2"/>
<ellipse cx="1311.2" cy="2150.7" rx="18.8" ry="10.7" fill="#fff" stroke="#000" stroke-width="2" />
<ellipse cx="1311.2" cy="2150.8" rx="14.8" ry="8.4" fill="#000" stroke="#000" stroke-width="1" />
<ellipse cx="1311.7" cy="2156.0" rx="8.5" ry="3.4" fill="#fff" stroke="#000" stroke-width="1.2" />
<ellipse cx="1315.5" cy="2213.2" rx="23.0" ry="14.2" fill="#fff" stroke="#000" stroke-width="2.4" />
<path d="M1300,2212 Q1306,2203 1314,2204 L1330,2209 L1330,2216 Q1322,2221 1314,2221 L1301,2215 Z" fill="none" stroke="#000" stroke-width="2.2" stroke-linejoin="round"/>
<path d="M1456.3,2233.0 L1459.9,2234.4 L1459.7,2235.7 L1455.8,2236.6 L1455.4,2237.8 L1458.3,2239.6 L1457.6,2240.9 L1453.5,2241.1 L1452.7,2242.1 L1454.7,2244.4 L1453.5,2245.4 L1449.6,2245.0 L1448.4,2245.8 L1449.4,2248.2 L1447.8,2249.0 L1444.4,2247.8 L1443.0,2248.4 L1442.8,2250.8 L1441.0,2251.2 L1438.3,2249.5 L1436.7,2249.7 L1435.4,2252.0 L1433.5,2252.0 L1431.9,2249.9 L1430.3,2249.7 L1427.9,2251.6 L1426.0,2251.2 L1425.5,2248.8 L1424.0,2248.4 L1420.8,2249.7 L1419.2,2249.0 L1419.8,2246.5 L1418.6,2245.8 L1414.8,2246.4 L1413.5,2245.4 L1415.3,2243.1 L1414.3,2242.1 L1410.2,2242.1 L1409.4,2240.9 L1412.1,2238.9 L1411.6,2237.8 L1407.6,2237.0 L1407.3,2235.7 L1410.8,2234.2 L1410.7,2233.0 L1407.1,2231.9 L1407.3,2230.9 L1411.2,2230.3 L1411.6,2229.4 L1408.7,2227.8 L1409.4,2226.8 L1413.5,2226.8 L1414.3,2226.0 L1412.3,2224.0 L1413.5,2223.2 L1417.4,2223.9 L1418.6,2223.3 L1417.6,2221.0 L1419.2,2220.4 L1422.6,2221.7 L1424.0,2221.3 L1424.2,2218.9 L1426.0,2218.6 L1428.7,2220.4 L1430.3,2220.2 L1431.6,2218.0 L1433.5,2218.0 L1435.1,2220.1 L1436.7,2220.2 L1439.1,2218.3 L1441.0,2218.6 L1441.5,2220.9 L1443.0,2221.3 L1446.2,2219.8 L1447.8,2220.4 L1447.2,2222.7 L1448.4,2223.3 L1452.2,2222.4 L1453.5,2223.2 L1451.7,2225.3 L1452.7,2226.0 L1456.8,2225.8 L1457.6,2226.8 L1454.9,2228.5 L1455.4,2229.4 L1459.4,2229.8 L1459.7,2230.9 L1456.2,2232.1Z" fill="#fff" stroke="#000" stroke-width="2.6" stroke-linejoin="round"/>
<path d="M1410.5,2235.0 A23.0,14.0 0 0 0 1456.5,2235.0" fill="none" stroke="#000" stroke-width="2.2"/>
<line x1="1456.1" y1="2240.8" x2="1456.1" y2="2246.8" stroke="#000" stroke-width="1.4"/>
<line x1="1452.5" y1="2244.5" x2="1452.5" y2="2250.5" stroke="#000" stroke-width="1.4"/>
<line x1="1447.3" y1="2247.4" x2="1447.3" y2="2253.4" stroke="#000" stroke-width="1.4"/>
<line x1="1441.1" y1="2249.3" x2="1441.1" y2="2255.3" stroke="#000" stroke-width="1.4"/>
<line x1="1434.2" y1="2250.0" x2="1434.2" y2="2256.0" stroke="#000" stroke-width="1.4"/>
<line x1="1427.3" y1="2249.5" x2="1427.3" y2="2255.5" stroke="#000" stroke-width="1.4"/>
<line x1="1420.8" y1="2247.8" x2="1420.8" y2="2253.8" stroke="#000" stroke-width="1.4"/>
<line x1="1415.4" y1="2245.1" x2="1415.4" y2="2251.1" stroke="#000" stroke-width="1.4"/>
<line x1="1411.5" y1="2241.6" x2="1411.5" y2="2247.6" stroke="#000" stroke-width="1.4"/>
<ellipse cx="1433.5" cy="2231.0" rx="18.0" ry="10.0" fill="none" stroke="#000" stroke-width="2.2" />
<ellipse cx="1433.5" cy="2232.0" rx="14.0" ry="7.5" fill="none" stroke="#000" stroke-width="1.4" />
<path d="M1424.5,2233 Q1433.5,2225 1443.5,2232 Q1433.5,2240 1424.5,2233 Z" fill="none" stroke="#000" stroke-width="1.8" stroke-linejoin="round"/>
<rect x="1009.5" y="2067" width="8" height="14" rx="1.5" fill="#fff" stroke="#000" stroke-width="1.7"/>
<path d="M1001.5,2058 L1001.5,2063 A12,6 0 0 0 1025.5,2063 L1025.5,2058 Z" fill="#fff" stroke="#000" stroke-width="2"/>
<ellipse cx="1013.5" cy="2058.0" rx="12.0" ry="6.0" fill="#000" stroke="#000" stroke-width="1.5" />
<ellipse cx="1013.5" cy="2058.5" rx="6.0" ry="2.5" fill="#333" stroke="#000" stroke-width="0.8" />
<rect x="812" y="2259" width="8" height="14" rx="1.5" fill="#fff" stroke="#000" stroke-width="1.7"/>
<path d="M804,2250 L804,2255 A12,6 0 0 0 828,2255 L828,2250 Z" fill="#fff" stroke="#000" stroke-width="2"/>
<ellipse cx="816.0" cy="2250.0" rx="12.0" ry="6.0" fill="#000" stroke="#000" stroke-width="1.5" />
<ellipse cx="816.0" cy="2250.5" rx="6.0" ry="2.5" fill="#333" stroke="#000" stroke-width="0.8" />
<rect x="1835" y="2257" width="8" height="14" rx="1.5" fill="#fff" stroke="#000" stroke-width="1.7"/>
<path d="M1827,2248 L1827,2253 A12,6 0 0 0 1851,2253 L1851,2248 Z" fill="#fff" stroke="#000" stroke-width="2"/>
<ellipse cx="1839.0" cy="2248.0" rx="12.0" ry="6.0" fill="#000" stroke="#000" stroke-width="1.5" />
<ellipse cx="1839.0" cy="2248.5" rx="6.0" ry="2.5" fill="#333" stroke="#000" stroke-width="0.8" />
<rect x="1639.5" y="2484" width="8" height="14" rx="1.5" fill="#fff" stroke="#000" stroke-width="1.7"/>
<path d="M1631.5,2475 L1631.5,2480 A12,6 0 0 0 1655.5,2480 L1655.5,2475 Z" fill="#fff" stroke="#000" stroke-width="2"/>
<ellipse cx="1643.5" cy="2475.0" rx="12.0" ry="6.0" fill="#000" stroke="#000" stroke-width="1.5" />
<ellipse cx="1643.5" cy="2475.5" rx="6.0" ry="2.5" fill="#333" stroke="#000" stroke-width="0.8" />
<path d="M810,2309 L810,2304 Q811,2301 816,2300" fill="none" stroke="#000" stroke-width="2" stroke-linejoin="round"/>
<rect x="809.4" y="2304" width="3.2" height="252" fill="#fff" stroke="#000" stroke-width="1.3"/>
<rect x="808.5" y="2556" width="5" height="7" fill="#fff" stroke="#000" stroke-width="1.4"/>
<path d="M800,2567 L799,2625 A12,5 0 0 0 823,2625 L822,2567 Z" fill="#fff" stroke="#000" stroke-width="1.8"/>
<ellipse cx="811.0" cy="2567.0" rx="11.0" ry="5.0" fill="#fff" stroke="#000" stroke-width="1.8" />
<path d="M799.5,2584.8 A11.5,5.0 0 0 0 822.5,2584.8" fill="none" stroke="#000" stroke-width="1.8"/>
<path d="M1010,2113 L1010,2108 Q1011,2105 1016,2104" fill="none" stroke="#000" stroke-width="2" stroke-linejoin="round"/>
<rect x="1009.4" y="2108" width="3.2" height="254" fill="#fff" stroke="#000" stroke-width="1.3"/>
<rect x="1008.5" y="2362" width="5" height="7" fill="#fff" stroke="#000" stroke-width="1.4"/>
<path d="M1000,2373 L999,2430 A12,5 0 0 0 1023,2430 L1022,2373 Z" fill="#fff" stroke="#000" stroke-width="1.8"/>
<ellipse cx="1011.0" cy="2373.0" rx="11.0" ry="5.0" fill="#fff" stroke="#000" stroke-width="1.8" />
<path d="M999.5,2390.4 A11.5,5.0 0 0 0 1022.5,2390.4" fill="none" stroke="#000" stroke-width="1.8"/>
<path d="M1837,2298 L1837,2293 Q1838,2290 1843,2289" fill="none" stroke="#000" stroke-width="2" stroke-linejoin="round"/>
<rect x="1836.4" y="2293" width="3.2" height="253" fill="#fff" stroke="#000" stroke-width="1.3"/>
<rect x="1835.5" y="2546" width="5" height="7" fill="#fff" stroke="#000" stroke-width="1.4"/>
<path d="M1827,2557 L1826,2615 A12,5 0 0 0 1850,2615 L1849,2557 Z" fill="#fff" stroke="#000" stroke-width="1.8"/>
<ellipse cx="1838.0" cy="2557.0" rx="11.0" ry="5.0" fill="#fff" stroke="#000" stroke-width="1.8" />
<path d="M1826.5,2574.8 A11.5,5.0 0 0 0 1849.5,2574.8" fill="none" stroke="#000" stroke-width="1.8"/>
<path d="M1642,2532 L1642,2527 Q1643,2524 1648,2523" fill="none" stroke="#000" stroke-width="2" stroke-linejoin="round"/>
<rect x="1641.4" y="2527" width="3.2" height="259" fill="#fff" stroke="#000" stroke-width="1.3"/>
<rect x="1640.5" y="2786" width="5" height="7" fill="#fff" stroke="#000" stroke-width="1.4"/>
<path d="M1632,2797 L1631,2848 A12,5 0 0 0 1655,2848 L1654,2797 Z" fill="#fff" stroke="#000" stroke-width="1.8"/>
<ellipse cx="1643.0" cy="2797.0" rx="11.0" ry="5.0" fill="#fff" stroke="#000" stroke-width="1.8" />
<path d="M1631.5,2812.5 A11.5,5.0 0 0 0 1654.5,2812.5" fill="none" stroke="#000" stroke-width="1.8"/>
<path d="M1256,2889 L1256,2894 A18,10 0 0 0 1292,2894 L1292,2889 Z" fill="#fff" stroke="#000" stroke-width="2"/>
<ellipse cx="1274.0" cy="2889.0" rx="18.0" ry="10.0" fill="#fff" stroke="#000" stroke-width="2" />
<ellipse cx="1274.0" cy="2889.0" rx="12.0" ry="6.0" fill="none" stroke="#000" stroke-width="2.2" />
<path d="M1335,2897 L1335,2903 A23,11 0 0 0 1381,2903 L1381,2897 Z" fill="#fff" stroke="#000" stroke-width="2"/>
<path d="M1340,2876 L1337,2897 A21,10 0 0 0 1379,2897 L1376,2876 Z" fill="#fff" stroke="#000" stroke-width="2"/>
<path d="M1337.0,2896.0 A21.0,9.0 0 0 0 1379.0,2896.0" fill="none" stroke="#000" stroke-width="1.6"/>
<ellipse cx="1358.0" cy="2876.0" rx="18.0" ry="9.0" fill="#fff" stroke="#000" stroke-width="2" />
<path d="M1351,2867 L1351,2875 A7,3.5 0 0 0 1365,2875 L1365,2867 Z" fill="#fff" stroke="#000" stroke-width="1.8"/>
<ellipse cx="1358.0" cy="2867.0" rx="7.0" ry="3.5" fill="#fff" stroke="#000" stroke-width="1.8" />
<path d="M1101,2403 L1085,2687 L1098,2700 L1132,2712 L1125,2430 Z" fill="#fff" stroke="#000" stroke-width="1.8" stroke-linejoin="round"/>
<line x1="1115.6" y1="2427.0" x2="1098.0" y2="2700.0" stroke="#000" stroke-width="1.6"/>
<path d="M1077,2683 L1076,2697 L1090,2728 L1104,2737 L1130,2743 L1142,2741 L1142,2725 L1130,2712 L1098,2703 L1085,2690 Z" fill="#fff" stroke="#000" stroke-width="1.8" stroke-linejoin="round"/>
<path d="M1086,2690 L1088,2708 L1098,2720 L1137,2727" fill="none" stroke="#000" stroke-width="1.4" stroke-linejoin="round"/>
<ellipse cx="1097.0" cy="2691.0" rx="3.0" ry="3.0" fill="none" stroke="#000" stroke-width="1.4" />
<path d="M1096,2400 L1112,2398 L1113,2405 L1098,2406 Z" fill="#000" stroke="#000" stroke-width="1.6" stroke-linejoin="round"/>
<path d="M1107,2413 L1118,2422 L1111,2450 L1116,2460 L1108,2480 L1115,2485" fill="none" stroke="#000" stroke-width="1.5" stroke-linejoin="round"/>
<path d="M1516,2396 L1524.6,2385 L1546,2638 L1551,2655 L1549,2670 L1530,2681 L1512,2680 L1510,2689 Z" fill="#fff" stroke="#000" stroke-width="1.8" stroke-linejoin="round"/>
<path d="M1512,2646 L1545,2643 L1543,2630" fill="none" stroke="#000" stroke-width="1.5" stroke-linejoin="round"/>
<path d="M1512,2663 L1550,2656" fill="none" stroke="#000" stroke-width="1.4" stroke-linejoin="round"/>
<path d="M1516,2385 L1532,2383 L1534,2390 L1518,2392 Z" fill="#000" stroke="#000" stroke-width="1.6" stroke-linejoin="round"/>
<path d="M1125,2429 L1132,2734 C1190,2790 1250,2811 1300,2811 C1390,2806 1470,2770 1510,2689 L1516.4,2396 Z" fill="#fff" stroke="#000" stroke-width="2" stroke-linejoin="round"/>
<rect x="1154.4" y="2736" width="3.2" height="30" fill="#fff" stroke="#000" stroke-width="1.6"/>
<rect x="1171.4" y="2748" width="3.2" height="29" fill="#fff" stroke="#000" stroke-width="1.6"/>
<rect x="1191.4" y="2758" width="3.2" height="30" fill="#fff" stroke="#000" stroke-width="1.6"/>
<rect x="1235.4" y="2770" width="3.2" height="30" fill="#fff" stroke="#000" stroke-width="1.6"/>
<rect x="1261.4" y="2774" width="3.2" height="28" fill="#fff" stroke="#000" stroke-width="1.6"/>
<rect x="1286.4" y="2778" width="3.2" height="27" fill="#fff" stroke="#000" stroke-width="1.6"/>
<rect x="1422.4" y="2767" width="3.2" height="25" fill="#fff" stroke="#000" stroke-width="1.6"/>
<rect x="1438.4" y="2756" width="3.2" height="30" fill="#fff" stroke="#000" stroke-width="1.6"/>
<rect x="1453.4" y="2749" width="3.2" height="29" fill="#fff" stroke="#000" stroke-width="1.6"/>
<rect x="1469.4" y="2737" width="3.2" height="30" fill="#fff" stroke="#000" stroke-width="1.6"/>
<rect x="1495.4" y="2712" width="3.2" height="30" fill="#fff" stroke="#000" stroke-width="1.6"/>
<rect x="1504.4" y="2697" width="3.2" height="29" fill="#fff" stroke="#000" stroke-width="1.6"/>
<rect x="1509.4" y="2681" width="3.2" height="28" fill="#fff" stroke="#000" stroke-width="1.6"/>
<path d="M1210.4,2485 L1214,2790 M1218.7,2487 L1221,2790" fill="none" stroke="#000" stroke-width="1.6" stroke-linejoin="round"/>
<path d="M1485.5,2446 L1481,2755 M1491.6,2443 L1487,2752" fill="none" stroke="#000" stroke-width="1.6" stroke-linejoin="round"/>
<path d="M1125.0,2470.7 C1125.0,2510.5 1219.0,2542.8 1335.0,2542.8 C1434.7,2542.8 1515.5,2497.7 1515.5,2442.0" fill="none" stroke="#000" stroke-width="3.2" stroke-linejoin="round"/>
<path d="M1125.0,2495.4 C1125.0,2534.1 1219.0,2565.5 1335.0,2565.5 C1434.7,2565.5 1515.5,2521.2 1515.5,2466.5" fill="none" stroke="#000" stroke-width="3.2" stroke-linejoin="round"/>
<path d="M1125.0,2514.0 C1125.0,2553.8 1219.0,2586.0 1335.0,2586.0 C1434.7,2586.0 1515.5,2541.7 1515.5,2487.0" fill="none" stroke="#000" stroke-width="3.2" stroke-linejoin="round"/>
<path d="M1109,2643 L1136,2640 L1138,2650 L1110,2646 Z" fill="#fff" stroke="#000" stroke-width="1.6" stroke-linejoin="round"/>
<line x1="1109.0" y1="2643.0" x2="1110.0" y2="2646.0" stroke="#000" stroke-width="2.6"/>
<path d="M1109,2660 L1136,2657 L1138,2667 L1110,2663 Z" fill="#fff" stroke="#000" stroke-width="1.6" stroke-linejoin="round"/>
<line x1="1109.0" y1="2660.0" x2="1110.0" y2="2663.0" stroke="#000" stroke-width="2.6"/>
<path d="M1109,2677 L1136,2674 L1138,2684 L1110,2680 Z" fill="#fff" stroke="#000" stroke-width="1.6" stroke-linejoin="round"/>
<line x1="1109.0" y1="2677.0" x2="1110.0" y2="2680.0" stroke="#000" stroke-width="2.6"/>
<path d="M1109,2694 L1136,2691 L1138,2701 L1110,2697 Z" fill="#fff" stroke="#000" stroke-width="1.6" stroke-linejoin="round"/>
<line x1="1109.0" y1="2694.0" x2="1110.0" y2="2697.0" stroke="#000" stroke-width="2.6"/>
<path d="M1109,2711 L1136,2708 L1138,2718 L1110,2714 Z" fill="#fff" stroke="#000" stroke-width="1.6" stroke-linejoin="round"/>
<line x1="1109.0" y1="2711.0" x2="1110.0" y2="2714.0" stroke="#000" stroke-width="2.6"/>
<path d="M1512,2590 L1531,2582 L1529,2587 L1513,2596" fill="none" stroke="#000" stroke-width="2" stroke-linejoin="round"/>
<path d="M1512,2608 L1531,2600 L1529,2605 L1513,2614" fill="none" stroke="#000" stroke-width="2" stroke-linejoin="round"/>
<path d="M1512,2626 L1531,2618 L1529,2623 L1513,2632" fill="none" stroke="#000" stroke-width="2" stroke-linejoin="round"/>
<path d="M1512,2644 L1531,2636 L1529,2641 L1513,2650" fill="none" stroke="#000" stroke-width="2" stroke-linejoin="round"/>
<path d="M1343,2497 L1338,2792 L1317,2782 L1320,2800 L1327,2819 L1366,2815 L1405,2808 L1408,2795 L1395,2789 L1394.8,2497 Z" fill="#fff" stroke="#000" stroke-width="2" stroke-linejoin="round"/>
<path d="M1349,2497 L1353,2790 M1388,2497 L1384,2790" fill="none" stroke="#000" stroke-width="1.6" stroke-linejoin="round"/>
<path d="M1347,2502 L1389,2500 L1389,2508 L1347,2510 Z" fill="#000" stroke="#000" stroke-width="1.6" stroke-linejoin="round"/>
<line x1="1350.0" y1="2514.0" x2="1386.0" y2="2512.0" stroke="#000" stroke-width="2.4"/>
<line x1="1350.0" y1="2524.0" x2="1386.0" y2="2522.0" stroke="#000" stroke-width="2.4"/>
<line x1="1350.0" y1="2534.0" x2="1386.0" y2="2532.0" stroke="#000" stroke-width="2.4"/>
<line x1="1350.0" y1="2544.0" x2="1386.0" y2="2542.0" stroke="#000" stroke-width="2.4"/>
<line x1="1350.0" y1="2554.0" x2="1386.0" y2="2552.0" stroke="#000" stroke-width="2.4"/>
<path d="M1358,2556 L1390,2552 L1390,2560 L1360,2563 Z" fill="#fff" stroke="#000" stroke-width="1.6" stroke-linejoin="round"/>
<line x1="1355.0" y1="2650.0" x2="1356.0" y2="2780.0" stroke="#000" stroke-width="2.6"/>
<line x1="1377.0" y1="2648.0" x2="1378.0" y2="2770.0" stroke="#000" stroke-width="2.6"/>
<path d="M1353,2712 L1390,2709 L1390,2716 L1353,2719 Z" fill="#fff" stroke="#000" stroke-width="1.4" stroke-linejoin="round"/>
<path d="M1353,2745 L1390,2742 L1390,2749 L1353,2752 Z" fill="#fff" stroke="#000" stroke-width="1.4" stroke-linejoin="round"/>
<ellipse cx="1372.0" cy="2796.0" rx="14.0" ry="8.0" fill="none" stroke="#000" stroke-width="1.6" />
<ellipse cx="1372.0" cy="2790.0" rx="8.0" ry="4.0" fill="none" stroke="#000" stroke-width="1.4" />
<path d="M1327,2712 L1348,2717 L1349,2724 Z" fill="#fff" stroke="#000" stroke-width="1.8" stroke-linejoin="round"/>
<path d="M1395,2708 L1402,2702 L1398,2716" fill="none" stroke="#000" stroke-width="1.8" stroke-linejoin="round"/>
<path d="M1327,2728 L1348,2733 L1349,2740 Z" fill="#fff" stroke="#000" stroke-width="1.8" stroke-linejoin="round"/>
<path d="M1395,2724 L1402,2718 L1398,2732" fill="none" stroke="#000" stroke-width="1.8" stroke-linejoin="round"/>
<path d="M1327,2744 L1348,2749 L1349,2756 Z" fill="#fff" stroke="#000" stroke-width="1.8" stroke-linejoin="round"/>
<path d="M1395,2740 L1402,2734 L1398,2748" fill="none" stroke="#000" stroke-width="1.8" stroke-linejoin="round"/>
<path d="M1327,2760 L1348,2765 L1349,2772 Z" fill="#fff" stroke="#000" stroke-width="1.8" stroke-linejoin="round"/>
<path d="M1395,2756 L1402,2750 L1398,2764" fill="none" stroke="#000" stroke-width="1.8" stroke-linejoin="round"/>
<path d="M1316.5,2781 L1340,2778" fill="none" stroke="#000" stroke-width="1.6" stroke-linejoin="round"/>
<ellipse cx="1313.0" cy="2379.0" rx="206.0" ry="121.0" fill="#fff" stroke="#000" stroke-width="2.0" />
<ellipse cx="1313.0" cy="2380.0" rx="201.0" ry="116.0" fill="none" stroke="#000" stroke-width="2.6" />
<path d="M1113.0,2386.0 A200.0,120.0 0 0 0 1513.0,2386.0" fill="none" stroke="#000" stroke-width="1.3"/>
<ellipse cx="1148.0" cy="2460.0" rx="3.0" ry="2.0" fill="#000" stroke="#000" stroke-width="1.6" />
<ellipse cx="1286.0" cy="2500.0" rx="3.0" ry="2.0" fill="#000" stroke="#000" stroke-width="1.6" />
<ellipse cx="1440.0" cy="2475.0" rx="3.0" ry="2.0" fill="#000" stroke="#000" stroke-width="1.6" />
<ellipse cx="1236.0" cy="2263.0" rx="3.0" ry="2.0" fill="#000" stroke="#000" stroke-width="1.6" />
<ellipse cx="1274.0" cy="2259.0" rx="3.0" ry="2.0" fill="#000" stroke="#000" stroke-width="1.6" />
<path d="M1516,2351 L1528,2347 L1530,2354 L1518,2358 Z" fill="#000" stroke="#000" stroke-width="1.4" stroke-linejoin="round"/>
<line x1="1526.0" y1="423.0" x2="1473.0" y2="450.0" stroke="#000" stroke-width="2.2"/>
<line x1="1533.0" y1="570.0" x2="1480.0" y2="597.0" stroke="#000" stroke-width="2.2"/>
<line x1="1542.0" y1="705.0" x2="1489.0" y2="730.0" stroke="#000" stroke-width="2.2"/>
<line x1="1228.0" y1="921.0" x2="1273.0" y2="946.0" stroke="#000" stroke-width="2.2"/>
<line x1="1370.0" y1="1017.0" x2="1323.0" y2="1040.0" stroke="#000" stroke-width="2.2"/>
<line x1="1227.0" y1="1087.0" x2="1272.0" y2="1110.0" stroke="#000" stroke-width="2.2"/>
<line x1="1420.0" y1="1215.0" x2="1355.0" y2="1247.0" stroke="#000" stroke-width="2.2"/>
<line x1="1580.0" y1="1261.0" x2="1515.0" y2="1293.0" stroke="#000" stroke-width="2.2"/>
<line x1="1600.0" y1="1318.0" x2="1536.0" y2="1351.0" stroke="#000" stroke-width="2.2"/>
<line x1="1542.0" y1="1533.0" x2="1495.0" y2="1557.0" stroke="#000" stroke-width="2.2"/>
<line x1="1029.0" y1="1660.0" x2="1102.0" y2="1690.0" stroke="#000" stroke-width="2.2"/>
<line x1="1135.0" y1="1881.0" x2="1196.0" y2="1907.0" stroke="#000" stroke-width="2.2"/>
<line x1="1505.0" y1="1842.0" x2="1450.0" y2="1871.0" stroke="#000" stroke-width="2.2"/>
<line x1="1422.0" y1="2041.0" x2="1370.0" y2="2069.0" stroke="#000" stroke-width="2.2"/>
<line x1="1220.0" y1="2124.0" x2="1281.0" y2="2152.0" stroke="#000" stroke-width="2.2"/>
<line x1="1384.0" y1="2183.0" x2="1341.0" y2="2207.0" stroke="#000" stroke-width="2.2"/>
<line x1="1523.0" y1="2184.0" x2="1461.0" y2="2220.0" stroke="#000" stroke-width="2.2"/>
<line x1="937.0" y1="2033.0" x2="990.0" y2="2056.0" stroke="#000" stroke-width="2.2"/>
<line x1="942.0" y1="2128.0" x2="1003.0" y2="2154.0" stroke="#000" stroke-width="2.2"/>
<line x1="747.0" y1="2228.0" x2="801.0" y2="2251.0" stroke="#000" stroke-width="2.2"/>
<line x1="739.0" y1="2327.0" x2="802.0" y2="2354.0" stroke="#000" stroke-width="2.2"/>
<line x1="1605.0" y1="2359.0" x2="1537.0" y2="2396.0" stroke="#000" stroke-width="2.2"/>
<line x1="1197.0" y1="2854.0" x2="1251.0" y2="2881.0" stroke="#000" stroke-width="2.2"/>
<line x1="1435.0" y1="2858.0" x2="1381.0" y2="2884.0" stroke="#000" stroke-width="2.2"/>
<line x1="1891.0" y1="2223.0" x2="1856.0" y2="2243.0" stroke="#000" stroke-width="2.2"/>
<line x1="1890.0" y1="2353.0" x2="1844.0" y2="2378.0" stroke="#000" stroke-width="2.2"/>
<line x1="1695.0" y1="2452.0" x2="1660.0" y2="2471.0" stroke="#000" stroke-width="2.2"/>
<line x1="1695.0" y1="2581.0" x2="1648.0" y2="2606.0" stroke="#000" stroke-width="2.2"/>
<text x="1528.9" y="419.8" class="lb" xml:space="preserve">22 </text>
<path d="M1585.17,391.20 L1588.87,391.20 L1588.87,419.80 L1585.17,419.80 L1585.17,397.20 L1578.37,401.70 L1578.37,398.50 L1584.47,391.50 Z" fill="#000" stroke="#000" stroke-width="0.7"/>
<text x="1534.9" y="570.8" class="lb" xml:space="preserve">224</text>
<text x="1543.9" y="705.8" class="lb" xml:space="preserve">206</text>
<text x="1161.6" y="925.8" class="lb" xml:space="preserve"> 82</text>
<path d="M1174.14,897.20 L1177.84,897.20 L1177.84,925.80 L1174.14,925.80 L1174.14,903.20 L1167.34,907.70 L1167.34,904.50 L1173.44,897.50 Z" fill="#000" stroke="#000" stroke-width="0.7"/>
<text x="1373.9" y="1016.8" class="lb" xml:space="preserve">227</text>
<text x="1160.9" y="1090.8" class="lb" xml:space="preserve">233</text>
<text x="1414.6" y="1213.8" class="lb" xml:space="preserve"> 79</text>
<path d="M1427.14,1185.20 L1430.84,1185.20 L1430.84,1213.80 L1427.14,1213.80 L1427.14,1191.20 L1420.34,1195.70 L1420.34,1192.50 L1426.44,1185.50 Z" fill="#000" stroke="#000" stroke-width="0.7"/>
<text x="1578.0" y="1262.8" class="lb" xml:space="preserve">492</text>
<text x="1595.6" y="1323.8" class="lb" xml:space="preserve"> 76</text>
<path d="M1608.14,1295.20 L1611.84,1295.20 L1611.84,1323.80 L1608.14,1323.80 L1608.14,1301.20 L1601.34,1305.70 L1601.34,1302.50 L1607.44,1295.50 Z" fill="#000" stroke="#000" stroke-width="0.7"/>
<text x="1546.9" y="1533.8" class="lb" xml:space="preserve">209</text>
<text x="940.6" y="1658.8" class="lb" xml:space="preserve">  4 </text>
<path d="M953.14,1630.20 L956.84,1630.20 L956.84,1658.80 L953.14,1658.80 L953.14,1636.20 L946.34,1640.70 L946.34,1637.50 L952.44,1630.50 Z" fill="#000" stroke="#000" stroke-width="0.7"/>
<path d="M975.02,1630.20 L978.72,1630.20 L978.72,1658.80 L975.02,1658.80 L975.02,1636.20 L968.22,1640.70 L968.22,1637.50 L974.32,1630.50 Z" fill="#000" stroke="#000" stroke-width="0.7"/>
<path d="M1018.78,1630.20 L1022.48,1630.20 L1022.48,1658.80 L1018.78,1658.80 L1018.78,1636.20 L1011.98,1640.70 L1011.98,1637.50 L1018.08,1630.50 Z" fill="#000" stroke="#000" stroke-width="0.7"/>
<text x="1070.9" y="1877.8" class="lb" xml:space="preserve">2 2</text>
<path d="M1105.29,1849.20 L1108.99,1849.20 L1108.99,1877.80 L1105.29,1877.80 L1105.29,1855.20 L1098.49,1859.70 L1098.49,1856.50 L1104.59,1849.50 Z" fill="#000" stroke="#000" stroke-width="0.7"/>
<text x="1499.6" y="1839.8" class="lb" xml:space="preserve">   2</text>
<path d="M1512.14,1811.20 L1515.84,1811.20 L1515.84,1839.80 L1512.14,1839.80 L1512.14,1817.20 L1505.34,1821.70 L1505.34,1818.50 L1511.44,1811.50 Z" fill="#000" stroke="#000" stroke-width="0.7"/>
<path d="M1534.02,1811.20 L1537.72,1811.20 L1537.72,1839.80 L1534.02,1839.80 L1534.02,1817.20 L1527.22,1821.70 L1527.22,1818.50 L1533.32,1811.50 Z" fill="#000" stroke="#000" stroke-width="0.7"/>
<path d="M1555.90,1811.20 L1559.60,1811.20 L1559.60,1839.80 L1555.90,1839.80 L1555.90,1817.20 L1549.10,1821.70 L1549.10,1818.50 L1555.20,1811.50 Z" fill="#000" stroke="#000" stroke-width="0.7"/>
<text x="1422.9" y="2039.8" class="lb" xml:space="preserve">25 </text>
<path d="M1479.17,2011.20 L1482.87,2011.20 L1482.87,2039.80 L1479.17,2039.80 L1479.17,2017.20 L1472.37,2021.70 L1472.37,2018.50 L1478.47,2011.50 Z" fill="#000" stroke="#000" stroke-width="0.7"/>
<text x="1152.9" y="2124.8" class="lb" xml:space="preserve">2 8</text>
<path d="M1187.29,2096.20 L1190.99,2096.20 L1190.99,2124.80 L1187.29,2124.80 L1187.29,2102.20 L1180.49,2106.70 L1180.49,2103.50 L1186.59,2096.50 Z" fill="#000" stroke="#000" stroke-width="0.7"/>
<text x="1386.9" y="2180.8" class="lb" xml:space="preserve">203</text>
<text x="1528.9" y="2181.8" class="lb" xml:space="preserve">254</text>
<text x="876.6" y="2034.8" class="lb" xml:space="preserve"> 97</text>
<path d="M889.14,2006.20 L892.84,2006.20 L892.84,2034.80 L889.14,2034.80 L889.14,2012.20 L882.34,2016.70 L882.34,2013.50 L888.44,2006.50 Z" fill="#000" stroke="#000" stroke-width="0.7"/>
<text x="871.6" y="2131.8" class="lb" xml:space="preserve"> 88</text>
<path d="M884.14,2103.20 L887.84,2103.20 L887.84,2131.80 L884.14,2131.80 L884.14,2109.20 L877.34,2113.70 L877.34,2110.50 L883.44,2103.50 Z" fill="#000" stroke="#000" stroke-width="0.7"/>
<text x="686.6" y="2229.8" class="lb" xml:space="preserve"> 97</text>
<path d="M699.14,2201.20 L702.84,2201.20 L702.84,2229.80 L699.14,2229.80 L699.14,2207.20 L692.34,2211.70 L692.34,2208.50 L698.44,2201.50 Z" fill="#000" stroke="#000" stroke-width="0.7"/>
<text x="669.6" y="2328.8" class="lb" xml:space="preserve"> 85</text>
<path d="M682.14,2300.20 L685.84,2300.20 L685.84,2328.80 L682.14,2328.80 L682.14,2306.20 L675.34,2310.70 L675.34,2307.50 L681.44,2300.50 Z" fill="#000" stroke="#000" stroke-width="0.7"/>
<text x="1596.6" y="2357.8" class="lb" xml:space="preserve"> 73</text>
<path d="M1609.14,2329.20 L1612.84,2329.20 L1612.84,2357.80 L1609.14,2357.80 L1609.14,2335.20 L1602.34,2339.70 L1602.34,2336.50 L1608.44,2329.50 Z" fill="#000" stroke="#000" stroke-width="0.7"/>
<text x="1128.9" y="2854.8" class="lb" xml:space="preserve">20 </text>
<path d="M1185.17,2826.20 L1188.87,2826.20 L1188.87,2854.80 L1185.17,2854.80 L1185.17,2832.20 L1178.37,2836.70 L1178.37,2833.50 L1184.47,2826.50 Z" fill="#000" stroke="#000" stroke-width="0.7"/>
<text x="1434.9" y="2857.8" class="lb" xml:space="preserve">242</text>
<text x="1883.6" y="2221.8" class="lb" xml:space="preserve"> 97</text>
<path d="M1896.14,2193.20 L1899.84,2193.20 L1899.84,2221.80 L1896.14,2221.80 L1896.14,2199.20 L1889.34,2203.70 L1889.34,2200.50 L1895.44,2193.50 Z" fill="#000" stroke="#000" stroke-width="0.7"/>
<text x="1885.6" y="2352.8" class="lb" xml:space="preserve"> 88</text>
<path d="M1898.14,2324.20 L1901.84,2324.20 L1901.84,2352.80 L1898.14,2352.80 L1898.14,2330.20 L1891.34,2334.70 L1891.34,2331.50 L1897.44,2324.50 Z" fill="#000" stroke="#000" stroke-width="0.7"/>
<text x="1688.6" y="2450.8" class="lb" xml:space="preserve"> 97</text>
<path d="M1701.14,2422.20 L1704.84,2422.20 L1704.84,2450.80 L1701.14,2450.80 L1701.14,2428.20 L1694.34,2432.70 L1694.34,2429.50 L1700.44,2422.50 Z" fill="#000" stroke="#000" stroke-width="0.7"/>
<text x="1689.6" y="2579.8" class="lb" xml:space="preserve"> 85</text>
<path d="M1702.14,2551.20 L1705.84,2551.20 L1705.84,2579.80 L1702.14,2579.80 L1702.14,2557.20 L1695.34,2561.70 L1695.34,2558.50 L1701.44,2551.50 Z" fill="#000" stroke="#000" stroke-width="0.7"/>
<path d="M2086.19,228.10 L2089.89,228.10 L2089.89,256.70 L2086.19,256.70 L2086.19,234.10 L2079.39,238.60 L2079.39,235.40 L2085.49,228.40 Z" fill="#000" stroke="#000" stroke-width="0.7"/>
</svg>
</body></html>
